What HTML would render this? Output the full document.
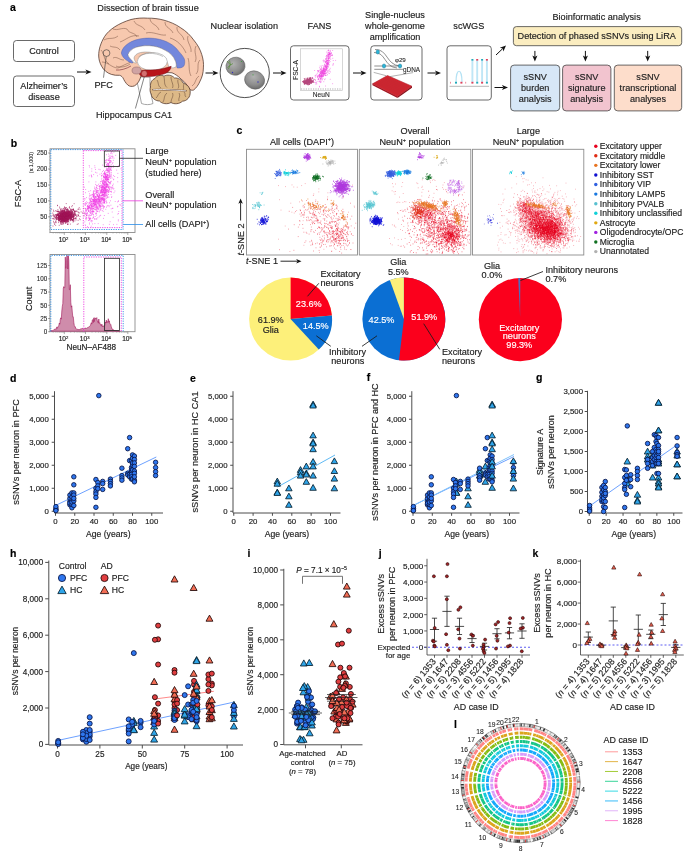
<!DOCTYPE html>
<html lang="en"><head><meta charset="utf-8"><title>Figure 1</title>
<style>
html,body{margin:0;padding:0;background:#fff;}
body{width:700px;height:856px;overflow:hidden;font-family:'Liberation Sans', Arial, Helvetica, sans-serif;}
svg{display:block;}
svg text{font-family:"Liberation Sans",Arial,Helvetica,sans-serif;stroke:#222;stroke-width:.16px;}
</style></head><body>
<svg width="700" height="856" viewBox="0 0 700 856">
<rect width="700" height="856" fill="#fff"/>
<g id="panel-a">
<text x="10" y="11.3" font-size="10.5" font-weight="bold" fill="#000" style="stroke:#000">a</text>
<text x="97.3" y="11.2" font-size="9.15" fill="#222">Dissection of brain tissue</text>
<rect x="13.5" y="40.5" width="61.00" height="21.00" rx="3" fill="#fff" stroke="#444" stroke-width="0.8"/>
<text x="44" y="54.2" font-size="9.15" text-anchor="middle" fill="#222">Control</text>
<rect x="13.5" y="76" width="61.00" height="30.50" rx="3" fill="#fff" stroke="#444" stroke-width="0.8"/>
<text x="44" y="89.3" font-size="9.15" text-anchor="middle" fill="#222">Alzheimer’s</text>
<text x="44" y="100.3" font-size="9.15" text-anchor="middle" fill="#222">disease</text>
<line x1="77" y1="72" x2="87.02" y2="72.00" stroke="#111" stroke-width="1.0"/>
<polygon points="91.50,72.00 85.42,74.56 87.02,72.00 85.42,69.44" fill="#111"/>
<g stroke="#4e3227" stroke-width="0.75" stroke-linejoin="round">
<path d="M136,77 C138,86 140,95 141.5,103.5 C145,105 150,105 153,103.5 C151,95 149.5,86 150,77 Z" fill="#fff" stroke="#888"/>
<path d="M98.7,56 C98.5,50 100.6,43 104.6,36.5 C109,29.6 118.5,23.3 131,19.5 C137,18 143,17.8 147.6,18.2 C153,18 159,18.8 164,20.2 C170,21.8 176,24.5 180.4,27.6 C186,31 190.5,35.5 193.6,39.9 C197.5,44.5 200.3,49.5 201.8,54.7 C203.2,59 203.8,63.5 203.4,67.9 C203.3,73 202,77.5 200.1,81 C198.5,85 196,88.3 193.6,90 C192,90.6 190.3,90 189.5,89.2 C188,86 185,82 181,79 C178,76 175,74 172,72.8 C165,72 150,74 141,76 C140,80 137.5,84.5 134.4,85.9 C132,86.8 129.5,86.5 127.9,85.1 C125.5,83 124,80 122.9,77.7 C121.5,76 120.5,75.5 119.6,75.3 C116.5,75.5 114,75.2 111.4,74.4 C107,73 103.5,70 101.6,66.2 C99.8,63 98.8,59.5 98.7,56 Z" fill="#f7c8ae"/>
<path d="M104,40 C109,37 113,40 118,36 M113,29 C118,31 122,27 127,29 M127,29 C129,34 135,32 137,37 M134,21 C136,26 142,25 145,30 M150,19 C151,25 157,24 159,30 M165,22 C165,28 171,28 173,33 M177,27 C176,33 183,34 184,40 M188,36 C186,42 192,46 191,52 M196,46 C193,52 198,57 195,62 M200,60 C196,64 200,70 196,74 M199,76 C195,78 196,84 192,86 M120,42 C126,40 131,34 139,36 M146,33 C153,31 160,36 166,35 M170,38 C177,40 183,46 186,53 M188,58 C190,64 188,70 191,76 M101,50 C105,54 103,60 109,64 M102,62 C108,62 112,68 118,68 M113,58 C117,56 119,60 124,60 M110,46 C114,48 117,46 120,50 M118,68 C122,66 126,64 131,62 M116,66 C120,68 126,67 130,64" fill="none" stroke-width="0.45" stroke="#6b4636"/>
<path d="M116,70 C120,70.5 126,69 131,66" fill="none" stroke="#a05a5a" stroke-width="0.9"/>
<path d="M121.3,53 C122.5,46 131,39.5 144.3,38.3 C151,37.6 158,38.6 164,40.7 C170,42.8 175.5,46.6 178.8,51.4 C181.5,54.5 183.8,57 184.5,59.6 C185,62 184.8,64.5 183.7,66.2 C182,67.8 179,68.3 177.1,67.9 C176.4,66 176.5,63.5 175.5,61.3 C173.5,56 170,52.8 165.6,50.6 C160.5,47.5 155,45.9 149.2,45.7 C144.5,45.5 140,46 136.1,47.3 C132,48.8 129,51.5 127.9,54.7 C128.5,57 130.5,59 132,60.5 C133,61.5 133.2,62.3 132.8,62.9 C131.5,63.3 129.5,62.3 127.5,60.8 C124.5,59 122,56.5 121.3,53 Z" fill="#7387dc" stroke="#5463ad" stroke-width="0.5"/>
<path d="M127.9,54.7 C129,51.5 132,48.8 136.1,47.3 C140,46 144.5,45.5 149.2,45.7 C155,45.9 160.5,47.5 165.6,50.6 C170,52.8 173.5,56 175.5,61.3 C176.3,63.5 176.3,65.5 176,67 C173,68.5 170,68 168.5,66.5 C168,62 165,57 159,54.5 C153,52 146,51.5 140.5,52.5 C136.5,53.5 134.5,55.5 134,58 C134.3,60 135.3,61.8 136.5,63 C134.5,63.2 133.2,62.5 132,60.5 C130.5,59 128.5,57 127.9,54.7 Z" fill="#fff" stroke="#8a8a8a" stroke-width="0.5"/>
<ellipse cx="152.3" cy="61.5" rx="15" ry="9" fill="#fff" stroke="#8a8a8a" stroke-width="0.5"/>
<path d="M138.5,57 C143,52.5 155,52 163,56.5" fill="none" stroke="#8a8a8a" stroke-width="0.5"/>
<path d="M140.5,70.5 C146,69.6 154,70.3 160,69.2 C164.5,68.4 168,67.3 171.2,66.3 C171,69.3 168.5,72 165,73.6 C159,76.2 151,76.8 143.5,76.8 C140.5,76.5 139.2,74.5 139.2,72.8 C139.3,71.6 139.8,70.8 140.5,70.5 Z" fill="#b8151a" stroke="#6d0b0f" stroke-width="0.5"/>
<ellipse cx="136.6" cy="70.5" rx="4.6" ry="3.5" fill="#cfa3a3" stroke="#8a6060" stroke-width="0.5"/>
<ellipse cx="144.3" cy="73.6" rx="2.9" ry="3.1" fill="#d46f6f" stroke="#7a1a1a" stroke-width="0.5"/>
<path d="M150.5,87 C150,83 152,79.5 155,78.5 C156.5,75.5 161,74.5 164,76.2 C167,74.3 172,75 174.5,78 C178,77.5 182,80 183,83 C187,84 190.5,88 190.2,92 C190.5,97 187,101 182.5,101.2 C179.5,104 174,104.6 171,102.5 C167.5,104.5 162,104 159.5,101 C155.5,101 151.5,98 151.2,94 C149.8,92 149.8,89 150.5,87 Z" fill="#ddb987"/>
<path d="M157,80 C159,83 157.5,86 161,88 M164,77 C165,81 163.5,84.5 167,87.5 M171,77 C171,82 174,84 172.5,88 M178,79.5 C177,83 180,85.5 178,88.5 M184,84 C182.5,86.5 184.5,88 183,90 M156,98 C158.5,96 157.5,93.5 161,92 M163,102 C165,98.5 163.5,96 167,93 M171,102.5 C171,98.5 174,96.5 172.5,93 M179,101 C178,98 181,96 179,93 M186,97 C184,95.5 186,93.5 184,92" fill="none" stroke-width="0.45"/>
<path d="M152.5,89.8 C160,88.8 170,90 186.5,90.8" fill="none" stroke="#5b3b2e" stroke-width="1.5"/>
<path d="M153,89.8 C160,88.8 170,90 186,90.8" fill="none" stroke="#fff" stroke-width="0.8"/>
</g>
<circle cx="106.5" cy="53.1" r="3.4" fill="none" stroke="#333" stroke-width="0.6"/>
<line x1="106.2" y1="56.6" x2="103.5" y2="77.7" stroke="#333" stroke-width="0.6"/>
<text x="94.5" y="87.8" font-size="9.15" fill="#222">PFC</text>
<line x1="144.3" y1="76.7" x2="135.4" y2="108.5" stroke="#333" stroke-width="0.6"/>
<text x="96" y="117.5" font-size="9.15" fill="#222">Hippocampus CA1</text>
<line x1="205.5" y1="73" x2="214.02" y2="73.00" stroke="#111" stroke-width="1.0"/>
<polygon points="218.50,73.00 212.42,75.56 214.02,73.00 212.42,70.44" fill="#111"/>
<text x="244.3" y="28.8" font-size="9.15" text-anchor="middle" fill="#222">Nuclear isolation</text>
<circle cx="244.75" cy="73" r="24.6" fill="#fff" stroke="#222" stroke-width="0.8"/>
<defs><radialGradient id="nuc" cx="0.4" cy="0.35" r="0.7"><stop offset="0" stop-color="#b2b2b2"/><stop offset="0.65" stop-color="#8c8c8c"/><stop offset="1" stop-color="#686868"/></radialGradient></defs>
<ellipse cx="235.5" cy="66.2" rx="9.6" ry="9" fill="url(#nuc)" stroke="#5a5a5a" stroke-width="0.5" transform="rotate(-15 235.5 66.2)"/>
<ellipse cx="254.6" cy="80" rx="10.1" ry="9" fill="url(#nuc)" stroke="#5a5a5a" stroke-width="0.5" transform="rotate(20 254.6 80)"/>
<path d="M227,61 l3.5,4 l-1,-4.5 M227.5,67.5 l3,-2.5 l2.5,-1.5 M228.5,69 l1.5,-4" stroke="#4c8a2a" stroke-width="0.6" fill="none"/>
<circle cx="241.5" cy="61.5" r="0.6" fill="#3aa03a"/><circle cx="232.5" cy="72.5" r="0.7" fill="#3030c0"/><circle cx="253" cy="74.8" r="0.6" fill="#3aa03a"/><circle cx="258" cy="82" r="0.7" fill="#3030c0"/>
<line x1="273" y1="73" x2="282.02" y2="73.00" stroke="#111" stroke-width="1.0"/>
<polygon points="286.50,73.00 280.42,75.56 282.02,73.00 280.42,70.44" fill="#111"/>
<text x="319.5" y="28.8" font-size="9.15" text-anchor="middle" fill="#222">FANS</text>
<rect x="290.5" y="45.8" width="58.50" height="54.20" rx="3" fill="#fff" stroke="#444" stroke-width="0.8"/>
<rect x="300.5" y="48.8" width="42" height="41.7" fill="#fff" stroke="#bbb" stroke-width="0.6"/>
<text x="297.9" y="70" font-size="6.6" text-anchor="middle" transform="rotate(-90 297.9 70)" fill="#222" style="stroke-width:.08px">FSC-A</text>
<text x="321.3" y="97.4" font-size="6.6" text-anchor="middle" fill="#222" style="stroke-width:.08px">NeuN</text>
<path transform="scale(.1)" d="M3043 786zm4 10zm4 2zm0-1zm9-14zm1 14zm7 1zm2-8zm0 7zm3 2zm1-10zm1 8zm3-1zm1 2zm0-7zm0-12zm1 19zm3 1zm0-4zm1 0zm2 2zm0 1zm0-2zm6-2zm0-8zm1 6zm1 7zm2-20zm0 11zm1 3zm4-5zm3 8zm0 1zm2-21zm0 16zm0-12zm2 18zm1-4zm1-10zm2 11zm1 2zm1 1zm0-1zm8-21zm2 10zm17 6zm-115 23zm7 9zm2-9zm1-7zm2 2zm3 5zm1-4zm1 9zm0-2zm1-13zm1 0zm2 9zm1-4zm2 0zm1 6zm0 4zm1 1zm2-5zm0-7zm1 2zm2 6zm0 0zm1 5zm0-22zm0 19zm1 1zm1-5zm1-7zm0-5zm1 9zm0 5zm1-3zm0-4zm0 2zm1-2zm0-4zm0 9zm0 3zm1-13zm0 15zm1-1zm0 5zm0-5zm1 4zm0-4zm1-5zm1-4zm0 13zm0-8zm1-9zm0 10zm1-2zm0 5zm2-2zm0-11zm1-3zm0 7zm0 14zm1-22zm0 3zm1 8zm0 7zm0 3zm1-14zm1 12zm0-11zm0 4zm0 10zm0-13zm0 4zm1 3zm0-4zm0-4zm1 1zm0 6zm0 7zm0-10zm0-14zm1 4zm0 2zm0 10zm0-2zm0-9zm0 13zm1-6zm0 9zm0 0zm0-17zm0-1zm0 15zm0-8zm1 14zm0-8zm0 6zm0 2zm1-21zm0 14zm1-2zm1 6zm0 2zm1-9zm1 5zm0 3zm1-9zm0 5zm0-11zm0 0zm0 17zm0-8zm0-8zm1 14zm0-7zm0-10zm0-1zm1 11zm0-11zm0 12zm0 2zm1-8zm0-10zm1 12zm0 6zm0-3zm0 6zm0-11zm1 9zm0-15zm0 16zm0-13zm0 4zm1 0zm0 2zm0 11zm0-12zm0 10zm1-6zm0-12zm0-4zm0 19zm0-4zm0 9zm0-2zm1-5zm0-11zm1 3zm0 8zm0-1zm1 3zm0 3zm0-10zm0 12zm0 0zm0-13zm1 3zm1 5zm1-11zm0-4zm0 9zm1 5zm1-9zm0 13zm0-10zm1 3zm0-3zm0-4zm1 9zm0-4zm0-13zm0 13zm1 9zm0-11zm1-6zm1 3zm1 13zm1-2zm0-8zm2 4zm0 3zm0-10zm0-1zm0-6zm1 4zm0 14zm2-1zm2-3zm0 7zm0-12zm1 13zm2-13zm0 10zm0-4zm2-8zm2 5zm3 9zm4-18zm2 8zm5 10zm-97 15zm0-4zm0-1zm2-3zm2 13zm2-13zm2 6zm2-7zm3 10zm4-8zm2 7zm2-11zm1 11zm0-12zm1 4zm2 0zm0 10zm1-14zm1 13zm0-11zm0-1zm2 3zm1 2zm0 14zm1-9zm3-11zm0 1zm1 3zm2-1zm0 20zm2-14zm1-7zm0 1zm1-2zm0-1zm1 6zm1 0zm0 17zm1-19zm1 0zm1 12zm2-11zm1-2zm1-1zm1 17zm1-18zm1 2zm1 15zm1-18zm2 8zm2-2zm1-2zm5 1zm4 4zm3-3zm1-6zm0 0z" stroke="#a3195b" stroke-width="11" stroke-linecap="round" fill="none" opacity="0.8"/>
<path transform="scale(.1)" d="M3268 520zm12-13zm5 17zm0-21zm1-2zm3 6zm12 12zm1-5zm1-10zm24 1zm-55 25zm7 13zm3-7zm0 8zm1 3zm1-2zm2-18zm1 16zm7 2zm0-14zm1 1zm0 4zm0-9zm1 17zm0-2zm0 7zm3-15zm1 2zm0-2zm0 1zm2 12zm6-3zm2-7zm1-7zm0 2zm3-3zm8 20zm-61 16zm6-10zm3 7zm1-6zm0-5zm2 12zm8 2zm1-12zm1 8zm2 7zm2-16zm2 1zm0 9zm2 6zm5 2zm5-2zm0-14zm3 10zm4-13zm8 4zm5 1zm4-4zm-69 38zm0-1zm5 9zm4-22zm1 8zm1 11zm1-10zm6-8zm6 9zm2 8zm1-8zm0-10zm1 7zm2 8zm3-12zm0 4zm1 4zm0-1zm9-11zm1 14zm8 2zm20-8zm-97 24zm6-6zm0 17zm10-10zm3 9zm3-4zm4 4zm4-5zm0 7zm3-8zm2 0zm1-5zm1 4zm1 10zm1 2zm3-17zm2-3zm2 4zm1 10zm0-10zm1 0zm2 1zm2-4zm4 7zm0 10zm1 1zm3-15zm3-1zm7 11zm31-11zm25-1zm-110 38zm3 2zm3-19zm4 0zm4 7zm5 9zm1-6zm2 12zm1-11zm0-5zm0-1zm1 11zm1-5zm1 3zm1-13zm0 1zm0 18zm1-8zm3-5zm1 11zm0-14zm1 17zm3-10zm0-4zm3 4zm1 13zm2-8zm1-16zm2 24zm39-5zm2-8zm-132 25zm15 8zm5-14zm13 6zm7 9zm3-20zm1 17zm1-10zm3 13zm5-14zm1 1zm0 10zm1-3zm1 6zm2-11zm0 6zm1 6zm0-9zm2 10zm0-4zm4-8zm1 12zm0-4zm0-11zm2-6zm3 5zm2 10zm1-8zm0 10zm5-7zm2 5zm0 6zm47-19zm-133 25zm8 19zm4-7zm1-2zm4 2zm3-12zm3 20zm10-10zm3-8zm1 16zm1-13zm2-1zm0 14zm1 1zm1-15zm1-1zm1 9zm0 9zm1-13zm0 0zm0 12zm2-2zm2-5zm6 6zm0-5zm0-3zm5 8zm2-3zm0-14zm1 12zm2-5zm0 10zm1-21zm0 0zm2 3zm0 20zm0-17zm0 1zm1 13zm1-17zm0 20zm6-12zm1 1zm4-10zm14 21zm7 0zm4-16zm-155 22zm28 14zm1-14zm6 1zm2 11zm2 0zm1-10zm8-5zm7 16zm0 1zm3-1zm2 2zm3-17zm1 21zm0-24zm3 22zm2-7zm1-4zm2 11zm1-15zm0 5zm1-4zm0 6zm1-2zm0-2zm2-8zm0 11zm2 9zm0 1zm1-19zm1 15zm1 1zm4-17zm1 5zm1-7zm0 4zm1 19zm0-18zm0 9zm0-10zm1 1zm0 3zm1 11zm2-7zm3 10zm0-16zm2 8zm0-10zm2 9zm0 4zm2-3zm1-2zm0 0zm1 3zm1-15zm5 12zm0-8zm3 2zm13 4zm5 0zm4-4zm10 9zm12 3zm-142 28zm10-10zm18 12zm4 0zm1-7zm2-13zm0 20zm1-4zm6-4zm1-12zm1 6zm0 0zm3 1zm0-10zm2 12zm0 0zm4 6zm2 1zm0-3zm1-9zm1-6zm1 7zm0-7zm0-2zm0 1zm4 5zm1 1zm1 13zm1-9zm0-7zm3 20zm1-18zm0 1zm1 2zm0 3zm4-4zm1-5zm0 16zm0-8zm1 13zm0-8zm1-12zm1 10zm1-2zm1-1zm3-6zm3 8zm1-5zm1 2zm0 4zm0 9zm0-15zm2-7zm4 11zm6-10zm4 10zm5-12zm4 21zm7-16zm11 5zm-143 24zm4 12zm1-15zm15 3zm4 1zm1 6zm3 5zm4-5zm5-10zm2 0zm1 14zm2-19zm1 13zm1 0zm1-10zm0 5zm1 13zm2 1zm2-5zm2-17zm2 11zm2-1zm0-1zm0 3zm2-4zm3 0zm1-2zm1 1zm1-3zm0 9zm0-12zm1 14zm1-2zm0-2zm3 4zm0-6zm0 1zm1 5zm3 2zm0-13zm4 10zm0-8zm3-4zm1 5zm1-5zm3 13zm1-8zm13-5zm4 2zm3 1zm12-1zm-144 20zm7 9zm25 14zm19-21zm5 17zm4 2zm0-4zm1-7zm1 7zm12-4zm4 8zm2-17zm1 10zm1-6zm2 1zm2 15zm3-22zm0 7zm6-8zm2 18zm1 5zm7-14zm17 12zm6-8zm50 4zm-167 19zm21-9zm7 18zm17-7zm16-1zm4 7zm1-10zm1 4zm11 5zm25-2zm-81 9zm2 16zm3-13zm6 9zm36-12zm123 11zm-133 26zm0 6zm60-9z" stroke="#f046e0" stroke-width="9" stroke-linecap="round" fill="none" opacity="0.7"/>
<path d="M301,89 H342" stroke="#999" stroke-width="0.8" stroke-dasharray="1.2 1.2"/>
<line x1="353" y1="73" x2="362.02" y2="73.00" stroke="#111" stroke-width="1.0"/>
<polygon points="366.50,73.00 360.42,75.56 362.02,73.00 360.42,70.44" fill="#111"/>
<text x="395" y="18" font-size="9.15" text-anchor="middle" fill="#222">Single-nucleus</text>
<text x="395" y="29" font-size="9.15" text-anchor="middle" fill="#222">whole-genome</text>
<text x="395" y="40.2" font-size="9.15" text-anchor="middle" fill="#222">amplification</text>
<rect x="370.8" y="45.8" width="51.20" height="54.20" rx="3" fill="#fff" stroke="#444" stroke-width="0.8"/>
<polygon points="372.5,83.8 387.5,75.5 412,86.2 397.5,96.5" fill="#d8242f" stroke="#a31520" stroke-width="0.5"/>
<polygon points="372.5,83.8 397.5,96.5 397.5,98 372.5,85.3" fill="#a31520"/><polygon points="397.5,96.5 412,86.2 412,87.7 397.5,98" fill="#8a1019"/>
<defs><pattern id="wells" width="1.6" height="1.6" patternUnits="userSpaceOnUse" patternTransform="rotate(25)"><circle cx="0.8" cy="0.8" r="0.42" fill="#8c2a30"/></pattern></defs>
<polygon points="374.5,83.8 387.5,76.8 410,86.2 397.5,95" fill="url(#wells)"/>
<path d="M373.7,72.4 L386.2,75.7 M413.2,72.6 L390,76.6" stroke="#666" stroke-width="0.5" fill="none"/>
<path d="M374.3,66 H401.6 M374.3,69.3 H403" stroke="#444" stroke-width="0.6" fill="none"/>
<path d="M375,49.5 C388,49 386,65 400,66 M374,52.5 C386,52 384,67 397,68" stroke="#444" stroke-width="0.6" fill="none"/>
<ellipse cx="377.8" cy="52" rx="1.7" ry="2.1" fill="#29b4d8" stroke="#14708a" stroke-width="0.4"/><ellipse cx="384" cy="66" rx="1.7" ry="2.1" fill="#29b4d8" stroke="#14708a" stroke-width="0.4"/><ellipse cx="400" cy="66" rx="1.7" ry="2.1" fill="#29b4d8" stroke="#14708a" stroke-width="0.4"/>
<text x="394.9" y="62.3" font-size="6.2" fill="#222" style="stroke-width:.08px">φ29</text>
<text x="403" y="71.5" font-size="6.4" fill="#222" style="stroke-width:.08px">gDNA</text>
<line x1="427.5" y1="73" x2="436.52" y2="73.00" stroke="#111" stroke-width="1.0"/>
<polygon points="441.00,73.00 434.92,75.56 436.52,73.00 434.92,70.44" fill="#111"/>
<text x="468.8" y="28.8" font-size="9.15" text-anchor="middle" fill="#222">scWGS</text>
<rect x="447" y="45.8" width="44.30" height="54.20" rx="3" fill="#fff" stroke="#444" stroke-width="0.8"/>
<path d="M449.5,86.3 H489" stroke="#888" stroke-width="0.6"/>
<path d="M472.4,60 V82.5 M477.2,60 V82.5 M482.1,60 V82.5 M486.9,60 V82.5" stroke="#bfe6f6" stroke-width="1.9" fill="none"/>
<path d="M456,82.5 C456,67.5 462,67.5 462,82.5" stroke="#b4e2f4" stroke-width="1.2" fill="none"/>
<rect x="450.09999999999997" y="81.8" width="0.6" height="1.8" fill="#e0405a"/>
<rect x="455.0" y="81.8" width="2" height="1.8" fill="#20a8b8"/>
<rect x="460.4" y="81.8" width="2" height="1.8" fill="#e0405a"/>
<rect x="465.5" y="81.8" width="0.6" height="1.8" fill="#e0405a"/>
<rect x="471.4" y="81.8" width="2" height="1.8" fill="#e0405a"/>
<rect x="476.2" y="81.8" width="2" height="1.8" fill="#20a8b8"/>
<rect x="481.1" y="81.8" width="2" height="1.8" fill="#e0405a"/>
<rect x="485.9" y="81.8" width="2" height="1.8" fill="#20a8b8"/>
<rect x="471.4" y="59" width="2" height="1.6" fill="#20a8b8"/>
<rect x="476.2" y="59" width="2" height="1.6" fill="#e0405a"/>
<rect x="481.1" y="59" width="2" height="1.6" fill="#20a8b8"/>
<rect x="485.9" y="59" width="2" height="1.6" fill="#e0405a"/>
<line x1="496" y1="55" x2="502.75" y2="48.59" stroke="#111" stroke-width="1.0"/>
<polygon points="506.00,45.50 503.36,51.54 502.75,48.59 499.83,47.83" fill="#111"/>
<line x1="494.5" y1="87.5" x2="503.52" y2="87.50" stroke="#111" stroke-width="1.0"/>
<polygon points="508.00,87.50 501.92,90.06 503.52,87.50 501.92,84.94" fill="#111"/>
<text x="596.6" y="19.7" font-size="9.15" text-anchor="middle" fill="#222">Bioinformatic analysis</text>
<rect x="513.4" y="26.6" width="168.30" height="19.10" rx="3" fill="#fbedc0" stroke="#444" stroke-width="0.8"/>
<text x="596.7" y="39.2" font-size="9.15" text-anchor="middle" fill="#222">Detection of phased sSNVs using LiRA</text>
<line x1="534.9" y1="50.9" x2="534.90" y2="57.12" stroke="#111" stroke-width="1.0"/>
<polygon points="534.90,61.60 532.34,55.52 534.90,57.12 537.46,55.52" fill="#111"/>
<line x1="585.4" y1="50.9" x2="585.40" y2="57.12" stroke="#111" stroke-width="1.0"/>
<polygon points="585.40,61.60 582.84,55.52 585.40,57.12 587.96,55.52" fill="#111"/>
<line x1="647.7" y1="50.9" x2="647.70" y2="57.12" stroke="#111" stroke-width="1.0"/>
<polygon points="647.70,61.60 645.14,55.52 647.70,57.12 650.26,55.52" fill="#111"/>
<rect x="510.6" y="65.1" width="49.10" height="45.80" rx="3.5" fill="#d7e7f7" stroke="#444" stroke-width="0.8"/>
<rect x="562.6" y="65.1" width="48.30" height="45.80" rx="3.5" fill="#f2c4cf" stroke="#444" stroke-width="0.8"/>
<rect x="614.3" y="65.1" width="67.40" height="45.80" rx="3.5" fill="#fdddcb" stroke="#444" stroke-width="0.8"/>
<text x="535.2" y="79.5" font-size="9.15" text-anchor="middle" fill="#222">sSNV</text>
<text x="535.2" y="90.8" font-size="9.15" text-anchor="middle" fill="#222">burden</text>
<text x="535.2" y="102.1" font-size="9.15" text-anchor="middle" fill="#222">analysis</text>
<text x="586.7" y="79.5" font-size="9.15" text-anchor="middle" fill="#222">sSNV</text>
<text x="586.7" y="90.8" font-size="9.15" text-anchor="middle" fill="#222">signature</text>
<text x="586.7" y="102.1" font-size="9.15" text-anchor="middle" fill="#222">analysis</text>
<text x="648" y="79.5" font-size="9.15" text-anchor="middle" fill="#222">sSNV</text>
<text x="648" y="90.8" font-size="9.15" text-anchor="middle" fill="#222">transcriptional</text>
<text x="648" y="102.1" font-size="9.15" text-anchor="middle" fill="#222">analyses</text>
</g>
<g id="panel-b">
<text x="10.8" y="147" font-size="10.5" font-weight="bold" fill="#000" style="stroke:#000">b</text>
<rect x="50" y="148.8" width="85" height="83.7" fill="#fff" stroke="#8c8c8c" stroke-width="0.9"/>
<path transform="scale(.1)" d="M662 2036zm79 1zm-165 20zm0-4zm19 18zm50-2zm49-1zm24-1zm5-11zm-206 36zm62 5zm21-14zm6 12zm6-7zm11 3zm14-7zm3 7zm1 1zm3-2zm1-14zm10 17zm0-9zm3-1zm0-8zm3 22zm4-2zm0-17zm4 21zm2 0zm1-1zm2-11zm2 11zm1-1zm15-18zm3-1zm13 20zm0-9zm1 5zm17 2zm5-4zm1 1zm0 4zm3-5zm1 7zm45-5zm2-4zm9-13zm8 15zm38-9zm-303 19zm4 12zm17-6zm9 4zm7 0zm4 2zm1 1zm4 7zm4-6zm1 1zm2-6zm4 4zm7 4zm6-2zm1-11zm1 17zm0-3zm4 0zm1-1zm1-19zm0 5zm1 11zm2-2zm1 5zm2 4zm3-15zm0 5zm1-6zm1 7zm0 3zm0-3zm2-10zm3 5zm0 12zm1-1zm1 1zm0-20zm3 21zm1-2zm1-13zm1-1zm0 11zm1 4zm0-7zm4-9zm1 18zm1-16zm0 5zm0 1zm0-4zm1 10zm1 1zm0-5zm2 7zm0-5zm0-8zm1-8zm1 20zm3 2zm0-4zm1 5zm1-1zm1 1zm1-6zm4-13zm4 15zm0 3zm0-2zm1-8zm0 10zm2-11zm2 10zm1-13zm0 8zm0 1zm4 6zm2-14zm2 13zm1-6zm0 1zm0-2zm0-13zm1 9zm0 10zm0 0zm1-19zm0 19zm1 0zm2-22zm0 11zm1 8zm1-1zm0 3zm1-6zm0 7zm1 2zm5-9zm0-5zm1 13zm0-2zm0-1zm1 4zm0-4zm2-9zm4 2zm1 0zm1 11zm4-8zm0-12zm3 5zm0 2zm4 6zm1 6zm0-23zm0 1zm5 18zm0 4zm1-8zm1-4zm3 8zm4 1zm1-17zm6 1zm6 9zm1-2zm4 2zm1 9zm1-11zm0 11zm1-7zm9-3zm2 0zm8 0zm10 7zm31 0zm-283 12zm4 12zm18 6zm8-4zm11 3zm1-4zm0-1zm2 5zm2-10zm2 5zm6 2zm1-14zm0 11zm0 6zm1 1zm2 0zm3-14zm0 2zm0 10zm3-12zm0 7zm2-10zm0 4zm2-10zm0 8zm1-8zm3 20zm1 1zm2 0zm1-5zm0 7zm1-8zm1-4zm0 5zm0 4zm0-5zm1-9zm0-5zm1 14zm0 1zm1-11zm1 3zm1 8zm0-13zm1 20zm0-3zm0-3zm1-17zm0 21zm1-5zm0-4zm0-7zm1 12zm0 5zm0-15zm2-3zm0 12zm1-1zm0 6zm2 0zm0-10zm1 7zm1-5zm0 5zm0 4zm0-16zm0 6zm0-4zm1 13zm0 1zm0-1zm0-2zm1-4zm0-3zm0-11zm0 22zm0-4zm1 4zm0-1zm0-8zm0-8zm0 16zm0 1zm2-1zm0-11zm0 3zm1-8zm1-5zm0 8zm1-4zm1 13zm1-18zm0 11zm0 1zm0-7zm0 10zm0 1zm1-7zm0 13zm1-2zm0-9zm0 9zm1-6zm0-2zm0 0zm0 10zm1-11zm0-1zm0 6zm0-3zm0-14zm1 13zm0-6zm0 17zm0 0zm0-6zm0-3zm1-6zm0 11zm0 1zm0-12zm0 9zm1-11zm0 16zm0-9zm0 8zm1 2zm0-22zm0 13zm0-1zm0 5zm0-11zm1-5zm0 19zm0-10zm1 9zm0-17zm0 17zm0-18zm0 21zm0-16zm0 14zm1-10zm0 10zm0-4zm0 5zm0-5zm1 5zm0-3zm0 1zm0 3zm0-23zm0 21zm1-21zm0 14zm0 9zm0-7zm0-11zm0 12zm0 0zm0 6zm0-12zm0-1zm1-4zm0 10zm0 7zm0-4zm0-11zm0 12zm1 0zm0-5zm0-3zm1 1zm0-6zm0 10zm0-12zm0 14zm0-2zm0-6zm0 6zm0-6zm1 10zm0-2zm0-13zm0 5zm1 10zm0-5zm0-9zm0 2zm0 5zm0 8zm1-3zm2 1zm0-13zm0 5zm0 6zm1-6zm0 0zm0 10zm0 0zm0-17zm0 13zm0-12zm0 12zm1 0zm0-3zm0 4zm0 1zm1-11zm0 14zm0 0zm0-21zm0 13zm1 7zm0 0zm0-1zm0-2zm0-4zm0 7zm0-2zm0-6zm1-7zm0 4zm0 8zm0 0zm1-7zm0-4zm1 8zm0-3zm0-4zm1-6zm0 10zm0 8zm0 1zm0-11zm0-4zm0 15zm1-10zm0-10zm0 15zm0 2zm1 1zm0-6zm0-7zm0 6zm0-5zm1-5zm0 19zm1-9zm1 8zm0 2zm0 0zm0-7zm1-6zm0 12zm0-8zm0-2zm1-8zm0 12zm0 6zm0-8zm0 9zm1-10zm0 6zm0-3zm1-1zm0-10zm1 12zm0 4zm0-2zm0-5zm0 5zm0-1zm1 5zm0-14zm1-4zm0 10zm0-3zm0 0zm0-13zm1 9zm0 13zm0-3zm1-16zm0 1zm0 4zm0-4zm0 20zm0-5zm1 0zm0-10zm0 14zm0-4zm0 4zm0-20zm2 20zm0-18zm0 8zm0-5zm1-5zm0 5zm0 8zm1-13zm0 10zm0 4zm1-10zm0 4zm0-3zm0-5zm1 19zm0-12zm1 11zm0 1zm0 2zm0-4zm0-1zm1 0zm1-6zm1 8zm0-9zm0 0zm0 2zm0-1zm1 3zm0-15zm1 23zm0-23zm0 19zm1-14zm0-6zm1 24zm0-1zm1-17zm1-3zm0 8zm1-4zm1 6zm0 9zm0 0zm0-10zm1 11zm1 1zm0-3zm0-15zm1-3zm0 21zm0-6zm0-4zm0 1zm1 1zm0 6zm1-1zm1 2zm0-3zm1-15zm1 0zm1 11zm1 3zm1-4zm0 5zm1-13zm2 9zm0 3zm0-16zm1 19zm0-19zm0-2zm0 2zm0 5zm1 13zm2 3zm0-11zm1 0zm1 9zm0-17zm1 15zm0-8zm1 12zm0-19zm0 15zm1-2zm0-2zm1-1zm0 6zm2-12zm2 3zm2-11zm0 15zm3-12zm1 8zm1 2zm1 7zm1-6zm4 8zm1 1zm3-14zm2-10zm0 3zm2 17zm4-6zm1 4zm0-8zm4 2zm2 9zm15 2zm16-21zm8 2zm33 1zm17 2zm-331 30zm18-6zm4-4zm6 15zm1-5zm5 10zm0-12zm6-2zm6 15zm1-23zm1 17zm3 3zm1-14zm0 4zm0 11zm2-6zm2-12zm1 21zm2-23zm1 21zm0-17zm2-3zm1 4zm1-4zm2-1zm1-1zm1 20zm0 3zm3-12zm1-7zm1 9zm2 5zm0-14zm0 19zm0-16zm1 4zm1 8zm0-11zm0 7zm0 8zm0-3zm0 3zm1-20zm0 13zm0-7zm1-2zm1 17zm0-17zm1 9zm0 8zm1-10zm0-1zm1 6zm0 2zm0-11zm1-3zm1 12zm0-17zm1 15zm0 4zm0-2zm1-4zm0 8zm2-21zm0 5zm1 10zm0-4zm0-5zm0 1zm0 12zm1-3zm0-3zm1 5zm0 1zm0-11zm0-7zm1 7zm0 10zm0-9zm0-7zm0-2zm0 15zm0-14zm0-3zm1 10zm0 3zm0-13zm1 2zm0-2zm0 13zm0 0zm0-1zm1 0zm0-2zm0-3zm0 6zm1-4zm0 0zm0-4zm0 0zm0 15zm0-6zm0-1zm1 8zm0-10zm0-11zm0 12zm0 5zm0-17zm0 20zm1-13zm1 6zm0 2zm0-8zm0-6zm0 16zm1-9zm0-1zm0 13zm0-12zm0-6zm0 14zm0-15zm1 10zm0 11zm0-5zm0-14zm0 13zm1-16zm0 12zm0-9zm0 7zm0 5zm1-8zm0 13zm0-8zm1-7zm0 16zm0-8zm0 4zm0-9zm1 5zm0 11zm1-4zm0 1zm0-13zm0 14zm0-22zm0 20zm0-5zm0 0zm0-4zm0-2zm1 6zm0 8zm1-15zm1 13zm0 1zm0-8zm0 5zm1-13zm0 15zm0-9zm0-4zm1 10zm0-9zm0 4zm0 4zm0 1zm0 0zm0-17zm1 4zm0 19zm0-6zm0-8zm0-2zm0-8zm0 18zm1 1zm0-15zm0 12zm0-7zm0 1zm1 6zm0-8zm0 5zm0 0zm1-10zm0 15zm0-10zm0-6zm0 16zm0 1zm1-6zm0-7zm0-2zm1 5zm0-7zm0-1zm0 0zm0 23zm1-12zm0 2zm0-10zm1 6zm0 3zm0 9zm0-6zm0-6zm0-2zm0 14zm0-21zm0 4zm0 5zm1-1zm0-5zm0 6zm0 7zm1-17zm0 22zm0-2zm0-9zm1 9zm0-20zm0 2zm0 14zm0 7zm0-3zm0-18zm1-1zm0 7zm0 4zm0 6zm0-11zm0 6zm0 5zm0-17zm0 19zm1-8zm0 7zm0 4zm0-17zm0 9zm1-2zm0 4zm0 5zm0-15zm0 16zm0-3zm0-7zm0 4zm1-8zm0 4zm0-6zm0 16zm0-18zm1 4zm0-7zm0 12zm0 7zm0-20zm0 17zm0 2zm0-5zm0 8zm1-9zm0-4zm0 4zm0 1zm0-8zm1 8zm0-5zm0-4zm0 7zm0-12zm1 9zm0-3zm0-1zm0 14zm0-5zm0 7zm1-9zm0-4zm0 12zm0-6zm0-7zm1-3zm0 6zm0 5zm0 5zm0-6zm0-5zm1-3zm0 15zm0-21zm0 17zm0-12zm0 13zm1 3zm0-19zm0 15zm0-6zm0-4zm0 11zm0-3zm1-12zm0 13zm0-9zm0-3zm0 2zm1 17zm0-6zm0-15zm0 1zm0 9zm1 4zm0 3zm0-15zm0-3zm0 16zm0-1zm1-9zm0 14zm0-9zm0 10zm0-18zm0 13zm0-13zm1-2zm0 6zm0 10zm0-3zm0 6zm0-5zm0-13zm0 9zm1 3zm0 4zm0 3zm1-19zm0 8zm1-8zm0-4zm0 21zm0-18zm0 8zm1 6zm0-7zm0-8zm0 10zm0 11zm0-15zm1-1zm0 11zm0-15zm0 6zm0 3zm0 7zm0 5zm1-9zm0 1zm0-5zm0-3zm0-2zm0 11zm0 5zm0 1zm0-12zm0 7zm0-4zm0-1zm1-2zm0 13zm0-18zm0 7zm0 11zm0-17zm0 9zm0-7zm0-1zm1 9zm0 3zm0 2zm0-12zm0 8zm0-15zm0 6zm0 7zm1 3zm0-4zm0 3zm0 6zm1-10zm0 9zm0-9zm0 6zm0-20zm0 7zm0 8zm0-4zm0 1zm1-6zm0 16zm0-6zm0 0zm0-1zm0-4zm0 12zm1-15zm0-1zm0-1zm0 13zm0-14zm0 2zm0 4zm0-3zm0 3zm1-8zm0 0zm0 21zm0-9zm0-14zm0 14zm0 9zm0-17zm1 10zm0-2zm0 4zm0-18zm0 16zm1-12zm0 4zm0 5zm0-4zm0 11zm0-8zm0 0zm0-9zm1 6zm0-2zm0-2zm1 6zm0-11zm0 7zm0-3zm0 5zm1 13zm0-14zm0 5zm0-5zm0 9zm0-8zm0 5zm0 0zm0-2zm1-11zm0 4zm0 11zm0-4zm0 0zm0 4zm1 3zm0-7zm0 0zm0-8zm0-4zm0-1zm0 24zm0-1zm0-7zm1-1zm0 4zm0 5zm0-10zm0 4zm0-6zm1 5zm0-5zm0 6zm1 3zm0-11zm0 9zm0 1zm0-17zm0 8zm0 8zm0-7zm0 0zm0 11zm1-9zm0 4zm0-9zm1-2zm0 13zm0-1zm0 3zm0-7zm0 4zm1 2zm0-9zm0 12zm0 0zm0-21zm1 14zm0 5zm0-16zm1 9zm0-9zm0-3zm0 14zm1-17zm0 8zm0 3zm0-1zm1 2zm0-7zm0 9zm0-7zm0 13zm0-11zm0-4zm1 13zm0-6zm0 0zm1 10zm0-12zm0 8zm0 0zm0-12zm1-6zm0 11zm0 4zm0-14zm0 15zm1-10zm0 0zm0 2zm0 8zm0 8zm0-2zm1-3zm0 0zm0-9zm0 1zm1-11zm0 14zm1-1zm0-8zm0 13zm1-17zm0 21zm0-4zm0-6zm0-5zm1 3zm0 0zm0 12zm0-3zm0-7zm0 10zm1-11zm0-1zm0 0zm0-2zm0 0zm1-6zm0 0zm0 10zm0-7zm0 14zm0-17zm0 10zm0 6zm1 1zm0-17zm1 21zm0 1zm0-16zm0 5zm0 6zm0-6zm1-12zm0 12zm0-11zm2 11zm0 4zm1-14zm0 18zm1-9zm0 0zm0 0zm1-1zm0-5zm0-6zm1 2zm0 5zm1-7zm0 19zm0-2zm0-15zm0-1zm1 4zm0 13zm0-3zm0-12zm0 14zm1-12zm0 6zm0 13zm2-4zm0-17zm3 16zm0-13zm1 3zm1 14zm1-22zm0 14zm1 8zm0-3zm1-19zm0 18zm0-3zm2-11zm2-1zm1 11zm0-3zm0-9zm1 6zm1-1zm2-6zm2 12zm0 3zm3-8zm0-9zm1 19zm0 3zm1-7zm2 6zm3-6zm0 5zm0-18zm1 7zm1 6zm0-13zm1-1zm0 7zm1 9zm0 1zm8-13zm4-3zm2-2zm7 5zm6 11zm12-4zm2-12zm3 1zm0 5zm16 10zm40-10zm27 1zm-340 29zm7-2zm5 7zm9-1zm7-14zm4 13zm2-5zm1-1zm4 16zm1-4zm0-7zm2-2zm4-9zm3 12zm3 1zm0 3zm3-13zm2-2zm0 17zm1-12zm1 5zm0-1zm0 0zm1 0zm1-1zm1 3zm1-9zm1 18zm0-8zm1-10zm0 5zm1 5zm0-9zm0-1zm1-3zm0 9zm1 5zm1 7zm0 1zm2-4zm0 0zm2 0zm0-13zm0-7zm0 9zm2 12zm0-13zm1-6zm1 20zm0-15zm1 7zm0 1zm1-13zm0 22zm0-10zm1-12zm0 12zm0-1zm1 2zm0 3zm1-14zm0 16zm0-9zm0 8zm0-8zm1 10zm1-13zm0-8zm0 20zm0-3zm1 7zm0-6zm1-14zm0 14zm0-17zm0 12zm0 4zm0-6zm1 11zm0-19zm0 0zm0 10zm1 7zm0-6zm0-3zm1 8zm0-1zm0-17zm1 20zm0-7zm0-6zm0-2zm0 6zm1 1zm0-7zm0-4zm0 3zm0 18zm0-7zm0-14zm0 2zm0 13zm1 1zm0-16zm0 20zm0-6zm0 7zm0-19zm0 3zm2 4zm0 10zm0-16zm0-3zm0 22zm0-13zm1-5zm0-5zm0 17zm1-8zm0-5zm0 1zm0 8zm1-5zm0-4zm0 7zm0-6zm0-3zm0-2zm0 9zm0 6zm0-6zm1 12zm0-8zm0-8zm0-3zm1 2zm0-2zm0 0zm1 5zm0 3zm0-4zm0 1zm1 5zm0-8zm0 1zm0-2zm0 16zm1-3zm0-10zm0-6zm0 11zm0-11zm0 4zm0 7zm0-4zm1-3zm0 10zm0-10zm0 10zm0-15zm1 14zm0-10zm0-2zm1 3zm0 1zm0 8zm0 6zm1 4zm0-6zm0-15zm0 5zm0 8zm0-7zm0-4zm1 6zm0 6zm1-5zm0-12zm0 16zm0-14zm0 5zm0 17zm0-1zm1-9zm0-1zm0-1zm0 5zm0-7zm0 10zm1-9zm0 1zm0-12zm0 6zm1 0zm0 3zm0 2zm0-4zm0-1zm1 13zm0-15zm1 1zm0 5zm0-7zm0 20zm0-22zm0 9zm0-9zm1 22zm0-13zm0 12zm1-3zm0-7zm0-9zm1 4zm0 10zm0 3zm0-17zm0 11zm1 6zm0-12zm1 2zm0 6zm0-2zm0 4zm0-15zm0 8zm0-7zm1-1zm0-1zm0 18zm0-18zm0 22zm0-16zm0 12zm0-4zm1 1zm0-6zm1 1zm0-12zm1 4zm0 13zm0-1zm1-12zm0 0zm0 7zm0-4zm0-4zm0 5zm1 0zm0-3zm1 15zm0-14zm0 3zm0-2zm0 1zm1 11zm0-13zm1 2zm0 7zm0 4zm0-5zm0 8zm0-7zm1-7zm0 2zm1-5zm0-4zm0 14zm1-9zm0-5zm0 8zm0 2zm0-2zm1 2zm0 5zm0-8zm0 5zm0-10zm0 10zm1-3zm0-10zm0 3zm0 15zm0-5zm0-10zm0 6zm0 2zm0 9zm1-17zm0-1zm0 0zm0 6zm0-5zm0 14zm1-6zm0-8zm1 8zm0 10zm0-17zm0 0zm0 18zm1-10zm0-9zm0-3zm0 4zm1 15zm0-12zm0 12zm0-4zm0 8zm0-15zm0 3zm0 0zm1-4zm0 12zm0-3zm0 2zm0-8zm1 5zm0-7zm0 3zm0-5zm0 13zm1-7zm0-2zm0 10zm0-15zm0-1zm0 7zm0-2zm1 8zm0-3zm0-12zm0 9zm1-9zm0 8zm1 0zm0-9zm0 17zm1 4zm0-17zm0 16zm1-13zm0-4zm0 0zm0 15zm0-10zm1-5zm1 9zm1-11zm0 8zm0 4zm1 5zm0-4zm0-12zm1 1zm0-1zm0 18zm0-5zm0-3zm0 6zm0-10zm0 15zm0-11zm1-12zm0 5zm0 14zm0-17zm0 7zm0-4zm0-1zm0 5zm2 5zm0-13zm0 1zm1 1zm0 7zm0 13zm1-19zm0 0zm1 12zm0 1zm0-12zm0 8zm2-5zm1 8zm0-4zm0 0zm0-2zm1 4zm0 6zm1-1zm1-14zm1-6zm0 1zm4-1zm1 5zm0-1zm1 2zm0-5zm1 6zm1 6zm1-4zm2 12zm0-9zm1-10zm0 4zm0 6zm0 4zm1 0zm1-15zm1 4zm0 3zm2 6zm0-9zm2-1zm1 5zm2 1zm0 5zm2-12zm0 9zm1-7zm1 12zm0 4zm4-18zm1 0zm0 20zm4-22zm1 21zm1-2zm2 2zm3-21zm1 22zm2-14zm2 5zm1 6zm0-10zm1 3zm7-5zm8-1zm2-2zm0 7zm5 12zm4-18zm31 7zm6 9zm-266 16zm20-2zm2 9zm3 0zm25-15zm2 2zm2-7zm0 13zm1-10zm2-3zm2 6zm6 1zm2 11zm1 3zm1-6zm2-6zm2-9zm1 16zm0 0zm2 0zm1-16zm2 3zm0 6zm1 6zm0-4zm1 11zm0-19zm1 0zm0 14zm1-15zm3 1zm1 5zm0-1zm1-5zm1 11zm1-3zm1-5zm0 13zm1-17zm0 2zm1 1zm0 5zm3 6zm0-4zm1-1zm1 2zm0-1zm0-4zm1-5zm0-2zm1 21zm1-19zm1 0zm0-2zm0 21zm1-19zm0 7zm0-7zm2-2zm1 0zm0 2zm3 12zm0-8zm0 11zm1-1zm0-14zm1 6zm0-2zm1 6zm0 3zm1-8zm0-6zm1 14zm0-9zm0 1zm2 5zm1-6zm0 10zm1-16zm0 1zm1-1zm2 11zm1-11zm1 3zm1 16zm0 1zm1-18zm0-1zm0 7zm1-4zm1 5zm0 14zm3-7zm2-5zm0-5zm2 2zm1-1zm0 1zm3 14zm2-12zm1-4zm1 8zm1 1zm1-8zm1 6zm5 0zm2-13zm1 21zm0-17zm16 3zm1-6zm4-1zm9 0zm4 2zm3 4zm5 15zm1-11zm3 2zm0-10zm14 7zm32-6zm-242 24zm5 4zm2 13zm13-16zm28-2zm22 5zm0 6zm0-10zm2 17zm2-4zm8-14zm4 1zm1 14zm6-3zm0-12zm1 11zm18-7zm6-4zm0 7zm15-1zm4 12zm2 1zm4-5zm21 1zm69 3zm10-6zm-252 22zm27-7zm35 0z" stroke="#a3195b" stroke-width="10" stroke-linecap="round" fill="none" opacity="0.8"/>
<path transform="scale(.1)" d="M1117 1516zm1 2zm21 4zm-74 25zm21-7zm19-8zm11-3zm5 9zm-34 25zm13-10zm0 11zm17 0zm5-3zm3 9zm6-1zm26-15zm-94 42zm16 3zm9-10zm6-9zm1 11zm6-5zm1-9zm5 3zm13 3zm20-1zm-83 23zm3 8zm4-10zm18 1zm4-2zm2 4zm8-2zm0 8zm0 11zm8-12zm1-6zm3 18zm0-3zm8-9zm17-8zm-82 25zm7-2zm6 20zm5-18zm9 20zm1-14zm1 1zm2 1zm1 3zm4 6zm6-20zm2 4zm5 0zm12 18zm13-11zm4-11zm-237 30zm4 15zm52-12zm78-7zm17 8zm4 14zm15-4zm7-19zm1 1zm1 4zm11-1zm0 10zm3-2zm1-12zm2 21zm1 2zm1-18zm0 19zm1-22zm17 8zm2 10zm0 0zm23 3zm0-17zm43 11zm9-10zm-267 31zm32-11zm6 18zm33-2zm12 4zm66-14zm1 16zm1-5zm3-6zm6 1zm3 7zm5-12zm4 10zm2-13zm5 18zm2-13zm2 7zm3-11zm2 12zm6 4zm5-19zm93 8zm-292 25zm37 11zm70-7zm9-12zm10 18zm3-5zm11-8zm4-6zm1-2zm11 21zm0-17zm2-3zm3 4zm1 13zm1-13zm1 16zm2-19zm2 10zm4-3zm1 7zm2-6zm6-2zm2-7zm12 3zm0 19zm54-23zm-230 45zm32-17zm30 13zm15-9zm16 14zm8-11zm4-1zm0-1zm1 6zm2-12zm1 4zm1 14zm2-6zm2 9zm2-18zm3 9zm1-1zm1 3zm0 7zm5-23zm3 18zm10 1zm1 3zm3-6zm12-13zm5 9zm1 2zm1-15zm0 17zm16 0zm64-8zm-287 25zm20-8zm3 3zm2 14zm1-1zm58-9zm41 4zm0-8zm3 1zm14 17zm0-3zm2-10zm1 6zm1 2zm0 4zm4-9zm2 11zm0-3zm3 4zm5-22zm1 9zm0-7zm2 16zm3-9zm1 10zm0 0zm1-5zm0 2zm1 3zm0 1zm1-19zm1 12zm1 7zm0 1zm1-9zm1 2zm3-3zm1 8zm2-18zm0 16zm1-11zm3 2zm0 12zm3-18zm0-1zm2 21zm4-16zm4 6zm5-5zm1 1zm4 4zm3-12zm3 10zm5 8zm6-11zm18-3zm13 9zm-129 18zm15 7zm12-11zm6-2zm1 6zm0-3zm0 9zm2 6zm0 3zm1-6zm2-5zm3 10zm0-8zm2-13zm2 12zm3 8zm0-14zm1 7zm1 3zm4-6zm0-8zm2 18zm0-2zm1-4zm2 6zm1-3zm1-3zm0 3zm1-15zm2 15zm0 4zm2-22zm1 14zm4 10zm3-23zm5 2zm9 5zm14-3zm13 17zm4-5zm39-16zm-288 43zm70 0zm49-3zm1 0zm6-16zm5 15zm5-7zm2 8zm2-9zm7 1zm0-6zm1 14zm2-16zm2 14zm0-14zm1 16zm2-5zm0 11zm6-3zm2-16zm3 15zm2 0zm2-5zm2 6zm3-15zm3 6zm3-8zm2 1zm3 13zm5-16zm3 18zm0 0zm1 0zm4 5zm15-2zm6-4zm3-5zm66 6zm-223 26zm31-1zm16-10zm15 16zm8-22zm1 3zm1-2zm3 12zm0-7zm1 2zm1 7zm0 1zm5-6zm0-11zm2 22zm1-17zm3 0zm1 14zm1-16zm3 20zm2-22zm0 15zm1 4zm1-21zm0 10zm1 13zm8-16zm0 12zm1-16zm1 15zm0-14zm1 7zm3 5zm3 3zm1 3zm1-3zm0 3zm0-1zm5-8zm12 9zm1-20zm9 7zm0-9zm0 5zm0-3zm8 11zm26 3zm-287 31zm99-1zm20-10zm2-8zm8 4zm15 6zm3-7zm2 9zm4-1zm3 6zm4-12zm4-4zm3 19zm2-10zm3-6zm3 16zm1-4zm2-9zm1 1zm1 8zm1-3zm1 7zm1-6zm0-13zm0 18zm3-4zm1-18zm0 16zm2 5zm5-6zm1-14zm1 20zm0 2zm1-18zm0 18zm0-22zm5 8zm4 14zm2-19zm0 14zm2 0zm4-7zm1 3zm2-3zm2 5zm0-14zm2 22zm0-9zm0 9zm1-11zm2-1zm0-11zm1 23zm0-12zm2-12zm1 7zm3 7zm7 8zm0-1zm3-20zm0 23zm3-4zm0-8zm1 6zm16 2zm6 2zm12-18zm3 7zm-271 34zm87-8zm9 3zm5 8zm3-1zm1-22zm1 6zm1-4zm11 7zm17 1zm2-7zm0 16zm13-16zm3 20zm3-6zm1-13zm0-4zm2 1zm1 21zm3-6zm0-9zm0 5zm3 9zm2-14zm2-6zm1 19zm3 3zm0-7zm2 7zm2-10zm3-13zm0 13zm2 0zm1-2zm0-11zm2 18zm1-4zm0-8zm2 7zm1-12zm1 9zm0-3zm1-3zm1 0zm0 15zm1-3zm2-1zm1-2zm3 3zm0-16zm1 15zm0 1zm3 2zm6-2zm2-16zm1 20zm2 4zm1-4zm10-5zm1-11zm6-2zm4 14zm1 5zm1-10zm13-7zm2 18zm8-18zm2 5zm7-9zm4 16zm7-5zm-251 28zm19-7zm25 13zm3-8zm5-5zm1 6zm10-3zm9 11zm2-8zm2-7zm3 11zm2 5zm0-13zm6-6zm1 5zm3 8zm4-8zm6-4zm11 6zm3 0zm1 10zm3-8zm2-10zm2 6zm2 14zm1-2zm1-8zm1-7zm0 13zm0-16zm0 18zm0-18zm3-2zm1 20zm1-14zm1 10zm2 3zm2 5zm1-24zm2 19zm1-2zm2 6zm0-14zm1-2zm3-3zm2 19zm0-11zm0-6zm1-2zm0 19zm0 1zm0-14zm3-4zm0 7zm1 9zm2-3zm3-16zm0 15zm2-17zm2 3zm2 4zm1-6zm1 17zm1 5zm2-9zm0 6zm1-14zm0-1zm0 17zm0-10zm2-7zm5 14zm0-11zm3 2zm1 1zm4 0zm3-3zm3 14zm2-16zm2 16zm2-16zm1 10zm1 1zm2-14zm10 13zm8-3zm2 1zm4 7zm34-12zm-295 17zm42 11zm15 9zm11 0zm5-3zm3 3zm3 2zm0-14zm1-4zm2-3zm4 17zm0-7zm9-4zm7 2zm7 5zm0-16zm5 3zm1 4zm1 15zm1-1zm4-20zm3 20zm6-14zm0-1zm7 14zm4 0zm2-12zm1 11zm4-19zm1 5zm1-1zm6 1zm5 1zm4 17zm3-23zm3 15zm0-9zm3 16zm0 0zm2 0zm0-8zm1-13zm0 22zm5-7zm2 7zm1-2zm0 0zm4-9zm0-2zm1 13zm2-22zm1 0zm0 8zm1-7zm0 3zm3 12zm1-15zm0-1zm5 16zm1-17zm1 5zm0 6zm6 8zm5-12zm12 12zm0 1zm28 1zm30-19zm-242 32zm0 1zm11-5zm13 5zm10 13zm0-9zm1 5zm2 4zm1-10zm1-8zm0 4zm1 9zm1-18zm0 0zm1 8zm2 6zm2-13zm0 22zm7-6zm1 5zm2-5zm3-1zm1 6zm3-11zm1 10zm5 0zm5-19zm1 5zm2-5zm2 11zm1-5zm2 7zm0-1zm2-8zm2 9zm1 4zm1 2zm4 0zm1-10zm1 13zm1-7zm1-9zm1-3zm1 1zm5 6zm7-6zm0 15zm2-15zm2 3zm3-4zm4-3zm1 9zm1-10zm1 3zm6 20zm2-16zm1-5zm2-1zm4 11zm2 2zm3 0zm2-8zm1-6zm3 14zm2-5zm2-6zm1-3zm3 10zm10-3zm2-2zm2 16zm0-17zm4 8zm5 10zm10-3zm27 4zm2-7zm-275 17zm9 5zm13-13zm26 5zm3 16zm5-11zm9-3zm0 10zm5-10zm3-4zm0 12zm11 8zm1-5zm1 1zm1-2zm1-2zm3 3zm1 5zm6-2zm2-12zm1-4zm2 4zm2 7zm1 1zm2-17zm1 19zm3 4zm1-9zm1 1zm1 6zm3-3zm3-10zm1 12zm2 1zm3 1zm3-3zm1-12zm0 10zm4-7zm4-2zm2-4zm0-4zm1 13zm1 9zm0-2zm3-2zm1 0zm0-14zm0 0zm1-3zm7 12zm0-7zm0 12zm0 1zm7-18zm0 6zm1 4zm1 7zm3 4zm5-17zm1 9zm1-2zm0-5zm1 10zm1-14zm0 0zm1 4zm1 9zm0 7zm1-13zm0-7zm2 12zm2 4zm1-4zm2-12zm1 5zm1-3zm3 6zm1-6zm0 15zm3 0zm3-2zm0-4zm1-2zm3-9zm1 12zm5-2zm0 7zm8-18zm4 8zm14-9zm-231 25zm20 16zm35-16zm0 14zm4 3zm0-12zm2-7zm3 10zm3 4zm0 1zm3 3zm3 3zm4-14zm7 6zm0 3zm1 1zm2 3zm0-7zm0-1zm2-10zm0 3zm3 4zm1-1zm2 16zm1-6zm1 1zm1-17zm1-2zm0 8zm2 6zm1-11zm1 17zm0-14zm1 0zm1 12zm0-2zm0-13zm1 8zm2 7zm2-2zm6 0zm0-12zm3 3zm1 6zm2-7zm0 10zm1 6zm0-2zm2-13zm0-6zm2 16zm6-7zm1 0zm1 9zm7-16zm0 14zm1 4zm0-6zm1-15zm0 12zm1 4zm1-12zm1 2zm1-5zm1 13zm0-5zm2 13zm0-21zm1 14zm1 5zm5-9zm3-10zm0 14zm1-4zm2 2zm4-9zm2 7zm8 11zm4-21zm3 8zm2-6zm1 1zm2 14zm7-12zm0 4zm0-8zm0-1zm0 16zm0 6zm1 1zm0-15zm0 15zm8-8zm9-10zm5 11zm38-9zm48 7zm24 4zm8-7zm0-2zm-343 25zm1 14zm10-4zm1-19zm6 9zm2 5zm1-4zm14-9zm13 15zm1-14zm3 6zm4-9zm5 24zm0-12zm3 7zm3-18zm5 16zm0-2zm3-5zm5 6zm1-9zm2 12zm3-12zm7 3zm0 2zm2-4zm2 0zm1 6zm0-8zm2 11zm0 6zm1 0zm1-14zm4 11zm1-8zm0 2zm3-14zm0 19zm2 1zm1-12zm0-6zm2 15zm0-1zm3 5zm0-19zm0 17zm1-4zm2 7zm0-20zm6 14zm2-6zm3-5zm0-1zm7 3zm1 12zm1-12zm1-3zm6 8zm0 8zm2-13zm0-2zm3 12zm5 4zm3-14zm4-7zm2 13zm3-7zm0-3zm4 12zm11 1zm5-9zm4-4zm7-1zm0 0zm6 8zm19-5zm2-4zm26 2zm104 17zm-343 10zm16 11zm4-3zm2-8zm0 5zm1 3zm1-10zm3 12zm1 0zm5 7zm2-6zm1 2zm0 4zm3-15zm1 14zm2-15zm3 3zm6-7zm3 17zm2-13zm2 3zm0-1zm2 5zm2-11zm0 14zm0 6zm0-18zm2 15zm0-1zm4 1zm4-13zm1 5zm2 3zm1 3zm0-8zm4 2zm4-11zm2 18zm3-12zm1 1zm5 4zm4 0zm3-5zm3 16zm4-1zm1-9zm0-5zm2 4zm1 4zm0-14zm10 21zm0-9zm1 0zm9-11zm2 1zm2 4zm2-1zm1 10zm2 5zm1 2zm0-17zm1 1zm2-1zm2 8zm3 3zm2-15zm1 12zm3-3zm16-8zm0 5zm0 7zm2-9zm3 13zm9 0zm0-4zm22 7zm6-11zm8-6zm11 1zm1 11zm18-15zm65 16zm5-5zm24-11zm-352 32zm5 1zm1 4zm11 5zm4-12zm1 3zm0 10zm1-10zm5-9zm2 8zm1-7zm0 3zm1 4zm2 12zm0-13zm5-7zm0 3zm2 1zm4-4zm3 3zm1 11zm2-6zm7 0zm0 12zm0-21zm1 18zm0-12zm1 8zm5-3zm7 3zm2-1zm2 1zm4-2zm0-8zm5 8zm0-3zm3 4zm4 5zm6-16zm2 1zm0 19zm1-3zm5 4zm2-21zm3 4zm1 9zm1-12zm5 15zm1 1zm3-11zm1-8zm1 7zm1-1zm7 13zm2-15zm0 9zm5-1zm15-8zm0 15zm5-5zm10-6zm16 5zm2-12zm20 17zm54-5zm15-4zm1-1zm-288 39zm13 0zm1-21zm2 1zm3 14zm6-5zm2-7zm2-2zm15 13zm2-6zm1-3zm0 4zm2-1zm10 11zm2-11zm1 13zm1-11zm4-7zm7 14zm5-3zm0-14zm4 14zm2-3zm4-2zm1-3zm2 11zm1-4zm0 0zm5 2zm2 3zm25-10zm5 6zm0-11zm4 11zm6 1zm12-15zm3 17zm13-14zm15 2zm9 8zm90 6zm66-5zm-339 26zm8-1zm2-2zm1-2zm2 9zm4-13zm7 6zm0-7zm1-3zm22 21zm6-23zm1 11zm3-5zm11 9zm1 1zm0-13zm6 5zm3-8zm2 17zm7 1zm21-5zm2-7zm4-2zm0 7zm119-3zm96 7zm8-6zm-335 32zm13-14zm2 1zm13-3zm3 3zm1 18zm6-2zm8-13zm3 17zm8-19zm3 0zm22 19zm2-13zm17 4zm15-13zm25 16zm8-11zm7-4zm36 2zm88 18zm-275 11zm4 7zm1 8zm1-24zm2 8zm1-5zm17 5zm11 6zm4-5zm0 10zm1-9zm1 8zm2-8zm0-1zm7 4zm19-5zm7-6zm11 14zm1-3zm14 5zm1-8zm7 6zm10-13zm56 6zm149 14zm-335 21zm36-14zm5-2zm8-3zm11 10zm7-5zm2 13zm9-9zm175 8zm82-8zm-331 39zm42-18zm2 11zm30-2zm23-3zm33 0zm50 11zm61-3zm41 2zm35-2zm-315 12zm20 10zm38-4z" stroke="#f23be6" stroke-width="8.4" stroke-linecap="round" fill="none" opacity="0.8"/>
<rect x="50.8" y="149.6" width="72.3" height="79.9" fill="none" stroke="#2a8de8" stroke-width="0.9" stroke-dasharray="1.2 1.2"/>
<rect x="83.3" y="150.6" width="38.7" height="77" fill="none" stroke="#ee3ae0" stroke-width="0.9" stroke-dasharray="1.2 1.2"/>
<rect x="104.3" y="151" width="15.2" height="15.5" fill="none" stroke="#222" stroke-width="0.8"/>
<text x="47.2" y="155.3" font-size="6.3" text-anchor="end" fill="#222" style="stroke-width:.08px">250</text>
<line x1="48" y1="153" x2="50" y2="153" stroke="#555" stroke-width="0.5"/>
<text x="47.2" y="171.3" font-size="6.3" text-anchor="end" fill="#222" style="stroke-width:.08px">200</text>
<line x1="48" y1="169" x2="50" y2="169" stroke="#555" stroke-width="0.5"/>
<text x="47.2" y="187.3" font-size="6.3" text-anchor="end" fill="#222" style="stroke-width:.08px">150</text>
<line x1="48" y1="185" x2="50" y2="185" stroke="#555" stroke-width="0.5"/>
<text x="47.2" y="203.10000000000002" font-size="6.3" text-anchor="end" fill="#222" style="stroke-width:.08px">100</text>
<line x1="48" y1="200.8" x2="50" y2="200.8" stroke="#555" stroke-width="0.5"/>
<text x="47.2" y="219.10000000000002" font-size="6.3" text-anchor="end" fill="#222" style="stroke-width:.08px">50</text>
<line x1="48" y1="216.8" x2="50" y2="216.8" stroke="#555" stroke-width="0.5"/>
<line x1="49" y1="150.5" x2="50" y2="150.5" stroke="#777" stroke-width="0.3"/>
<line x1="49" y1="153.7" x2="50" y2="153.7" stroke="#777" stroke-width="0.3"/>
<line x1="49" y1="156.8" x2="50" y2="156.8" stroke="#777" stroke-width="0.3"/>
<line x1="49" y1="160.0" x2="50" y2="160.0" stroke="#777" stroke-width="0.3"/>
<line x1="49" y1="163.1" x2="50" y2="163.1" stroke="#777" stroke-width="0.3"/>
<line x1="49" y1="166.3" x2="50" y2="166.3" stroke="#777" stroke-width="0.3"/>
<line x1="49" y1="169.5" x2="50" y2="169.5" stroke="#777" stroke-width="0.3"/>
<line x1="49" y1="172.6" x2="50" y2="172.6" stroke="#777" stroke-width="0.3"/>
<line x1="49" y1="175.8" x2="50" y2="175.8" stroke="#777" stroke-width="0.3"/>
<line x1="49" y1="178.9" x2="50" y2="178.9" stroke="#777" stroke-width="0.3"/>
<line x1="49" y1="182.1" x2="50" y2="182.1" stroke="#777" stroke-width="0.3"/>
<line x1="49" y1="185.3" x2="50" y2="185.3" stroke="#777" stroke-width="0.3"/>
<line x1="49" y1="188.4" x2="50" y2="188.4" stroke="#777" stroke-width="0.3"/>
<line x1="49" y1="191.6" x2="50" y2="191.6" stroke="#777" stroke-width="0.3"/>
<line x1="49" y1="194.7" x2="50" y2="194.7" stroke="#777" stroke-width="0.3"/>
<line x1="49" y1="197.9" x2="50" y2="197.9" stroke="#777" stroke-width="0.3"/>
<line x1="49" y1="201.1" x2="50" y2="201.1" stroke="#777" stroke-width="0.3"/>
<line x1="49" y1="204.2" x2="50" y2="204.2" stroke="#777" stroke-width="0.3"/>
<line x1="49" y1="207.4" x2="50" y2="207.4" stroke="#777" stroke-width="0.3"/>
<line x1="49" y1="210.5" x2="50" y2="210.5" stroke="#777" stroke-width="0.3"/>
<line x1="49" y1="213.7" x2="50" y2="213.7" stroke="#777" stroke-width="0.3"/>
<line x1="49" y1="216.9" x2="50" y2="216.9" stroke="#777" stroke-width="0.3"/>
<line x1="49" y1="220.0" x2="50" y2="220.0" stroke="#777" stroke-width="0.3"/>
<line x1="49" y1="223.2" x2="50" y2="223.2" stroke="#777" stroke-width="0.3"/>
<line x1="49" y1="226.3" x2="50" y2="226.3" stroke="#777" stroke-width="0.3"/>
<line x1="49" y1="229.5" x2="50" y2="229.5" stroke="#777" stroke-width="0.3"/>
<line x1="49" y1="232.7" x2="50" y2="232.7" stroke="#777" stroke-width="0.3"/>
<text x="32.8" y="162.5" font-size="5.4" text-anchor="middle" transform="rotate(-90 32.8 162.5)" fill="#222" style="stroke-width:.08px">(x 1,000)</text>
<text x="20.6" y="193.5" font-size="9.15" text-anchor="middle" transform="rotate(-90 20.6 193.5)" fill="#222">FSC-A</text>
<line x1="64.3" y1="232.5" x2="64.3" y2="234.9" stroke="#555" stroke-width="0.5"/>
<text x="63.5" y="242.1" font-size="6.6" text-anchor="middle" fill="#222">10<tspan font-size="4.2" dy="-2.6">2</tspan></text>
<line x1="53.2" y1="232.5" x2="53.2" y2="233.8" stroke="#777" stroke-width="0.3"/>
<line x1="55.9" y1="232.5" x2="55.9" y2="233.8" stroke="#777" stroke-width="0.3"/>
<line x1="57.9" y1="232.5" x2="57.9" y2="233.8" stroke="#777" stroke-width="0.3"/>
<line x1="59.6" y1="232.5" x2="59.6" y2="233.8" stroke="#777" stroke-width="0.3"/>
<line x1="61.0" y1="232.5" x2="61.0" y2="233.8" stroke="#777" stroke-width="0.3"/>
<line x1="62.2" y1="232.5" x2="62.2" y2="233.8" stroke="#777" stroke-width="0.3"/>
<line x1="63.3" y1="232.5" x2="63.3" y2="233.8" stroke="#777" stroke-width="0.3"/>
<line x1="85.5" y1="232.5" x2="85.5" y2="234.9" stroke="#555" stroke-width="0.5"/>
<text x="84.7" y="242.1" font-size="6.6" text-anchor="middle" fill="#222">10<tspan font-size="4.2" dy="-2.6">3</tspan></text>
<line x1="70.7" y1="232.5" x2="70.7" y2="233.8" stroke="#777" stroke-width="0.3"/>
<line x1="74.4" y1="232.5" x2="74.4" y2="233.8" stroke="#777" stroke-width="0.3"/>
<line x1="77.1" y1="232.5" x2="77.1" y2="233.8" stroke="#777" stroke-width="0.3"/>
<line x1="79.1" y1="232.5" x2="79.1" y2="233.8" stroke="#777" stroke-width="0.3"/>
<line x1="80.8" y1="232.5" x2="80.8" y2="233.8" stroke="#777" stroke-width="0.3"/>
<line x1="82.2" y1="232.5" x2="82.2" y2="233.8" stroke="#777" stroke-width="0.3"/>
<line x1="83.4" y1="232.5" x2="83.4" y2="233.8" stroke="#777" stroke-width="0.3"/>
<line x1="84.5" y1="232.5" x2="84.5" y2="233.8" stroke="#777" stroke-width="0.3"/>
<line x1="106.8" y1="232.5" x2="106.8" y2="234.9" stroke="#555" stroke-width="0.5"/>
<text x="106.0" y="242.1" font-size="6.6" text-anchor="middle" fill="#222">10<tspan font-size="4.2" dy="-2.6">4</tspan></text>
<line x1="92.0" y1="232.5" x2="92.0" y2="233.8" stroke="#777" stroke-width="0.3"/>
<line x1="95.7" y1="232.5" x2="95.7" y2="233.8" stroke="#777" stroke-width="0.3"/>
<line x1="98.4" y1="232.5" x2="98.4" y2="233.8" stroke="#777" stroke-width="0.3"/>
<line x1="100.4" y1="232.5" x2="100.4" y2="233.8" stroke="#777" stroke-width="0.3"/>
<line x1="102.1" y1="232.5" x2="102.1" y2="233.8" stroke="#777" stroke-width="0.3"/>
<line x1="103.5" y1="232.5" x2="103.5" y2="233.8" stroke="#777" stroke-width="0.3"/>
<line x1="104.7" y1="232.5" x2="104.7" y2="233.8" stroke="#777" stroke-width="0.3"/>
<line x1="105.8" y1="232.5" x2="105.8" y2="233.8" stroke="#777" stroke-width="0.3"/>
<line x1="127.8" y1="232.5" x2="127.8" y2="234.9" stroke="#555" stroke-width="0.5"/>
<text x="127.0" y="242.1" font-size="6.6" text-anchor="middle" fill="#222">10<tspan font-size="4.2" dy="-2.6">5</tspan></text>
<line x1="113.0" y1="232.5" x2="113.0" y2="233.8" stroke="#777" stroke-width="0.3"/>
<line x1="116.7" y1="232.5" x2="116.7" y2="233.8" stroke="#777" stroke-width="0.3"/>
<line x1="119.4" y1="232.5" x2="119.4" y2="233.8" stroke="#777" stroke-width="0.3"/>
<line x1="121.4" y1="232.5" x2="121.4" y2="233.8" stroke="#777" stroke-width="0.3"/>
<line x1="123.1" y1="232.5" x2="123.1" y2="233.8" stroke="#777" stroke-width="0.3"/>
<line x1="124.5" y1="232.5" x2="124.5" y2="233.8" stroke="#777" stroke-width="0.3"/>
<line x1="125.7" y1="232.5" x2="125.7" y2="233.8" stroke="#777" stroke-width="0.3"/>
<line x1="126.8" y1="232.5" x2="126.8" y2="233.8" stroke="#777" stroke-width="0.3"/>
<line x1="119.5" y1="158.3" x2="143" y2="158.3" stroke="#222" stroke-width="0.8"/>
<line x1="122.5" y1="200.8" x2="143" y2="200.8" stroke="#ee3ae0" stroke-width="0.8"/>
<line x1="123.3" y1="224.5" x2="143" y2="224.5" stroke="#2a8de8" stroke-width="0.8"/>
<text x="145.3" y="154.3" font-size="9.15" fill="#222">Large</text>
<text x="145.3" y="165.1" font-size="9.15" fill="#222">NeuN<tspan font-size="5.5" dy="-3.2">+</tspan><tspan dy="3.2"> population</tspan></text>
<text x="145.3" y="175.9" font-size="9.15" fill="#222">(studied here)</text>
<text x="145.3" y="198" font-size="9.15" fill="#222">Overall</text>
<text x="145.3" y="208.4" font-size="9.15" fill="#222">NeuN<tspan font-size="5.5" dy="-3.2">+</tspan><tspan dy="3.2"> population</tspan></text>
<text x="145.3" y="226.8" font-size="9.15" fill="#222">All cells (DAPI<tspan font-size="5.5" dy="-3.2">+</tspan><tspan dy="3.2">)</tspan></text>
<rect x="50" y="254.5" width="85" height="77.2" fill="#fff" stroke="#8c8c8c" stroke-width="0.9"/>
<path d="M50.8,331.2 L50.8,330.3 L51.3,330.6 L51.8,330.7 L52.3,330.7 L52.8,330.6 L53.3,330.3 L53.8,329.8 L54.3,329.3 L54.8,329.6 L55.3,328.7 L55.8,329.5 L56.3,329.2 L56.8,326.9 L57.3,328.3 L57.8,327.1 L58.3,326.2 L58.8,325.4 L59.3,323.0 L59.8,324.2 L60.3,319.3 L60.8,317.8 L61.3,319.2 L61.8,311.0 L62.3,306.3 L62.8,303.6 L63.3,288.2 L63.8,286.6 L64.3,288.1 L64.8,287.3 L65.3,257.1 L65.8,268.4 L66.3,265.3 L66.8,255.7 L67.3,255.7 L67.8,269.0 L68.3,255.7 L68.8,260.4 L69.3,289.6 L69.8,289.6 L70.3,284.7 L70.8,302.2 L71.3,307.2 L71.8,305.8 L72.3,312.0 L72.8,317.0 L73.3,316.9 L73.8,322.2 L74.3,325.4 L74.8,326.8 L75.3,326.8 L75.8,328.5 L76.3,328.7 L76.8,329.5 L77.3,329.1 L77.8,329.6 L78.3,330.1 L78.8,329.2 L79.3,329.8 L79.8,329.5 L80.3,328.8 L80.8,329.2 L81.3,328.6 L81.8,328.9 L82.3,328.5 L82.8,328.3 L83.3,329.1 L83.8,328.8 L84.3,328.4 L84.8,329.0 L85.3,328.0 L85.8,328.1 L86.3,328.4 L86.8,328.4 L87.3,327.5 L87.8,327.9 L88.3,327.3 L88.8,326.9 L89.3,326.4 L89.8,326.3 L90.3,325.8 L90.8,324.1 L91.3,322.7 L91.8,324.1 L92.3,320.1 L92.8,319.5 L93.3,322.6 L93.8,317.8 L94.3,321.6 L94.8,317.7 L95.3,318.0 L95.8,319.2 L96.3,318.5 L96.8,317.6 L97.3,321.2 L97.8,321.0 L98.3,323.1 L98.8,319.0 L99.3,323.3 L99.8,322.7 L100.3,324.6 L100.8,324.4 L101.3,326.2 L101.8,324.1 L102.3,325.4 L102.8,327.0 L103.3,326.0 L103.8,325.8 L104.3,326.0 L104.8,325.4 L105.3,322.1 L105.8,323.1 L106.3,320.1 L106.8,322.9 L107.3,321.6 L107.8,322.2 L108.3,318.7 L108.8,322.3 L109.3,320.8 L109.8,323.9 L110.3,323.9 L110.8,324.6 L111.3,326.7 L111.8,328.3 L112.3,329.2 L112.8,329.1 L113.3,330.1 L113.8,330.1 L114.3,330.5 L114.8,330.7 L115.3,330.8 L115.8,330.8 L116.3,330.9 L116.8,330.9 L117.3,331.0 L117.8,331.1 L118.3,331.2 L118.8,331.2 L119.3,331.2 L119.8,331.2 L120.3,331.2 L120.3,331.2 Z" fill="#cf8cab" stroke="#a3195b" stroke-width="0.6" stroke-linejoin="round"/>
<path d="M50.8,331.4 V255.4 H123.2 V331.4" fill="none" stroke="#2a8de8" stroke-width="0.9" stroke-dasharray="1.2 1.2"/>
<path d="M83.8,331.4 V257 H121.3 V331.4" fill="none" stroke="#ee3ae0" stroke-width="0.9" stroke-dasharray="1.2 1.2"/>
<rect x="104.5" y="258.3" width="15" height="72.3" fill="none" stroke="#222" stroke-width="0.8"/>
<text x="47.2" y="267.8" font-size="6.3" text-anchor="end" fill="#222" style="stroke-width:.08px">125</text>
<line x1="48" y1="265.5" x2="50" y2="265.5" stroke="#555" stroke-width="0.5"/>
<text x="47.2" y="281.1" font-size="6.3" text-anchor="end" fill="#222" style="stroke-width:.08px">100</text>
<line x1="48" y1="278.8" x2="50" y2="278.8" stroke="#555" stroke-width="0.5"/>
<text x="47.2" y="294.3" font-size="6.3" text-anchor="end" fill="#222" style="stroke-width:.08px">75</text>
<line x1="48" y1="292" x2="50" y2="292" stroke="#555" stroke-width="0.5"/>
<text x="47.2" y="307.6" font-size="6.3" text-anchor="end" fill="#222" style="stroke-width:.08px">50</text>
<line x1="48" y1="305.3" x2="50" y2="305.3" stroke="#555" stroke-width="0.5"/>
<text x="47.2" y="320.8" font-size="6.3" text-anchor="end" fill="#222" style="stroke-width:.08px">25</text>
<line x1="48" y1="318.5" x2="50" y2="318.5" stroke="#555" stroke-width="0.5"/>
<text x="47.2" y="334.0" font-size="6.3" text-anchor="end" fill="#222" style="stroke-width:.08px">0</text>
<line x1="48" y1="331.7" x2="50" y2="331.7" stroke="#555" stroke-width="0.5"/>
<line x1="49" y1="331.7" x2="50" y2="331.7" stroke="#777" stroke-width="0.3"/>
<line x1="49" y1="329.1" x2="50" y2="329.1" stroke="#777" stroke-width="0.3"/>
<line x1="49" y1="326.4" x2="50" y2="326.4" stroke="#777" stroke-width="0.3"/>
<line x1="49" y1="323.8" x2="50" y2="323.8" stroke="#777" stroke-width="0.3"/>
<line x1="49" y1="321.1" x2="50" y2="321.1" stroke="#777" stroke-width="0.3"/>
<line x1="49" y1="318.4" x2="50" y2="318.4" stroke="#777" stroke-width="0.3"/>
<line x1="49" y1="315.8" x2="50" y2="315.8" stroke="#777" stroke-width="0.3"/>
<line x1="49" y1="313.1" x2="50" y2="313.1" stroke="#777" stroke-width="0.3"/>
<line x1="49" y1="310.5" x2="50" y2="310.5" stroke="#777" stroke-width="0.3"/>
<line x1="49" y1="307.8" x2="50" y2="307.8" stroke="#777" stroke-width="0.3"/>
<line x1="49" y1="305.2" x2="50" y2="305.2" stroke="#777" stroke-width="0.3"/>
<line x1="49" y1="302.6" x2="50" y2="302.6" stroke="#777" stroke-width="0.3"/>
<line x1="49" y1="299.9" x2="50" y2="299.9" stroke="#777" stroke-width="0.3"/>
<line x1="49" y1="297.2" x2="50" y2="297.2" stroke="#777" stroke-width="0.3"/>
<line x1="49" y1="294.6" x2="50" y2="294.6" stroke="#777" stroke-width="0.3"/>
<line x1="49" y1="291.9" x2="50" y2="291.9" stroke="#777" stroke-width="0.3"/>
<line x1="49" y1="289.3" x2="50" y2="289.3" stroke="#777" stroke-width="0.3"/>
<line x1="49" y1="286.6" x2="50" y2="286.6" stroke="#777" stroke-width="0.3"/>
<line x1="49" y1="284.0" x2="50" y2="284.0" stroke="#777" stroke-width="0.3"/>
<line x1="49" y1="281.3" x2="50" y2="281.3" stroke="#777" stroke-width="0.3"/>
<line x1="49" y1="278.7" x2="50" y2="278.7" stroke="#777" stroke-width="0.3"/>
<line x1="49" y1="276.1" x2="50" y2="276.1" stroke="#777" stroke-width="0.3"/>
<line x1="49" y1="273.4" x2="50" y2="273.4" stroke="#777" stroke-width="0.3"/>
<line x1="49" y1="270.8" x2="50" y2="270.8" stroke="#777" stroke-width="0.3"/>
<line x1="49" y1="268.1" x2="50" y2="268.1" stroke="#777" stroke-width="0.3"/>
<line x1="49" y1="265.4" x2="50" y2="265.4" stroke="#777" stroke-width="0.3"/>
<line x1="49" y1="262.8" x2="50" y2="262.8" stroke="#777" stroke-width="0.3"/>
<line x1="49" y1="260.1" x2="50" y2="260.1" stroke="#777" stroke-width="0.3"/>
<text x="32" y="298.8" font-size="9.15" text-anchor="middle" transform="rotate(-90 32 298.8)" fill="#222">Count</text>
<line x1="64.3" y1="331.7" x2="64.3" y2="334.09999999999997" stroke="#555" stroke-width="0.5"/>
<text x="63.5" y="341.3" font-size="6.6" text-anchor="middle" fill="#222">10<tspan font-size="4.2" dy="-2.6">2</tspan></text>
<line x1="53.2" y1="331.7" x2="53.2" y2="333.0" stroke="#777" stroke-width="0.3"/>
<line x1="55.9" y1="331.7" x2="55.9" y2="333.0" stroke="#777" stroke-width="0.3"/>
<line x1="57.9" y1="331.7" x2="57.9" y2="333.0" stroke="#777" stroke-width="0.3"/>
<line x1="59.6" y1="331.7" x2="59.6" y2="333.0" stroke="#777" stroke-width="0.3"/>
<line x1="61.0" y1="331.7" x2="61.0" y2="333.0" stroke="#777" stroke-width="0.3"/>
<line x1="62.2" y1="331.7" x2="62.2" y2="333.0" stroke="#777" stroke-width="0.3"/>
<line x1="63.3" y1="331.7" x2="63.3" y2="333.0" stroke="#777" stroke-width="0.3"/>
<line x1="85.5" y1="331.7" x2="85.5" y2="334.09999999999997" stroke="#555" stroke-width="0.5"/>
<text x="84.7" y="341.3" font-size="6.6" text-anchor="middle" fill="#222">10<tspan font-size="4.2" dy="-2.6">3</tspan></text>
<line x1="70.7" y1="331.7" x2="70.7" y2="333.0" stroke="#777" stroke-width="0.3"/>
<line x1="74.4" y1="331.7" x2="74.4" y2="333.0" stroke="#777" stroke-width="0.3"/>
<line x1="77.1" y1="331.7" x2="77.1" y2="333.0" stroke="#777" stroke-width="0.3"/>
<line x1="79.1" y1="331.7" x2="79.1" y2="333.0" stroke="#777" stroke-width="0.3"/>
<line x1="80.8" y1="331.7" x2="80.8" y2="333.0" stroke="#777" stroke-width="0.3"/>
<line x1="82.2" y1="331.7" x2="82.2" y2="333.0" stroke="#777" stroke-width="0.3"/>
<line x1="83.4" y1="331.7" x2="83.4" y2="333.0" stroke="#777" stroke-width="0.3"/>
<line x1="84.5" y1="331.7" x2="84.5" y2="333.0" stroke="#777" stroke-width="0.3"/>
<line x1="106.8" y1="331.7" x2="106.8" y2="334.09999999999997" stroke="#555" stroke-width="0.5"/>
<text x="106.0" y="341.3" font-size="6.6" text-anchor="middle" fill="#222">10<tspan font-size="4.2" dy="-2.6">4</tspan></text>
<line x1="92.0" y1="331.7" x2="92.0" y2="333.0" stroke="#777" stroke-width="0.3"/>
<line x1="95.7" y1="331.7" x2="95.7" y2="333.0" stroke="#777" stroke-width="0.3"/>
<line x1="98.4" y1="331.7" x2="98.4" y2="333.0" stroke="#777" stroke-width="0.3"/>
<line x1="100.4" y1="331.7" x2="100.4" y2="333.0" stroke="#777" stroke-width="0.3"/>
<line x1="102.1" y1="331.7" x2="102.1" y2="333.0" stroke="#777" stroke-width="0.3"/>
<line x1="103.5" y1="331.7" x2="103.5" y2="333.0" stroke="#777" stroke-width="0.3"/>
<line x1="104.7" y1="331.7" x2="104.7" y2="333.0" stroke="#777" stroke-width="0.3"/>
<line x1="105.8" y1="331.7" x2="105.8" y2="333.0" stroke="#777" stroke-width="0.3"/>
<line x1="127.8" y1="331.7" x2="127.8" y2="334.09999999999997" stroke="#555" stroke-width="0.5"/>
<text x="127.0" y="341.3" font-size="6.6" text-anchor="middle" fill="#222">10<tspan font-size="4.2" dy="-2.6">5</tspan></text>
<line x1="113.0" y1="331.7" x2="113.0" y2="333.0" stroke="#777" stroke-width="0.3"/>
<line x1="116.7" y1="331.7" x2="116.7" y2="333.0" stroke="#777" stroke-width="0.3"/>
<line x1="119.4" y1="331.7" x2="119.4" y2="333.0" stroke="#777" stroke-width="0.3"/>
<line x1="121.4" y1="331.7" x2="121.4" y2="333.0" stroke="#777" stroke-width="0.3"/>
<line x1="123.1" y1="331.7" x2="123.1" y2="333.0" stroke="#777" stroke-width="0.3"/>
<line x1="124.5" y1="331.7" x2="124.5" y2="333.0" stroke="#777" stroke-width="0.3"/>
<line x1="125.7" y1="331.7" x2="125.7" y2="333.0" stroke="#777" stroke-width="0.3"/>
<line x1="126.8" y1="331.7" x2="126.8" y2="333.0" stroke="#777" stroke-width="0.3"/>
<text x="91.3" y="349.6" font-size="8.2" text-anchor="middle" fill="#222">NeuN–AF488</text>
</g>
<g id="panel-c">
<text x="236.5" y="133.8" font-size="10.5" font-weight="bold" fill="#000" style="stroke:#000">c</text>
<text x="302" y="144.6" font-size="9.15" text-anchor="middle" fill="#222">All cells (DAPI<tspan font-size="5.5" dy="-3.2">+</tspan><tspan dy="3.2">)</tspan></text>
<text x="415" y="133.8" font-size="9.15" text-anchor="middle" fill="#222">Overall</text>
<text x="415" y="145.3" font-size="9.15" text-anchor="middle" fill="#222">NeuN<tspan font-size="5.5" dy="-3.2">+</tspan><tspan dy="3.2"> population</tspan></text>
<text x="528.3" y="133.8" font-size="9.15" text-anchor="middle" fill="#222">Large</text>
<text x="528.3" y="145.3" font-size="9.15" text-anchor="middle" fill="#222">NeuN<tspan font-size="5.5" dy="-3.2">+</tspan><tspan dy="3.2"> population</tspan></text>
<rect x="246.5" y="149.3" width="111.0" height="105.7" fill="#fff" stroke="#8c8c8c" stroke-width="0.9"/>
<rect x="359.3" y="149.3" width="111.5" height="105.7" fill="#fff" stroke="#8c8c8c" stroke-width="0.9"/>
<rect x="472.5" y="149.3" width="111.3" height="105.7" fill="#fff" stroke="#8c8c8c" stroke-width="0.9"/>
<path transform="scale(.1)" d="M2920 1849zm132-13zm-267 20zm71 10zm82 4zm34 2zm45-16zm462-1zm47-4zm-337 38zm-1 30zm-50 20zm141-11zm139 10zm-141 31zm151 0zm-632 28zm637-20zm-437 42zm-88 13zm456 17zm-334 18zm343-1zm169-5zm3 11zm-544 24zm314 2zm-505 3zm109 21zm48-17zm270 19zm2-17zm94-2zm153 17zm-544 8zm445 69zm-356 8zm351-2zm9 24zm-539 31zm439-7zm-68 29zm-79 42zm248-8zm-217 20zm-391 56zm416 3zm5 10zm18-5zm96 7zm-280 46zm162 20zm215-18zm-177 38zm170 2zm96 0zm7 1zm-613 19zm297 9zm119-10z" stroke="#e8001e" stroke-width="7" stroke-linecap="round" fill="none" opacity="0.5"/>
<path transform="scale(.1)" d="M3133 1954zm142 43zm1-6zm-253 19zm41-5zm93 11zm1-16zm-83 30zm12 5zm16-1zm36 12zm39-2zm21 3zm53-2zm254-13zm-579 42zm105-20zm12 14zm58 6zm19-8zm7-4zm7-8zm4 1zm82 18zm38-2zm60-4zm6-16zm34 1zm9 5zm-327 19zm14 21zm25-2zm27-6zm5-7zm30 17zm5-23zm1 1zm3 3zm24 16zm9-8zm9 5zm9-11zm4 16zm41-21zm9 2zm44 15zm22-10zm0-2zm26 12zm15-9zm5-10zm3 14zm58 4zm-537 20zm62 3zm49-9zm1-3zm37 6zm29-8zm22 12zm43-4zm21 7zm31 7zm19-5zm26-13zm1 11zm1-8zm17 0zm8-6zm6 10zm20 2zm35-14zm5 21zm19-6zm40-8zm43 8zm11 2zm-438 23zm14-15zm3 6zm11 15zm14-9zm2-13zm54 2zm3 6zm8 2zm15 2zm1 11zm6-21zm5 2zm3 14zm1 1zm5 1zm4-3zm44-6zm27 7zm19 1zm11-10zm24 14zm29-12zm28-6zm33 18zm1-8zm3-6zm0 3zm-358 24zm12-10zm16 22zm1-23zm1 0zm26 24zm14-5zm32 2zm28-11zm1 13zm1-19zm10 4zm5-2zm9 3zm3 13zm32-7zm34-13zm21 5zm10 8zm17-15zm10 12zm20 8zm25-15zm7 7zm43 3zm41 6zm10-3zm33 2zm2-2zm44-6zm-451 36zm17-19zm21 17zm13-21zm10 4zm31 4zm4 1zm12 7zm4 6zm53-9zm15 11zm1-14zm23-10zm37 2zm7 11zm7 11zm11-17zm27 2zm20 1zm1 13zm11-20zm1 17zm9 3zm15-23zm44 22zm42-6zm-507 16zm4 3zm70-3zm20-7zm2 6zm21-5zm7 21zm9-10zm13-1zm11-3zm16-7zm1 14zm1-12zm2 0zm6 2zm1 16zm6-18zm17 20zm6-13zm38-9zm21 10zm27 13zm5-6zm15-1zm7 3zm1-1zm9-3zm12 8zm4-10zm5 1zm6 1zm13-14zm65-1zm-495 46zm55 0zm30-2zm78 1zm18-15zm1 7zm12-12zm8 8zm3 2zm33-6zm13-3zm14 7zm8 10zm30-12zm6 6zm11-3zm17 8zm0 4zm13-13zm10-3zm1-1zm48 19zm13-20zm2 11zm11-2zm7 10zm71 1zm17-16zm4 11zm82-12zm-575 39zm130-1zm73 1zm5 2zm0-2zm53-6zm2-10zm12 8zm6 11zm7 0zm30-18zm7 16zm4-13zm2 15zm6-1zm4-5zm31-8zm1 2zm1-5zm3 9zm1-16zm16 12zm4 12zm56-2zm2-13zm16 1zm10 11zm0-8zm13 2zm4 8zm7-2zm23-12zm-628 32zm146-8zm88 13zm56-11zm20-9zm6 6zm16-6zm1 16zm8 5zm7-17zm11-4zm40 6zm0 1zm3 10zm17-17zm11 11zm0-4zm10 1zm40 1zm3 2zm1 1zm5 9zm1-3zm2-3zm1-10zm6 1zm7 7zm19 2zm7-6zm11 9zm1 0zm4-14zm21 19zm23-20zm6 11zm4-9zm59-1zm-506 42zm23 1zm47-7zm0-16zm26 19zm20-15zm49 16zm12-12zm18 10zm5-5zm2-6zm3 11zm5 5zm22 1zm23-17zm1 6zm2-4zm13 11zm12-8zm2-2zm3 7zm5 7zm2-12zm2 7zm0-11zm11 7zm2 2zm7-15zm3 0zm5 17zm5-17zm1 19zm5-15zm2 1zm6 2zm11 9zm5-4zm5 7zm3-6zm4-14zm4 7zm3 2zm3 11zm6-6zm0-4zm4-9zm13 6zm7-8zm25 14zm26 3zm-433 16zm22 8zm85 3zm15-16zm4 15zm54-11zm11-4zm7 16zm3 0zm16-15zm5 11zm4-2zm4-11zm4 18zm9-3zm11-6zm3 0zm6-7zm1 20zm0-14zm13 8zm9-9zm6 6zm3 7zm3 2zm0-11zm1 3zm2 3zm1-9zm3 1zm2 6zm3-12zm9 11zm17-16zm1 23zm1-11zm6 3zm3 4zm5-19zm12 8zm1-1zm6 3zm10 9zm5 3zm13-21zm2 0zm2 20zm2-11zm10 12zm29-5zm1-4zm-532 28zm217 7zm27-11zm16-5zm30 0zm1 14zm1-14zm6 14zm28 3zm3-7zm11-8zm4 10zm1-5zm3 10zm0-13zm1 13zm9-2zm9-14zm23 7zm8-1zm5-13zm2 7zm3 4zm1-1zm2-11zm4 17zm11-16zm1 17zm13-14zm5 14zm2-14zm5 17zm31-4zm3-3zm62-9zm-313 33zm26-9zm3 11zm26 9zm9-1zm0-2zm17 2zm3-10zm1 0zm32 0zm3 7zm4-11zm3 9zm8-7zm2 12zm1-13zm0 6zm2 1zm1-4zm4 2zm4-15zm1 12zm12-2zm2-7zm3-3zm6 1zm7 10zm12 2zm4-8zm1 6zm3-7zm4 1zm4-1zm7 0zm1 1zm6 13zm9 1zm22-10zm2 9zm-423 31zm10-15zm40 9zm15-15zm4 9zm92-11zm16 18zm4-17zm1 11zm7-6zm26 8zm1-8zm6 14zm16-3zm24-5zm3-4zm9 8zm7-12zm11-5zm1 3zm6 15zm8 1zm3-6zm3-7zm5 10zm4-13zm16 0zm3 2zm1-2zm1 8zm5 2zm4-9zm1 0zm15 2zm15 0zm5-3zm16 5zm0-3zm22 11zm1-7zm2-2zm11-2zm-366 36zm2-11zm2 17zm27-10zm18-7zm23 10zm2-1zm14-13zm10 5zm13 14zm18-1zm57-16zm23-2zm10 11zm1 6zm1 3zm21-16zm15 1zm8-1zm2-2zm1 8zm12 1zm3 1zm1 3zm31-9zm1 4zm19 1zm28 12zm9-24zm0 10zm35-5zm-421 22zm93 19zm12-10zm0-10zm52 17zm32-8zm4-1zm12-2zm22 2zm37-2zm5 1zm14-7zm16 18zm23-14zm14 16zm18-21zm12 9zm-679 38zm364-19zm186 3zm13 12zm44-16zm43 13zm16 6zm-523 7zm197 7zm55-6zm127 8zm79 3zm20 16z" stroke="#e8001e" stroke-width="8" stroke-linecap="round" fill="none" opacity="0.6"/>
<path transform="scale(.1)" d="M3079 1990zm-64 10zm70 22zm94-3zm133-15zm20 20zm6-14zm-290 32zm38-4zm0-9zm3 15zm7-1zm2-12zm7 9zm1 2zm16 0zm5-2zm1-14zm1 17zm32-6zm13-2zm137-2zm1 8zm11-8zm2 0zm7 16zm1-18zm1 17zm0-2zm2 3zm2-5zm3-6zm-253 19zm15 5zm0-5zm2-5zm11 17zm13-5zm8-14zm0 0zm0 10zm1 3zm6-8zm11 13zm2-12zm4 2zm3 9zm1-3zm4 9zm14-18zm0 9zm5 9zm16-8zm5 3zm19-4zm1-9zm7 5zm28 10zm-176 11zm20 2zm17 10zm11-14zm2 4zm12-8zm2 14zm10-14zm1 20zm0-20zm12 6zm25 9zm11-13zm32 15zm44-1zm-51 9zm44 5zm17 0zm117 3zm-11 29zm16 1zm9-11zm1 11zm9 10zm38-1zm-60 27zm6-18zm1 18zm1-14zm2 14zm5-17zm2 0zm0 7zm4-1zm2 4zm15 4zm-41 10zm2-1zm7-4zm5 3zm0 7zm8 9zm3-13zm2 6zm6-11zm2 19zm0 0zm4-7zm10 30zm-2 30zm15-20zm-26 33zm12-3z" stroke="#e87420" stroke-width="9" stroke-linecap="round" fill="none" opacity="0.9"/>
<path transform="scale(.1)" d="M2627 2174zm16-13zm0 10zm7-4zm16-9zm2 2zm17 11zm2 3zm-115 19zm34 6zm2-8zm5-1zm3-1zm1-12zm1 17zm1 4zm3-14zm2 1zm2 14zm0 0zm0-8zm4-6zm4 9zm1 5zm3-4zm0-2zm10-9zm1 12zm0-4zm5-2zm0-5zm3 11zm10 1zm4-13zm9-5zm0 19zm1-2zm-92 23zm14 1zm5-14zm1 15zm1-17zm1 1zm0 18zm2-2zm3-11zm0 0zm2 0zm2 7zm3-10zm1 4zm1 13zm1-8zm0-7zm0-3zm2-6zm2 9zm2 9zm1-7zm1 12zm0-17zm1 15zm0-16zm3 1zm0 12zm0 2zm1-12zm2-1zm4 9zm0 8zm1-12zm2 9zm4 3zm1-17zm4-4zm6 13zm0-1zm2-1zm0 1zm2 6zm2-13zm2 0zm2 4zm1 4zm-96 23zm16 9zm5-21zm7 7zm0 1zm9 10zm0 2zm5-20zm4 4zm2 14zm8-10zm1 7zm4-13zm2 3zm1-6zm0 12zm6-9zm6 3zm3 8zm4 0z" stroke="#1414d8" stroke-width="10" stroke-linecap="round" fill="none" opacity="0.9"/>
<path transform="scale(.1)" d="M2796 1694zm-34 21zm0-3zm1 7zm0-4zm2 2zm0-2zm1 3zm4 4zm3-7zm2 9zm7-17zm0 16zm3-3zm2 3zm4-10zm2 11zm0-1zm6-19zm3 15zm4 2zm-59 14zm7 12zm1-7zm4 5zm7-10zm0 5zm7-1zm1-1zm2 1zm0-14zm6 19zm1-4zm1 5zm7-7zm0-4zm1 3zm2 0zm5-1zm2-7zm1 13zm6-3zm0-8zm0 12zm1-5zm4-12zm-51 35zm1-5zm1 3zm2-3zm2-2zm2 0zm2 2zm0-3zm2 4zm5 1zm4-7zm12 5zm7-2zm5 4zm2-7zm-57 34z" stroke="#3a62e0" stroke-width="10" stroke-linecap="round" fill="none" opacity="0.9"/>
<path transform="scale(.1)" d="M2907 1723zm12-16zm5-7zm0 21zm7-4zm1-9zm1 5zm1 0zm5 3zm3 0zm0 8zm7-15zm1 15zm4-4zm0 1zm0-4zm0 2zm3 0zm2-5zm4 10zm1-23zm0 22zm10-17zm0 12zm5-9zm-69 18zm7-2zm3 0zm1 1zm5 15zm0-16zm4 6zm1 4zm0-9zm3 6zm0-2zm0-1zm5 8zm1-1zm2-11zm2 7zm7-5zm2 2zm2 3zm0-6zm4 11zm5-5zm11 0zm12-2zm11-4z" stroke="#1c7ce0" stroke-width="10" stroke-linecap="round" fill="none" opacity="0.9"/>
<path transform="scale(.1)" d="M2629 1923zm-28 5zm16 14zm1 3zm3-18zm1 5zm2 0zm-43 91zm8-1zm-63 23zm23 1zm3 1zm16-21zm2 6zm1 14zm5-2zm3-10zm2 10zm5-14zm4 17zm2-18zm5 3zm3 17zm3-4zm-76 29zm12-24zm2 13zm10-1zm2 7zm2-14zm0 5zm3-6zm0 0zm15 6zm1-3zm7 2zm2 0zm1 5zm0-2zm6-12zm2 4zm1 12zm1 7zm1-6zm7-9zm1-5zm11 1zm27-4zm-114 36zm6-6zm7 7zm11-4zm37 14zm6-20zm1-2z" stroke="#5cc8d4" stroke-width="10" stroke-linecap="round" fill="none" opacity="0.85"/>
<path transform="scale(.1)" d="M2854 1698zm-14 16zm8 3zm0 0zm7 7zm29-3zm-49 10zm5-6zm1 15zm3-14zm3 6zm0 0zm1 0zm0-6zm0-1zm1 17zm1-9zm1-2zm4 12zm1-5zm5-13zm3 8zm0 5zm1 0zm1-8zm1-5zm1 10zm1-7zm0 5zm0-5zm0 10zm1-8zm1 2zm1-1zm1-1zm2 2zm1 1zm2 16zm0-23zm7 3zm1 9zm1 3zm2 4zm1-15zm1 3zm4-7zm11 10zm-54 19zm19 0zm16 2z" stroke="#18d0dc" stroke-width="10" stroke-linecap="round" fill="none" opacity="0.9"/>
<path transform="scale(.1)" d="M3229 1574zm3-5zm0 2zm2 3zm1-9zm2 8zm8-2zm1-4zm1 0zm1 6zm3-10zm3 11zm1-7zm1 2zm2 3zm1-6zm-52 9zm15 8zm9-5zm6 2zm4-3zm0 0zm3 3zm11 10zm0 2zm3-11zm1 0zm2-3zm1 6zm1 0z" stroke="#dca814" stroke-width="10" stroke-linecap="round" fill="none" opacity="0.9"/>
<path transform="scale(.1)" d="M3260 1621zm9-11zm14 12zm4-16zm4 14zm3-2zm2-2zm3-1zm3-4zm0 13zm3-8zm5-16zm2 9zm0 11zm5 3zm1-10zm1 0zm6-9zm0 14zm4-4zm4 7zm0-12zm16 2zm-120 29zm39-8zm1 8zm3-10zm1 8zm6 6zm2-6zm6-13zm4 8zm0 5zm1-8zm1 1zm0 9zm2-15zm0 1zm2 6zm3 5zm0-4zm3-6zm0 5zm0-2zm0 7zm0-12zm1 13zm2 11zm0-21zm0-1zm5 12zm1-6zm8 0zm8-4zm2 2zm1-1zm7 12zm14-8zm-71 26zm8-9z" stroke="#b4b4b4" stroke-width="10" stroke-linecap="round" fill="none" opacity="0.9"/>
<path transform="scale(.1)" d="M3051 1535zm12 10zm10 2zm0-7zm1-2zm2 3zm9-3zm9 11zm-55 21zm2-17zm1 19zm2-5zm6-6zm0 11zm3-9zm4 8zm2-19zm0 21zm1-5zm0 3zm3-8zm1 2zm1-5zm0-7zm0 18zm3-17zm0 18zm0 2zm1-5zm2-8zm1 6zm0-15zm1 21zm0-16zm0-1zm3-6zm2 1zm1 20zm0-12zm0 0zm3 4zm0 8zm3-21zm1 16zm0-10zm0 2zm1 0zm0 12zm2 4zm3-1zm1-11zm1 7zm2-5zm3-14zm0 11zm1 5zm-63 10zm7 9zm2-9zm1 3zm8-4zm4 8zm3 6zm4-14zm1 4zm2 7zm3-9zm0 12zm0 1zm2-4zm0-11zm2 7zm1-3zm1 19zm1-12zm3 6zm2-2zm1-12zm1-3zm1 12zm2-4zm0-3zm2 12zm5-1zm2-14zm0 3zm8-5zm2 8zm-46 28zm15-9z" stroke="#b03ce0" stroke-width="10" stroke-linecap="round" fill="none" opacity="0.9"/>
<path transform="scale(.1)" d="M3158 1743zm13-5zm1 11zm-39 10zm3 15zm0-10zm0 0zm0 2zm1 3zm5 5zm3-17zm0 9zm5 7zm2-14zm3 12zm1 1zm1-13zm3 6zm0-7zm0 4zm1 0zm0 11zm2-2zm1 0zm0-4zm5-3zm1 6zm0-4zm1-1zm0-5zm4-2zm2 2zm0 3zm2 11zm1-22zm1 21zm2-10zm5 3zm0-3zm9-3zm2 10zm26-7zm10 5zm-109 8zm2 18zm1-9zm1-4zm4-2zm1 0zm4 8zm1 7zm6-17zm1 5zm0-4zm1 4zm1 7zm3 10zm1-20zm0 16zm1-15zm1 11zm1-7zm0-4zm5 7zm3 0zm2-8zm0-3zm1 3zm1 1zm0-3zm0-2zm0 0zm0 2zm1 12zm0 6zm2-18zm0 6zm1 3zm1-5zm0 8zm1 3zm2-7zm5-4zm3 6zm1-4zm1 6zm3-9zm0-1zm0 4zm10-1zm3 4zm3 3zm-69 12zm0 8zm10-5zm5 2zm6-6zm1 17zm25-8zm17-6z" stroke="#0e6e22" stroke-width="10" stroke-linecap="round" fill="none" opacity="0.95"/>
<path transform="scale(.1)" d="M3395 1787zm16 11zm1-2zm5-15zm31 18zm-113 16zm2-6zm23 6zm0-1zm4 7zm1-2zm6-1zm1-5zm1-9zm1 9zm7 9zm2-14zm9 15zm3 1zm6-4zm0-6zm1 4zm1-4zm1-12zm3 22zm1-20zm2 0zm3 20zm1-3zm6 0zm0-10zm2-6zm2 17zm1-5zm1 0zm7 0zm2-14zm3 21zm0-4zm2-7zm0 2zm8 3zm9 5zm4-2zm5-10zm3 1zm5-6zm4 17zm10-8zm8 0zm-170 27zm18-17zm11 22zm1-11zm2-1zm5 12zm5-3zm2-8zm0-1zm3-7zm1 6zm1 15zm3-14zm3 6zm1-4zm4 2zm0-8zm1 4zm0 11zm0-5zm2-14zm1 2zm1-2zm1 13zm1 5zm0-12zm0 13zm0 3zm1-21zm0 21zm0-16zm2 6zm1 7zm0-15zm0 18zm1-1zm0-18zm0 13zm1-9zm1 6zm0-4zm1-2zm1 8zm0-15zm1 19zm2-5zm2-5zm0 1zm1 2zm0-13zm1 13zm0-4zm2-4zm1 17zm0-7zm1-7zm0 5zm0 4zm1-15zm1 16zm4 2zm0 1zm0-3zm3 5zm1-4zm0 4zm1-20zm1 17zm1 2zm0-5zm0 1zm2-3zm0-10zm1-6zm0 5zm2 17zm1-9zm1 4zm0 5zm1-20zm1 7zm0 10zm1-1zm0 3zm1 0zm2-8zm1-4zm1 15zm3-12zm0 0zm1-10zm1 0zm1 2zm0 19zm2-2zm0-1zm3-18zm1 12zm1 10zm1-5zm0-14zm2 11zm0 7zm0-22zm0 12zm2-8zm1 15zm0 2zm2-4zm0 6zm1-2zm1-22zm2 7zm1 14zm0-1zm2 2zm1-1zm1 2zm2-1zm1-9zm1-9zm1 15zm3-1zm1 0zm0 3zm4 1zm3-3zm4-18zm-162 45zm3-8zm8-5zm2-3zm4 8zm8 1zm1-3zm1-5zm2-1zm2 10zm1-5zm1-8zm0 16zm5-5zm1 0zm1-6zm2 1zm1-3zm0 17zm6-14zm0 5zm1-3zm1 2zm0 1zm2 0zm0 8zm0-10zm0 12zm0-2zm0-19zm1 21zm1-14zm0 5zm1 9zm0-10zm1-10zm0 0zm0-3zm1 12zm1 9zm1-2zm1-7zm3 5zm0 0zm0-13zm0 17zm1-4zm2 6zm0-23zm0 0zm1 20zm0-15zm0-2zm0 13zm2 8zm1-14zm1-2zm0 1zm0 2zm1-5zm0 7zm1-7zm1 16zm0-13zm1-4zm0-5zm0 16zm1-8zm0 6zm0-10zm0 9zm0 9zm0-18zm1 16zm1-12zm1 8zm0-13zm1 19zm0-13zm0 15zm0-6zm0-13zm1 14zm0-1zm0-11zm0-7zm1 19zm0-18zm1 2zm0 8zm2-7zm0 2zm1 16zm1-14zm1-5zm0 2zm0-3zm0 2zm0 17zm1-7zm0 7zm0-8zm1-2zm1 10zm0-18zm0 3zm1 3zm0 15zm1-3zm0 3zm0-13zm0-9zm1-1zm0 18zm1 0zm0-10zm0 9zm2-9zm0 7zm1 1zm0-3zm0-7zm0 6zm0-13zm0 5zm1 7zm0-9zm1 3zm0 1zm1 12zm0-10zm0-2zm0 17zm0-8zm0 2zm1 6zm1-23zm0 22zm0-1zm0-6zm0-11zm1 6zm0-2zm0 1zm1 3zm2 3zm0-16zm0 15zm0 9zm0-19zm1 11zm0-11zm0-2zm0 13zm0-9zm1-6zm0 14zm0 2zm1-5zm2 8zm1 0zm0-20zm0 17zm0-8zm1-3zm0-2zm0 12zm2-8zm0-2zm0 6zm2-11zm0 15zm0 7zm1-23zm0 11zm1 13zm2-14zm0-10zm1 15zm1-2zm1 8zm0-20zm1 6zm1 7zm2-2zm1-12zm1 6zm2-5zm0 15zm1-10zm1 6zm1-7zm0 8zm1 6zm2-1zm9-11zm2 8zm5-9zm4 7zm4 1zm3-12zm5 8zm13 8zm13-1zm-191 11zm8 13zm5-3zm8 7zm4-1zm1-10zm1-6zm4 4zm1 7zm0 7zm4 1zm0-10zm0-5zm1 14zm0-2zm1-7zm1 3zm1-13zm1-2zm0 2zm1 5zm1 15zm1-16zm1 11zm0-11zm0 3zm2 3zm1-7zm0 3zm1 6zm0-13zm2 4zm0 4zm0 7zm0-5zm1 13zm0-4zm0 2zm2-10zm0 8zm1-3zm0-5zm0 4zm0-9zm1-4zm1 1zm0 11zm0 6zm0-7zm2 3zm0-8zm1-2zm1 12zm1-19zm0 24zm0-11zm0-8zm1 14zm0-16zm0 9zm0-11zm1 6zm0 2zm1 14zm1-11zm0 4zm0 3zm1-9zm0-6zm0-1zm0-3zm0 18zm1-18zm0 16zm1-7zm1-1zm1 5zm0-1zm0-1zm1-5zm0 4zm1-8zm1 0zm0 5zm2 1zm0-8zm0 17zm0-3zm1-1zm0 7zm0-7zm0 6zm0 5zm0-3zm1-17zm0 2zm0 6zm0 11zm0-4zm1-12zm0 17zm1-4zm0-16zm0 5zm1 5zm0 1zm1 6zm0-3zm0-2zm1-14zm1 8zm0-3zm1-1zm0 12zm1-8zm0-10zm0 1zm1 17zm1-8zm0 10zm1-11zm0-3zm0 0zm1-5zm0 16zm2-8zm1-9zm1 13zm1-3zm0 7zm2-13zm0-2zm0 14zm0-11zm1 15zm1 4zm0-3zm1-5zm1-8zm0 0zm1 9zm1-10zm1-7zm1 4zm0 12zm1-15zm1-1zm0 22zm1-19zm0 11zm0-11zm1 12zm0-10zm0 14zm0-10zm0-3zm1 5zm0-3zm0 7zm1-6zm0 15zm1-10zm0 4zm1-12zm0 4zm2 5zm3 5zm0-2zm1-7zm2-5zm0-3zm0 6zm1 5zm1 5zm1 4zm3-21zm1 14zm0-10zm1 10zm4 3zm1-13zm0 17zm1-1zm1-9zm0 3zm1-5zm3 8zm1-17zm0 3zm1 6zm3 3zm2 3zm0-9zm2-2zm9 2zm7 3zm1 11zm-196 9zm11 12zm16 0zm8-16zm1 3zm7 6zm2 7zm2-10zm1-2zm2 1zm0-3zm5 0zm0 6zm0 13zm1-12zm1 7zm3-14zm4 6zm1-2zm1 4zm2-9zm5 4zm2 6zm3 1zm1 9zm1-16zm1 17zm0-20zm1 3zm2 14zm1-7zm0-3zm4-9zm4 9zm0-6zm0-4zm3 17zm1-17zm1-1zm1 4zm4-1zm0 5zm0 2zm1-8zm1 10zm0-10zm0 21zm0-12zm1-2zm3-6zm0 3zm1 12zm1-2zm1-4zm2-5zm1-5zm3-2zm0 24zm0-8zm1-12zm2 2zm2 5zm1-1zm1-7zm0 9zm2 3zm0 7zm3-21zm2 11zm0 1zm1-10zm1-3zm2 6zm2-6zm0 3zm6 15zm5-16zm1 3zm1-2zm1-2zm2-1zm2 4zm1 15zm2-3zm7 0zm14-9zm8-4zm0-3zm0 8zm1 1zm5-3zm33-3zm-231 24zm65 6zm1 15zm7-16zm22-5zm0 0zm4 6zm8-5zm1-3zm0 0zm3 12zm5 9zm7-5zm3-5zm1-11zm3 6zm9-4zm3 6zm6 2zm3-10zm6 4zm11 7zm16 7zm-95 25zm11-11zm28 3zm1 1zm5 1zm-15 18z" stroke="#b03ce0" stroke-width="10" stroke-linecap="round" fill="none" opacity="0.8"/>
<path transform="scale(.1)" d="M4223 1798zm116-4zm-38 15zm25-7zm24 3zm153 14zm94-10zm-672 27zm30 4zm72-15zm141 4zm10 7zm127-10zm138 0zm40 15zm-551 27zm86-2zm204-3zm141 1zm67-14zm211 10zm-459 18zm37-3zm11 20zm146 4zm48-23zm12 17zm113-3zm79-14zm-707 32zm19 10zm16-3zm263 8zm423 1zm-692 18zm82-7zm308-2zm139-4zm58 11zm-542 31zm223-11zm76-6zm38 22zm62 15zm12-5zm-426 34zm18 4zm31 0zm17-8zm13 2zm264-17zm53 11zm69-10zm-476 24zm126-1zm45 22zm436 1zm20-7zm19-14zm20 21zm-454 24zm98-16zm27 2zm26 0zm94 4zm31-8zm9 2zm124 11zm30-5zm32 7zm-546 6zm1 13zm165-5zm87 10zm9-1zm-348 10zm19 4zm19 7zm123 1zm48-6zm200-6zm73 7zm-521 28zm135-11zm121 10zm101-3zm14 13zm153-1zm179-7zm-661 35zm23-14zm2 4zm74 1zm93 8zm312-19zm41 0zm75 5zm-658 33zm121-1zm139-14zm61 19zm210-16zm-164 22zm80 21zm108-13zm95 7zm-712 32zm91-3zm63-7zm2-11zm87 7zm135 1zm98 9zm19 5zm90-15zm147-8zm-712 36zm0-10zm15 19zm80-6zm91-11zm183 3zm83 12zm281-5zm-670 31zm68-11zm69 2zm148 0zm96 6zm146-15zm-509 28zm142 2zm120-5zm21 5zm292 12zm-544 7zm39 10zm1-5zm52-6zm79 1zm286 9zm-303 29zm43-12zm28 11zm-386 22zm52-6zm36 17zm32-2zm37-9zm110-10zm40 18zm147-10zm6 7zm138-4zm-386 15zm521 16zm-722 20zm17 12zm338-5zm7-3zm4-2zm206-13zm114 13zm50 9zm-659 6zm21 9zm13-1zm18-5zm236 9zm274-5zm85-9zm11 8zm-109 21zm111 8zm-540 33zm1-5zm372-5zm44-4zm5 14zm-129 5z" stroke="#e8001e" stroke-width="7" stroke-linecap="round" fill="none" opacity="0.5"/>
<path transform="scale(.1)" d="M4365 1895zm94 2zm-172 15zm179 5zm120 32zm37 0zm-335 24zm297-15zm-411 37zm12 3zm14-4zm435 2zm-488 12zm22 4zm41-11zm53 9zm12 11zm50-12zm19 0zm39 8zm22-17zm14 10zm62 7zm34 1zm19-12zm119 18zm-518 17zm15-12zm33 12zm2 8zm6-11zm19 2zm16 6zm1-11zm5-5zm24-1zm13 11zm20-5zm1 13zm8-5zm8-2zm17-4zm52 0zm55-3zm86 14zm109-14zm61 10zm-589 22zm46-11zm7 9zm22 1zm1 1zm15 8zm2-11zm6-3zm8-5zm7-4zm12 22zm3-1zm18-10zm3 11zm21-4zm1-2zm1-17zm8 5zm10 14zm1 3zm3-12zm17 4zm3 6zm2-10zm10 9zm26-14zm6-2zm4 19zm56-16zm14 15zm7-2zm15 5zm24-9zm5 5zm13-5zm48 6zm7-10zm19-6zm49 13zm26 3zm20-11zm-613 37zm23-15zm4 14zm53-20zm2 22zm1 1zm5-11zm2-7zm3 11zm27 5zm6-5zm0-1zm15 0zm3-12zm1 17zm19-2zm1-16zm0 14zm13-8zm3-1zm3 8zm7 4zm2-6zm6 10zm1-15zm3 5zm1 1zm4-13zm3 20zm1-2zm1-19zm4 10zm13-5zm3-1zm3 10zm6-1zm2 7zm7-1zm4-14zm11 9zm3-3zm3 1zm6 5zm8-17zm13 16zm2 2zm3-12zm12-3zm6 12zm5 0zm27-8zm13 0zm20 5zm0-11zm29-1zm4 14zm5 3zm16-13zm55 2zm7 14zm10-11zm82-4zm-642 24zm27 10zm97-3zm27-11zm20 5zm2-5zm3 2zm9 21zm4-9zm2-1zm6-13zm0 3zm4 17zm3-18zm3 7zm3 2zm1 7zm1 2zm0-8zm6 10zm1-5zm3-4zm1 5zm4-7zm2 5zm3-9zm3-7zm3 6zm1 17zm6-24zm1 1zm2 17zm2 2zm6-7zm2 8zm7-1zm1-6zm3-3zm1-2zm6-2zm0 1zm1-2zm3 0zm4 13zm1-7zm2-8zm0 1zm6 5zm5 11zm2-16zm0 17zm12-11zm3 7zm1 1zm5-16zm5 7zm7-4zm7-5zm5 6zm2 12zm2-15zm0 3zm3-5zm4 21zm3-9zm8-3zm4-2zm9-5zm3 4zm10-3zm1 11zm12-6zm4 9zm12 5zm14-10zm4 3zm7-17zm1 18zm14-3zm19 3zm4-1zm1 0zm47-1zm18-11zm33 3zm16 1zm5-8zm7 23zm32-23zm-673 26zm115-2zm28 12zm23-9zm2 20zm5-17zm2 18zm10-3zm0 0zm10 2zm0-15zm17-5zm5 8zm6 2zm7-1zm1-8zm1 13zm8-14zm5-1zm2-1zm5 19zm1 2zm10-22zm0 13zm1-3zm3 12zm2-13zm12 10zm1 5zm1-10zm1-6zm2 16zm3-7zm4-5zm1 3zm4 2zm0 2zm0-18zm2 18zm0 4zm3-5zm2-11zm0-5zm5 1zm3 2zm6-3zm0 14zm2 2zm7-6zm1-9zm0 10zm1-8zm0 12zm1-6zm0-7zm0 9zm1-11zm3 15zm3-10zm2 16zm4-22zm4 16zm2-8zm7 7zm3-9zm11 5zm2-7zm6 12zm20-11zm1 4zm7-6zm1 17zm6-16zm11 2zm1-1zm2 12zm9 0zm2-4zm6 9zm0-16zm4 11zm2-16zm3 0zm4 6zm1 16zm3-9zm4 4zm12-3zm2-12zm34 6zm5 9zm16-14zm0 10zm2 6zm9-8zm6 1zm1 7zm5-2zm22-12zm22-1zm5 11zm0 3zm31 4zm7-19zm64 13zm-556 28zm33-20zm8 11zm6 7zm1-15zm14 17zm1-8zm2 7zm10 4zm2-3zm0 1zm5-15zm0 17zm3-6zm2-16zm7 17zm2-13zm0 2zm1 0zm8 9zm1-4zm0-4zm13-2zm1 10zm1-17zm4 14zm2 10zm2-3zm1-9zm1-4zm3-4zm2 6zm2-1zm6-6zm0 0zm5 17zm3-8zm3 1zm2-5zm1 14zm2 0zm3-15zm3 0zm2-7zm2 2zm2 16zm2 5zm3-21zm1 17zm1-1zm4 6zm2-16zm4-6zm0 0zm3-1zm1 20zm0-18zm4 16zm4-16zm6 8zm12 13zm6-11zm1-6zm2 15zm0-2zm12-18zm59 15zm4 4zm18-1zm6-11zm2-4zm1 0zm14 9zm12-10zm75 0zm13 8zm12 6zm10-12zm15 0zm3 7zm5-7zm3 15zm1-10zm4-2zm23 10zm1-4zm28 6zm2 3zm-602 10zm21-1zm49 7zm3-10zm11-3zm6 16zm2-10zm5-7zm6 12zm10 0zm1-3zm10 7zm5-16zm1-1zm6 6zm7 8zm11-6zm14 16zm3-9zm2-6zm0-2zm7 17zm2-15zm7-8zm6 12zm0 11zm13-13zm1-1zm0-5zm2 9zm4-10zm2-3zm3 11zm1-12zm1 10zm8-6zm1 4zm12 6zm0 4zm1-4zm2 7zm1-15zm5 6zm2-10zm8 19zm9-2zm0 1zm3-16zm3 10zm30-2zm10-3zm3-4zm0 0zm2-2zm1 1zm6 12zm14-1zm11-7zm4 6zm20 7zm8 1zm1-18zm0 2zm4 14zm1-19zm2-1zm5 15zm31-9zm21-5zm13 7zm17 14zm1-11zm1 3zm27-10zm16 0zm8 10zm5 9zm4-22zm32 8zm24 1zm-646 17zm6 9zm74 13zm16-9zm0-7zm1 13zm8 1zm46-8zm6-12zm3 15zm2-10zm2 14zm1 1zm3-19zm3 2zm6 19zm2-23zm5 17zm1-15zm4 14zm2-7zm9-8zm11 10zm6 12zm2-24zm3 6zm1-1zm1-1zm4 15zm2 4zm8-23zm0 5zm1 16zm3-4zm0-6zm9 9zm6-20zm10 0zm4 8zm16 10zm1-5zm1 11zm0-10zm8 0zm1-7zm8 8zm0 3zm4-1zm7-12zm0 10zm1 9zm6-17zm3 1zm3 15zm7-3zm6-12zm10-3zm7-5zm0 23zm1 0zm10-16zm2 9zm7 5zm2-1zm1-5zm1-10zm7 3zm8 3zm2-5zm2-5zm7 18zm0-7zm13-9zm7 4zm3 4zm7 7zm4 0zm1-6zm1-12zm0 24zm0-11zm4 10zm8-23zm1 8zm5 2zm2 4zm5-2zm4-5zm10 4zm1-6zm2-4zm5 17zm1-9zm8 1zm2 12zm1 0zm11-3zm3-1zm1-4zm3 4zm0 3zm0 2zm17-12zm5-11zm28 15zm13-7zm16-1zm12 0zm10 7zm5 4zm3-5zm17-1zm-556 14zm32 2zm19 14zm12 1zm3-15zm4 6zm21 12zm0-15zm1 17zm27-5zm1 6zm2-24zm3 1zm1 14zm4-11zm19 9zm1 4zm2-2zm4-13zm3 8zm7 10zm0-15zm8-4zm12 8zm8-9zm4 17zm4 4zm10-18zm4-2zm1 9zm2-6zm1 16zm0-8zm9-11zm2-1zm1 4zm4 13zm2-16zm7 10zm11-2zm5-7zm14 7zm2 8zm3-15zm3 8zm3 9zm2 3zm1-18zm2 9zm2 7zm9-16zm4 1zm5 6zm1 8zm2-5zm5-3zm1-8zm3 10zm3-3zm18-8zm2 8zm0-5zm7-1zm1 14zm3 3zm1 3zm4-6zm5-6zm1 4zm9-1zm2 7zm1-6zm8-2zm7-10zm5 8zm22 4zm3-13zm20 10zm16-7zm13-6zm6 5zm3 18zm28-21zm23 10zm-574 22zm63 5zm0 2zm60 6zm2-13zm5-6zm30 5zm29 10zm8 2zm2-15zm6-2zm3 6zm1-6zm3 17zm3-18zm5 7zm12-8zm1 11zm10 7zm14 3zm1-2zm0-18zm2 17zm6-16zm14 11zm3 10zm10-3zm3-19zm1 13zm1 9zm1-13zm4-10zm5 18zm2-19zm10 20zm4-12zm7-6zm6 5zm11 11zm5 6zm3-10zm1-9zm4-4zm1 0zm6 5zm5 16zm1 1zm4-18zm10 16zm3-7zm3-9zm1 7zm4 3zm7 2zm1-16zm0 12zm1-3zm1 1zm5 4zm0-13zm2 9zm3 11zm1-20zm0 9zm1 5zm8 3zm1-12zm1 15zm0-22zm1 13zm0-11zm7 7zm3 10zm3-8zm2 4zm1 4zm0-18zm2 16zm1-5zm7-5zm1 16zm3-11zm1-2zm5 11zm3-12zm0 14zm0-9zm11-10zm5 10zm1-12zm3 12zm1 7zm2-5zm16 6zm0-8zm9-12zm0 0zm9 15zm1-6zm14 5zm7-1zm1 1zm7-5zm1-6zm2 13zm30-2zm-568 31zm34-10zm18-7zm35 17zm4 2zm22-1zm1-13zm9 1zm4 0zm16 3zm14-7zm3 14zm5-21zm11 7zm4 14zm5-21zm2 7zm5 3zm2-8zm0 11zm6 4zm0-10zm5 15zm7 0zm2-21zm5 2zm3 2zm4 9zm10-13zm3 14zm9-14zm14 2zm5 4zm0 6zm4 7zm5 0zm2-20zm1 4zm3 5zm1-8zm0 15zm12-10zm1 17zm2-3zm1-9zm4 11zm1-7zm0 2zm0-12zm1 19zm2-2zm0-19zm1 4zm6 14zm7-5zm1 2zm2-10zm0-3zm1 9zm3 10zm3 0zm1-14zm3 14zm1-20zm1 5zm2 4zm7 2zm1-4zm3-11zm0 18zm1 3zm3-2zm2-10zm6 14zm2-15zm0-1zm1-1zm2 8zm0-10zm1 18zm4-11zm4-9zm1 12zm1 0zm8-13zm0 17zm2-12zm3 15zm3-3zm1-10zm2 14zm2-22zm4 11zm7-10zm2 23zm2-1zm0-22zm0 12zm2 1zm1 9zm0-9zm2-9zm9 12zm4 7zm1-15zm1-4zm1 9zm5-2zm2-3zm1-9zm10 13zm2 5zm1-10zm3 10zm1-5zm3 11zm1 0zm1-16zm8 13zm2 0zm1-12zm2 5zm1 1zm1-4zm24-5zm0 1zm2 0zm6 16zm6-1zm19 1zm0-9zm15 6zm8-5zm-587 17zm9-7zm37 14zm77-12zm12 8zm10 5zm16 9zm3-1zm2-9zm2-12zm13 8zm13-6zm1-3zm1 8zm6-6zm3 20zm1-20zm1 18zm5-16zm6 10zm7 1zm17 8zm14-12zm2-10zm4 18zm1-14zm1 8zm1-4zm2 14zm19-2zm6-19zm1-2zm2 8zm1-2zm2 7zm5-4zm4 2zm1 9zm1-5zm8-7zm1 7zm2-3zm7 2zm3-10zm5 12zm14 3zm2-14zm12 10zm2 6zm2 0zm4-3zm1 1zm6-11zm1-5zm2 7zm9-2zm2 13zm3 2zm2-23zm1 14zm1-1zm6 2zm2-9zm0 8zm3 3zm0 1zm0-12zm0 13zm1-6zm1-7zm6 17zm0-2zm3-4zm0-15zm1-2zm5 12zm6 7zm0 4zm2-9zm5 4zm5-11zm0 0zm0-1zm1 15zm1 2zm1-5zm2 3zm1 1zm9-18zm3 15zm2 1zm0-2zm4-4zm0 5zm5-1zm0-6zm0-11zm4 9zm2 11zm2-4zm2-13zm4 14zm2-14zm6 4zm0 1zm8 13zm0-18zm1-2zm1 21zm2-16zm2-2zm1-3zm8 11zm1-2zm1-11zm2 9zm4-7zm12 2zm6 9zm3 0zm2 3zm3-4zm13-1zm14-2zm3-7zm7-1zm23 17zm-604 18zm8 0zm45 12zm34-3zm27 3zm5-7zm23-15zm38 8zm12 5zm4 2zm15 0zm1-14zm1 0zm9 7zm4-7zm4 4zm2-4zm4 0zm6 3zm8 6zm1 10zm2-2zm8-11zm1 2zm1 0zm20-1zm4 11zm10-18zm6 16zm7 0zm2-12zm10 16zm1-9zm9-4zm5 1zm1-10zm3 9zm3 3zm1-4zm1 1zm2 5zm3 3zm2-3zm2 7zm6-21zm2 12zm1 6zm2-17zm0 22zm1-3zm1-6zm0 1zm1-14zm1 13zm1 3zm5-13zm1-4zm4 7zm0 11zm1 4zm0-6zm1-9zm0-5zm0 19zm3-10zm6-9zm0 8zm0 4zm2-4zm0-5zm0 16zm0-7zm0-13zm1 3zm0 19zm0-16zm1 14zm2 1zm0-14zm2-6zm1 12zm1-11zm1 12zm2 8zm0-17zm0 2zm0 6zm1-7zm4 0zm1 0zm1-8zm2 23zm1-10zm1-10zm0 20zm2-22zm0 10zm0 11zm1-2zm0-7zm1 8zm0 2zm1-19zm0 5zm1 8zm3-3zm0 8zm0-1zm0-17zm2 11zm0 8zm0-2zm2-15zm2 6zm1 9zm1-3zm0-12zm2 2zm1 2zm1 13zm0-1zm1-2zm0-4zm2-12zm0 7zm1 11zm2-8zm2-8zm1 3zm0 11zm3-5zm3 4zm1-19zm7 11zm8 4zm0-5zm4-6zm4 10zm0 0zm2 1zm0 6zm2-9zm3 11zm4-4zm1 5zm1-12zm1 2zm4-11zm1 19zm1-15zm5-5zm4 4zm0 18zm4-20zm0 17zm18-20zm11 4zm27 17zm2 1zm38 1zm-591 14zm13 11zm55-2zm2-22zm5 4zm62-3zm13 0zm12 6zm1 2zm15 8zm2-3zm1-6zm8 15zm3-11zm4-10zm3 7zm0 14zm7-13zm1 8zm1-7zm3-7zm7-3zm7 21zm0-22zm14 18zm2-2zm3-13zm19 2zm3 19zm6-17zm9 1zm2-8zm1 12zm0-4zm11 13zm5-2zm5-13zm1 10zm2-12zm7 12zm0 6zm1-22zm4 16zm0-16zm4 1zm1 9zm1 11zm1-16zm3 13zm1-15zm5 20zm0-6zm2-16zm0 4zm4 19zm0-5zm2 4zm0 1zm1-1zm0-15zm2 13zm1 2zm1-7zm0-12zm2 18zm2 2zm0-2zm2-12zm5-2zm4 14zm0-5zm1-8zm4-9zm7 5zm1 12zm2 1zm3 2zm0-19zm0 21zm2 0zm1-10zm2 8zm0-18zm3 22zm4-15zm1-3zm1 0zm1 12zm0-11zm1-1zm1 13zm1-7zm2-2zm0-8zm2 16zm1-17zm1 6zm0 6zm0 3zm1-13zm0 4zm1 1zm0 15zm1-5zm1 1zm0-6zm1 3zm0-8zm2 3zm1-11zm1 8zm0 8zm1 4zm0 1zm2-19zm2 10zm0 4zm1-1zm1-6zm1-9zm1 15zm1-2zm2-13zm0 8zm3-3zm4 5zm0-4zm0 13zm1-14zm1 0zm0 14zm2-1zm1 4zm1-9zm0-6zm2 2zm0-8zm2 7zm1 9zm1 4zm5 0zm0 2zm6 0zm1-20zm0 6zm3 6zm0 0zm1-14zm1 19zm2-8zm3 11zm1-12zm0 9zm1-10zm0 10zm1-9zm4 9zm2-17zm3 15zm3 1zm1-3zm2-16zm0 12zm3-6zm1 11zm2-6zm2 9zm1 4zm2-8zm3-16zm8 8zm12-4zm1 14zm0 2zm0 4zm2-23zm13 19zm2-14zm8 15zm4-19zm20 15zm9-17zm2 8zm-512 39zm14 1zm3-14zm23 0zm13 11zm3-4zm3-13zm6 21zm2-7zm41-10zm54 0zm1 8zm1-8zm2 13zm0-18zm3 11zm19 2zm1 3zm12-17zm3 8zm12-9zm0 5zm6 17zm4-19zm4-3zm15 17zm1 6zm2-2zm5-7zm2 9zm7-6zm2 6zm7-12zm0-4zm6-5zm6 22zm0-12zm0-4zm7-4zm3 18zm0-1zm3 1zm0-22zm3 6zm2 16zm0-15zm1 9zm2-5zm1 11zm1 0zm3-14zm2 0zm1-1zm0 10zm2-13zm5 19zm1-19zm0 8zm1 12zm1-12zm1-12zm0 15zm1-8zm2 15zm1-7zm1 6zm2-13zm1-4zm1 13zm1-10zm2 15zm0-20zm1 5zm5 7zm1-10zm2 18zm2-13zm1-8zm0 7zm2-6zm2 14zm4 0zm3 6zm2 1zm1-1zm1-13zm0-4zm1 12zm0-13zm1 8zm0-5zm2 0zm0 15zm2-2zm8-1zm1-2zm4-12zm2 1zm3 6zm1 9zm2-14zm0-7zm4 14zm3-8zm8 15zm3 0zm0-10zm0-1zm4-1zm1 13zm3-11zm4 11zm18-8zm2-3zm25-7zm2 5zm6-5zm13 6zm6-2zm13 15zm21-1zm-547 25zm2-11zm16 13zm42-24zm19 21zm10-15zm5-4zm1 17zm13-1zm7-10zm3 6zm17 4zm19-2zm10 4zm3-20zm2 10zm4 7zm5-13zm11 10zm13 9zm8-5zm6 6zm5-14zm2-2zm15-4zm1 7zm10-5zm8 11zm4 1zm5-3zm2 3zm6-4zm6 0zm16 8zm1-16zm8 12zm0-5zm6 1zm1-14zm0 19zm1-19zm4 5zm3 1zm1-4zm1 4zm1 14zm0-5zm0-13zm1 6zm1 9zm0-14zm2 16zm1-14zm7 10zm1 6zm3-19zm0 20zm0-4zm2-7zm1 2zm0 8zm1-13zm4 4zm4 7zm0 2zm10-1zm3-17zm5 21zm3-20zm1-3zm0 15zm3-6zm2 2zm1-12zm4 5zm2 9zm4-10zm2 16zm3-7zm1-7zm1 2zm0 12zm1-16zm0 0zm1-1zm0 3zm2 2zm0-2zm1 10zm2-7zm5 4zm6 11zm1-5zm1-5zm4 8zm8-22zm3 22zm5-9zm0 2zm5 3zm17 3zm1 1zm12-4zm16-14zm45 16zm-609 20zm21-15zm38 14zm73-3zm6-10zm12 7zm23-6zm41 6zm13 13zm1-18zm29 19zm11-5zm2-17zm20 2zm1 0zm1 16zm1-15zm2 2zm5-3zm12 13zm3 0zm4-1zm0 10zm2-1zm7-13zm0 0zm6-4zm5 0zm0 7zm3-6zm4 3zm0-9zm12 9zm3-8zm21 15zm4 0zm7-5zm2 9zm6-7zm2-9zm2 8zm17 0zm13 5zm6 2zm1-4zm1-2zm1-13zm0 23zm4-15zm6-9zm1 4zm6-3zm1 13zm1-8zm5 13zm2-19zm1 19zm3-8zm3 3zm3-13zm3 15zm5-9zm11 3zm7-6zm5 7zm15-7zm1 15zm2 5zm1-24zm8 13zm2 1zm27 1zm3 3zm51-10zm-645 38zm60-19zm74 13zm99-9zm7 1zm3-4zm53 12zm0 0zm5 7zm12-4zm7-11zm2 6zm28 8zm17-13zm1 2zm11 3zm4 10zm10-20zm4 11zm13 5zm3-13zm2-4zm3 8zm9 1zm12 2zm3 10zm21-19zm3-3zm7 19zm0-14zm0 11zm1-11zm1 10zm31-4zm4-1zm1 3zm2 6zm16-18zm1-1zm3-1zm13 7zm3-5zm10 4zm3-6zm1 4zm18 20zm35-22zm-484 44zm17-18zm30 0zm38 3zm53 14zm47-1zm20-4zm10 1zm1 8zm2-10zm18-4zm14-5zm17 11zm16-16zm6 22zm17-11zm1-2zm0 4zm0 9zm6-16zm4-6zm20 20zm20-12zm1-3zm11-5zm16 18zm4-16zm18 14zm7-6zm44 2zm-525 18zm119-3zm7 0zm34 4zm32 6zm10 7zm13-1zm0-11zm44 10zm56-4zm36-8zm24 10zm0-7zm13-8zm23 0zm5 6zm2 10zm5 5zm0-21zm6 16zm2 0zm2-3zm14-13zm16 20zm45-2zm-485 7zm27 3zm100 12zm16-1zm35-12zm107 6zm5-3zm0-5zm113 9zm48 3z" stroke="#e8001e" stroke-width="8" stroke-linecap="round" fill="none" opacity="0.7"/>
<path transform="scale(.1)" d="M4123 2021zm40 3zm-12 19zm46-2zm-79 18zm10 13zm11-2zm4-15zm12 8zm4-2zm1-5zm1 3zm1-4zm15-5zm7 12zm5 0zm9-3zm2 15zm8-8zm3 1zm-94 8zm10 8zm5 16zm7-15zm2 11zm6 0zm2-8zm5 1zm1-7zm2 14zm1-18zm2 2zm0-1zm1 0zm2 10zm6 8zm2-1zm3 1zm1-4zm1-11zm1-5zm0 0zm2 23zm3-5zm2 3zm5-22zm7 11zm0 2zm2 10zm1-1zm3-8zm1-10zm7-3zm1 2zm1 17zm6 3zm0-6zm7-14zm10 7zm3-9zm2 4zm-136 43zm7-12zm11-9zm14 1zm9-1zm7 19zm1-2zm2-18zm0 6zm1-5zm1 12zm1-3zm6 12zm5-8zm2 8zm1-1zm0-20zm0-1zm1 23zm0-18zm3 12zm0-1zm6-2zm0-10zm0 19zm2-5zm2-11zm3-2zm1 15zm1-7zm4-13zm2 14zm1-5zm0 12zm3-13zm3 1zm1 6zm7-12zm0 4zm1-2zm3 7zm2 11zm2-3zm2-1zm2-11zm6 15zm7-17zm2 8zm0-6zm-111 27zm1 4zm15-6zm0-8zm5 7zm2 10zm7-14zm2 17zm1-8zm4 7zm2-11zm2-5zm0 13zm1-1zm2-16zm1 4zm0 7zm2 0zm0-2zm2-5zm7 6zm1-7zm3 14zm1-16zm2 8zm3 2zm2 2zm1 1zm2-14zm3 0zm3 19zm2-16zm1 6zm1 9zm0 2zm2 0zm0-9zm15 5zm3-8zm0 1zm43 4zm-166 19zm12-1zm11 4zm2 8zm2 2zm1-11zm8-2zm11-1zm3 4zm5-2zm2 13zm9-12zm3 13zm9-11zm1 4zm8 2zm5-1zm3-6zm4 4zm4 8zm36-8zm-116 11zm9 14zm2-13zm6 7zm36 8zm21-10zm12-1zm-86 24z" stroke="#e02a12" stroke-width="8.4" stroke-linecap="round" fill="none" opacity="0.85"/>
<path transform="scale(.1)" d="M4159 2024zm20-9zm4 7zm8-2zm6-20zm14 17zm1-3zm21 10zm9-6zm2 5zm5-4zm18 4zm4 1zm158-1zm1 0zm5-3zm10-6zm3 7zm1-6zm1 8zm6-3zm1 4zm5-3zm0 0zm1-14zm1 15zm7-7zm-335 10zm3 10zm11-4zm18-1zm9 4zm9-1zm7 11zm3-18zm0 8zm9 6zm3 9zm4-11zm1-3zm1 13zm1-11zm0-12zm1 4zm2 4zm7 8zm0-8zm2 4zm1-11zm0 17zm2-9zm1-9zm0 12zm3 9zm0-6zm1 6zm0-5zm1 6zm2-15zm1 1zm1 16zm1-7zm1-2zm0-9zm3 1zm1 6zm7 1zm1-8zm3 16zm2-1zm1-12zm0-7zm1 21zm0-5zm3 3zm1-4zm0-4zm1-7zm0 8zm2 8zm4 1zm2 1zm4-19zm2 16zm3-15zm1 7zm3 3zm2 6zm4-21zm1 18zm2-1zm2-1zm8-1zm4 7zm5-2zm0 0zm1-5zm13 3zm7-12zm0 13zm89-12zm11 15zm2-11zm0 0zm2-5zm4-4zm0 12zm2-10zm0-1zm2 5zm3 11zm0-2zm0 3zm2-2zm2-6zm1 4zm0-12zm0-4zm2 15zm1-1zm3-14zm1 15zm1 6zm1-12zm5 12zm4-7zm2-6zm-280 19zm16 4zm0-7zm2 9zm9 13zm4-8zm2-8zm2-1zm1 2zm6-5zm0 20zm0-18zm3 2zm0 12zm6-18zm0 12zm5-12zm7 9zm1 3zm1 3zm1-8zm0 2zm5 12zm1-16zm1-3zm2 4zm4 10zm1 0zm3-4zm0 9zm1-10zm1 8zm3-16zm1 20zm1-14zm1-6zm0 4zm1 6zm0-3zm1 9zm0-14zm1 17zm1 2zm2-14zm2-7zm1 12zm0-6zm1 1zm2 5zm2 4zm2-7zm0 8zm1-4zm1-14zm1 5zm0 14zm0 3zm1-14zm1 12zm0-14zm1 2zm0 3zm2-8zm2 12zm0 2zm2-2zm0 0zm4-17zm1 22zm0-10zm0 12zm1-7zm0-5zm4-7zm2 17zm0-6zm0-8zm1 12zm1-13zm2 14zm1-13zm1-5zm2 6zm0-3zm6 10zm1 4zm2-15zm3 10zm1-4zm0 10zm3-1zm1-13zm5 7zm6-12zm8 11zm17 7zm11-9zm39-11zm1 8zm10-2zm0 6zm1-2zm0-2zm0 10zm2-12zm1-6zm-203 26zm8 8zm1-4zm3 2zm2 17zm12-10zm5-11zm12 19zm0-21zm4 2zm1 6zm11 14zm3-21zm5 11zm2-13zm3 4zm0 8zm3-8zm5-2zm2 2zm5 18zm1-19zm0 14zm2-9zm1 2zm10 10zm6-13zm1-4zm0 4zm6-1zm0 6zm5-1zm3 7zm1 5zm45-10zm2-7zm111 12zm11-6zm11 8zm-233 13zm15-8zm55 7zm15-7zm2 12zm140 0zm11-8zm1 14zm1-3zm-215 11zm188 22zm2-16zm10 6zm1-13zm0 23zm0-8zm3-10zm1 7zm1 3zm1 4zm0-12zm4 2zm3-5zm2-4zm0 5zm5 14zm2-3zm2 3zm0 4zm1-1zm1-1zm3-12zm0-5zm1 4zm1 15zm2-12zm15-1zm-64 18zm10 0zm1 16zm2 2zm2-13zm2-4zm3 6zm3 10zm3-13zm1 2zm6 4zm2 10zm1 0zm0-18zm1 8zm1-4zm1 12zm3-18zm4 3zm4-5zm0 22zm0-1zm1-12zm6-5zm1 8zm5 3zm-52 22zm6-9zm3 6zm8 5zm1 8zm2 0zm5-10zm0 3zm1-2zm1-6zm1 6zm4-6zm2-5zm1 12zm0 5zm0 3zm1-16zm1 12zm1-4zm3-6zm0 0zm7 5zm3-14zm3 15zm5 6zm-44 22zm7-16zm1 7zm0 6zm3 2zm0-11zm4 9zm2-4zm2-6zm3 12zm1-10zm3-5zm0 9zm1-7zm0 20zm1-23zm0 5zm3 7zm8-9zm0 0zm6-2zm4 10zm24-4zm-74 19zm6 5zm2-4zm15 13zm3-3zm2 0zm1-11zm2 0zm2 15zm2-6zm6 12zm4-20zm17 21zm12-9zm-41 12zm19 5zm-2 44z" stroke="#e87420" stroke-width="9" stroke-linecap="round" fill="none" opacity="0.9"/>
<path transform="scale(.1)" d="M3715 2167zm28-3zm1 2zm0 2zm1 1zm6 1zm2-18zm5 11zm2-8zm2 19zm6-5zm5-7zm2 1zm2 1zm-76 25zm2 4zm4-11zm5 16zm11-15zm10 2zm3 4zm1 9zm1-19zm1 20zm1 0zm0-4zm1-6zm0 9zm0-19zm1 16zm1-10zm0 14zm1-1zm0-8zm3 7zm0 2zm1-10zm0-7zm1 17zm0-1zm2-8zm1-5zm1 6zm0 7zm1-11zm1 11zm1-10zm0 10zm1-8zm0 0zm1-10zm0 18zm0-1zm0-4zm1-18zm1 16zm0 4zm0-2zm1 6zm1-7zm0-6zm0 1zm0 1zm2 0zm0-12zm0 20zm0 3zm0-12zm0 0zm2-4zm3-4zm1 7zm1-5zm0 16zm1-3zm0-18zm0 18zm1-7zm0-6zm2 15zm1 0zm1-14zm0 1zm1 12zm2 2zm0-11zm0 10zm2-9zm1 10zm1-8zm1 1zm0-10zm1 16zm0-17zm0 11zm1-3zm0-5zm0 3zm0 7zm1-16zm0 20zm0 0zm0 3zm1 0zm0-7zm0 6zm5-3zm3-2zm5 2zm1-14zm0-1zm1 17zm6-1zm6 0zm1-14zm0 7zm9-10zm-129 22zm3 17zm4-12zm10 4zm1 5zm1 9zm4-2zm4-14zm1 16zm1-19zm1-5zm1 10zm0 13zm1-11zm0-1zm1 5zm2-6zm2 6zm0-12zm2 11zm2-12zm0-3zm1 3zm0 12zm0 9zm1-2zm1-1zm0-12zm2 3zm0 7zm0-15zm2 4zm0 4zm0-8zm0-3zm0 23zm1-18zm0-2zm0 1zm1-5zm1 10zm1 9zm0-16zm0 15zm0-4zm0 2zm0-7zm1 11zm0-10zm1-7zm0-3zm1 14zm0-5zm0 2zm0-11zm0 22zm1-6zm0-2zm0-2zm1-9zm0 3zm1 6zm0-12zm1 16zm1-15zm0 20zm1-10zm0-1zm0-7zm1-2zm0 13zm0-13zm1 15zm1 7zm0-2zm0-12zm0 11zm1-15zm0-2zm0 17zm1-14zm0 5zm0-3zm1 14zm0-21zm0 13zm1-11zm0 10zm0-8zm1 17zm0 0zm0-11zm0 2zm1 1zm0 7zm0-14zm1 4zm0 8zm0-11zm1-1zm0 13zm0-2zm0-8zm0 1zm1-1zm0 2zm0-5zm1-4zm0 3zm1-6zm1 6zm0-4zm0 14zm0-10zm1 6zm0 6zm1-5zm0 3zm0-1zm0 3zm0-2zm1-2zm0 5zm0-6zm0 7zm0-4zm1-11zm0 8zm0 0zm0-10zm1 1zm0 1zm0-3zm0 4zm1-5zm0 8zm1-4zm0 9zm0 1zm1 2zm0-9zm0 7zm1-11zm0 0zm0 9zm1 4zm0-10zm0 6zm0-4zm0 9zm1-15zm2-2zm0 11zm1 11zm0-22zm0 1zm0 15zm0-12zm2 0zm0-3zm0 13zm0-8zm1 3zm0 13zm1-7zm0-8zm0 0zm1 11zm1-6zm0-8zm0 13zm1-18zm1 21zm0 1zm0-5zm1 1zm1 5zm0-20zm1 10zm3 11zm0-14zm0 4zm1 3zm1-15zm2 4zm5 10zm1 6zm3-19zm1 6zm0-7zm1 10zm1 6zm0-2zm2 0zm-116 21zm19-11zm7 3zm4-2zm4 17zm0-10zm1 1zm4-7zm1 2zm4-1zm0 3zm1 6zm0-3zm0-10zm0 12zm1-12zm1 15zm1-15zm1 19zm0-11zm0 10zm1-2zm0-12zm1 12zm1-7zm3-8zm1 4zm1-5zm0 1zm0 2zm1-2zm0 9zm0 11zm0-17zm0 9zm1 5zm1-17zm2 20zm0-19zm1 15zm2-13zm2 3zm1-2zm0-4zm1 10zm1-5zm1 0zm1-2zm0-2zm1 10zm3 8zm0-16zm6-2zm1-2zm3 14zm0-8zm1 3zm0 2zm1-4zm0-3zm2 20zm0-21zm0 13zm1-8zm0 2zm2-2zm1-8zm1 10zm1 8zm2-16zm1 5zm2 2zm1-8zm7 18zm5-7zm21 9zm-116 21zm64-9zm46-3z" stroke="#1414d8" stroke-width="10" stroke-linecap="round" fill="none" opacity="0.9"/>
<path transform="scale(.1)" d="M3863 1718zm11-1zm7 1zm3 3zm0-2zm4-4zm1 4zm1 0zm2-8zm1 11zm1-8zm0-5zm1 4zm1 10zm2-8zm1 9zm0-12zm1 2zm2 6zm1 2zm1-14zm0 12zm2 0zm1 3zm0 0zm3-14zm0 12zm1-7zm3 0zm0-12zm2 17zm1 5zm1-4zm0 4zm6-18zm0 15zm2-8zm1 2zm6-1zm4 7zm0-3zm3 5zm1-12zm3 1zm3-2zm2 1zm6 12zm-89 2zm5 12zm1-2zm0-8zm1 17zm2-11zm0 16zm2-2zm2-13zm0-4zm2 6zm0 5zm0-9zm0-3zm1 5zm2-2zm2-1zm2 9zm1 0zm2-12zm0 7zm0 3zm1-6zm0 4zm1 11zm0-1zm0-3zm0-13zm1 8zm1-6zm0-1zm1 8zm0-5zm1 3zm1 7zm0 3zm1-17zm0 18zm0-3zm0-12zm1 1zm0 13zm0-8zm1 8zm0 0zm0-5zm1 5zm1-16zm0 18zm0-9zm0 2zm1-11zm1 5zm1 2zm0-10zm1 13zm0 0zm1-14zm0 5zm0 12zm1-14zm0 1zm1 9zm0-5zm0-8zm1 21zm0-4zm0-1zm0-18zm1 21zm0-16zm0-2zm0 20zm0 0zm1-4zm0-14zm0-1zm1 13zm0-8zm1 14zm0-16zm1 15zm0-6zm0 7zm0-10zm0-1zm1 2zm0-13zm1 1zm0 22zm0-24zm0 9zm0-3zm1 3zm2 3zm3 6zm2-3zm2-14zm0 8zm1 11zm0-6zm0-1zm1 1zm0 4zm2-9zm3 12zm1-13zm0-7zm2 13zm3-5zm1 2zm2-9zm0 19zm0-1zm1-15zm3 8zm2-11zm1 20zm1-17zm4 10zm-104 18zm5 5zm3-8zm1-4zm15 5zm1 9zm1-7zm2 4zm2-12zm1 8zm1 0zm5 2zm0-4zm1-6zm1 13zm2 7zm0-13zm0-2zm1 7zm2-4zm0-5zm2 5zm1-5zm0 0zm0 2zm3 2zm0-1zm1 6zm1 0zm1 8zm3-6zm2 7zm0-20zm1 1zm0-2zm2 12zm1-6zm2 0zm0 14zm2-14zm1 6zm0-7zm1-3zm1 4zm6 0zm2 4zm1-6zm0 4zm0-8zm2 9zm2-2zm1-1zm1-2zm1 10zm1 0zm13-12zm-70 29zm42 5z" stroke="#3a62e0" stroke-width="10" stroke-linecap="round" fill="none" opacity="0.9"/>
<path transform="scale(.1)" d="M4071 1697zm-46 16zm15-1zm0-1zm1 5zm1 5zm3-15zm4 9zm0 0zm1 2zm2-8zm4 5zm1-9zm1 16zm3 0zm1-18zm1 13zm0 4zm1 4zm1-4zm2-15zm1 19zm1 0zm0-4zm0 1zm1-10zm0 4zm1 5zm0-9zm1 12zm1-3zm0 0zm1-5zm1-5zm0 5zm0 9zm1-11zm0 0zm1 8zm1-13zm1 6zm0 6zm2-9zm0-6zm0 12zm1-4zm0 3zm2-1zm1-12zm1 10zm1 11zm1-2zm1-2zm2-12zm0 8zm0-4zm3 10zm6-2zm2-9zm6 3zm2 6zm-72 14zm5-5zm0-4zm1 3zm4-2zm2 10zm2-8zm10 3zm0 2zm1-3zm2 1zm1 4zm0-1zm0-9zm1 4zm0-1zm1 11zm0-14zm0 11zm1 4zm1-13zm2 5zm1 0zm3-7zm1 9zm0-6zm0 4zm2-3zm1 17zm0-14zm0 5zm1-6zm6-6zm4 1zm2 10zm1-2zm3-8zm7 7zm3-5z" stroke="#1c7ce0" stroke-width="10" stroke-linecap="round" fill="none" opacity="0.9"/>
<path transform="scale(.1)" d="M3722 1911zm14 7zm2 2zm21 1zm3-5zm-30 11zm5 11zm0-10zm5 13zm1-16zm1 12zm0 1zm4-8zm4 11zm1-11zm0-5zm3 6zm0 2zm1 6zm1-13zm4 15zm1 3zm0 3zm3-10zm8 6zm6-10zm-93 90zm1-14zm10 10zm2-15zm0 14zm3 0zm8-8zm18 11zm5-4zm4-5zm-93 31zm17-18zm0 6zm3 17zm0-13zm3-10zm1 16zm4 2zm0 6zm1-6zm2 6zm1-6zm2 3zm0-10zm1 5zm0-13zm1 18zm1-13zm0 15zm1-7zm3 8zm1-18zm0 18zm1 0zm0-8zm2-8zm3 5zm0 9zm1-16zm0 10zm2 3zm1-7zm0 12zm1-11zm1 7zm2-5zm0 8zm1-5zm1 3zm0-5zm0-11zm2 11zm3-10zm0 7zm1 10zm1-7zm1 3zm3-19zm3 10zm1-5zm3 12zm0-4zm3 6zm1 1zm3-6zm2 2zm2 4zm1-4zm2 8zm2-20zm1 19zm5 0zm0-5zm2-4zm0-14zm4 14zm-114 13zm6 15zm6 5zm2-3zm9 3zm3-22zm2 15zm0 7zm1-22zm3 16zm1-1zm1 5zm3-6zm2-4zm0 0zm0 6zm3-7zm0 9zm0-4zm1-10zm1 8zm1 7zm1-8zm2-1zm0 0zm2 2zm1-8zm2 4zm0 0zm6 8zm0 5zm0 1zm1-5zm0-9zm1-6zm1 0zm0 4zm0-5zm1 8zm1-6zm1 9zm0-7zm0-4zm0 20zm0 1zm1-6zm1 1zm0-15zm0 1zm1 12zm1-2zm1-7zm3 14zm0-20zm1 10zm0-8zm1 10zm1-7zm0 1zm3 2zm0-3zm2 0zm1 15zm0-19zm3 0zm2 9zm1-3zm3 11zm2-11zm0 1zm2-6zm1-1zm1 10zm1 10zm2-20zm3 13zm10-10zm-102 38zm5-14zm15 12zm1-8zm2 9zm1 3zm4-18zm0 6zm2-4zm13-3zm2 7zm0-6zm2 7zm0-2zm2-6zm3 9zm2-7zm11 10zm0-7zm4 8zm3-12zm-96 27zm53 4z" stroke="#5cc8d4" stroke-width="10" stroke-linecap="round" fill="none" opacity="0.85"/>
<path transform="scale(.1)" d="M3958 1723zm0 0zm15 0zm2 0zm1 0zm1-1zm2-2zm3 1zm1-13zm0 6zm3 8zm1-10zm1 8zm5 3zm1-3zm0-3zm2-3zm1 9zm9-7zm2 7zm1-5zm9-1zm-60 23zm3-15zm3 13zm4-1zm2-6zm0 11zm1-12zm1 8zm1-7zm1 6zm2-2zm0 4zm2-14zm0 3zm1 19zm0-18zm0 20zm1-11zm0-3zm1-2zm0-7zm1 3zm0 17zm0-8zm0-8zm3-2zm0 11zm0-10zm1 14zm0-9zm1 2zm1 3zm1-1zm0-8zm0 6zm2-1zm1-2zm0-5zm1 15zm0-13zm0 2zm0 0zm0 6zm1-9zm0-1zm0 12zm0-5zm0-10zm2 3zm0 7zm0-5zm1 5zm0 2zm1 0zm1-8zm1 4zm0 7zm1-15zm1 5zm0 0zm0-4zm1 17zm0-12zm0-3zm2 12zm1-11zm1 14zm5-12zm0 13zm0-6zm4-3zm0 0zm30 8zm-75 14zm3 1zm28-5zm2-3zm3 6z" stroke="#18d0dc" stroke-width="10" stroke-linecap="round" fill="none" opacity="0.9"/>
<path transform="scale(.1)" d="M4341 1573zm27-18zm3 1zm0 12zm4 4zm-12 6zm5 6zm4-7zm5 0z" stroke="#dca814" stroke-width="10" stroke-linecap="round" fill="none" opacity="0.9"/>
<path transform="scale(.1)" d="M4434 1590zm9-9zm4 13zm12 4zm6-1zm-50 22zm8-17zm11 0zm5 21zm28-7zm-66 22zm8-11zm0 8zm6 3zm2-13zm1 0zm1 0zm3 8zm2-4zm2-1zm8 2zm39 1zm-89 20zm28 2z" stroke="#b4b4b4" stroke-width="10" stroke-linecap="round" fill="none" opacity="0.9"/>
<path transform="scale(.1)" d="M4190 1548zm2-3zm2-19zm0 9zm11 3zm1 4zm-29 29zm8-9zm1 10zm0-4zm6 5zm3-1zm1 2zm1-13zm1 6zm2 6zm3 1zm0-13zm4 8zm4 1zm0-12zm5-6zm0 22zm5-6zm6-12zm10 11zm3-11zm-65 41zm11-21zm6-1zm6 5zm1 0zm7-5zm8 6zm9-4zm7 3z" stroke="#b03ce0" stroke-width="10" stroke-linecap="round" fill="none" opacity="0.9"/>
<path transform="scale(.1)" d="M4268 1747zm3-12zm29 10zm-40 19zm8 9zm10-5zm2-4zm2-4zm0 7zm1 2zm1 5zm1-2zm1 1zm3-1zm1 2zm2-17zm1 9zm6-5zm3-10zm2 21zm14-3zm-89 12zm30 5zm7 6zm6 4zm2 0zm6-15zm1-3zm1 7zm0-1zm2 10zm4-18zm2 8zm4 6zm6-13zm1 0zm1 6zm3-8zm2 9zm9-3z" stroke="#0e6e22" stroke-width="10" stroke-linecap="round" fill="none" opacity="0.95"/>
<path transform="scale(.1)" d="M4532 1798zm-38 24zm6-20zm0 6zm6-1zm5-5zm4 20zm9-3zm4 2zm5-17zm0 7zm1 8zm10-5zm7-8zm19 13zm10-1zm2 2zm3-9zm0-1zm4-3zm0 3zm28 9zm-143 19zm3 11zm10-10zm10-8zm8 15zm6-1zm5-8zm10-8zm21 0zm9 16zm8-11zm2 4zm4 1zm4 7zm1-7zm3-10zm3 8zm1-10zm1 4zm1-4zm3 14zm4-13zm4 9zm1-4zm1 13zm22-13zm-133 26zm3-3zm6 17zm0-22zm14 6zm19-5zm1 0zm18 9zm8-7zm16 4zm1 15zm0-18zm7 18zm6-22zm1 8zm5-8zm2 20zm1-3zm3-5zm1 8zm5-15zm8 12zm7-1zm13-6zm-150 30zm2-14zm7 1zm1 6zm5 7zm6 1zm2-15zm4 10zm4-11zm3 22zm2-8zm21 7zm8 0zm18-2zm16-3zm2-15zm0 20zm3-17zm0 17zm7-17zm0 11zm5 4zm2-13zm1 13zm11 1zm5-8zm3-2zm1 10zm17-18zm-156 26zm4-1zm10 18zm9-10zm3-5zm1 15zm0-1zm11-6zm7-12zm2 7zm0 12zm8-14zm3 7zm2 4zm5-8zm0-7zm3 9zm1 12zm1-19zm1 8zm4 0zm1-1zm2-8zm4 19zm4-19zm1 20zm6-10zm9 6zm5-4zm1-8zm3-4zm16 4zm-104 22zm31 4zm7-8zm5-1zm7 11zm43 7zm-63 10z" stroke="#b03ce0" stroke-width="8" stroke-linecap="round" fill="none" opacity="0.7"/>
<path transform="scale(.1)" d="M5162 1766zm52-2zm13 23zm14-2zm20 13zm169-20zm-198 40zm49-17zm-114 38zm148-11zm345 3zm-166 23zm73 4zm-516 33zm67-12zm218 6zm103 5zm315 2zm-526 11zm93-3zm4 20zm146-3zm78 7zm31-12zm23-6zm-574 34zm330-13zm57 11zm36 4zm88-3zm34 9zm3-20zm79 11zm-451 15zm119 5zm94-7zm102 20zm143-3zm-622 23zm259-2zm6 1zm334 1zm100-2zm-705 13zm526 4zm-573 37zm23 3zm19-20zm441 19zm33-18zm88 7zm175 12zm-512 8zm102 6zm250 12zm146-13zm-284 21zm16 4zm-374 36zm87-13zm97 8zm150 3zm211-5zm137 1zm-573 12zm-194 30zm15-1zm115 2zm185 21zm131 16zm267-11zm27-1zm-677 25zm0 3zm341 12zm82-17zm-290 19zm423 7zm-432 24zm35 14zm47 0zm88-11zm142-9zm84 3zm176 20zm-661 15zm2-5zm189 6zm239 1zm8 9zm186-24zm-587 33zm73 4zm8-8zm134 3zm273 2zm84 5zm-724 30zm2-19zm50 22zm94-19zm146 8zm192-1zm46-3zm34-5zm140 12zm-732 19zm68-8zm39 23zm161-14zm40-7zm38 1zm133 4zm206 15zm-673 26zm414-20zm47 8zm217-4zm49 16zm76-6zm-813 30zm39-18zm405 15zm249-16zm90 9zm-733 17zm19 5zm336 10zm96 5zm4-10zm51-2zm-563 14zm238 14zm24-2zm121-11zm8-2zm35 21zm29 1zm134-11zm16 13zm115-5zm-707 13zm184 8zm-185 11zm22 18zm172-2zm81-14zm35-3zm271 8zm19 9z" stroke="#e8001e" stroke-width="7" stroke-linecap="round" fill="none" opacity="0.45"/>
<path transform="scale(.1)" d="M5292 1846zm62-19zm-80 23zm60 8zm93 11zm-53 30zm26-13zm106 3zm-294 25zm33 2zm99 5zm6-12zm79-3zm60 15zm-346 16zm129-4zm3 2zm95 11zm7-3zm12 4zm24-12zm123 13zm-275 23zm4-12zm16 4zm47-3zm15-5zm12 9zm33-10zm4 19zm13-10zm122 7zm7-10zm88 2zm-433 13zm62 8zm12 9zm5-9zm49-4zm18 11zm33-12zm29 0zm2 20zm33-1zm12-9zm16-4zm23 14zm36-6zm5-17zm18 12zm16 5zm29-7zm11-2zm31 2zm-452 25zm21-9zm65 4zm6 12zm3-1zm8-10zm25-4zm4 18zm56-19zm4 0zm6 22zm12-11zm10-9zm1 7zm22 4zm55-9zm8 13zm1 2zm8-12zm8 3zm2 11zm6-18zm2 15zm27-1zm9-13zm9 9zm20-14zm3 18zm69-5zm99 3zm1 8zm-612 17zm62 3zm4-4zm1-3zm38-9zm7 20zm7-10zm7 4zm24-1zm29 3zm1-17zm18 18zm8-11zm4-3zm1 8zm16-8zm24 10zm12-14zm5-1zm7 11zm9-11zm1 16zm3-1zm7-8zm3 16zm17-17zm10-5zm1 20zm40-10zm4 8zm7 4zm2-8zm13 8zm9-15zm5-9zm46 2zm26 17zm3-7zm-442 17zm3 19zm4-5zm18-10zm17 13zm17-15zm9 5zm4-2zm9 10zm9-18zm5-1zm15 6zm3 11zm8-16zm10 18zm16 2zm6-4zm1 7zm17-5zm5-3zm4 1zm6-2zm11 1zm6 8zm8-22zm0-2zm2 4zm3 15zm0-12zm2 16zm9-2zm1-10zm1 9zm9 3zm2-17zm13 8zm2 4zm4-5zm3-1zm14 2zm2 3zm15-13zm3-2zm11 15zm6-4zm2-4zm8-1zm14 5zm9 8zm8-10zm27-1zm4 0zm10 11zm25 3zm10-17zm15 9zm43-9zm11 9zm9-7zm5-2zm36-3zm-718 32zm87 10zm49-4zm22-12zm19 9zm12 3zm5 4zm1-17zm3 9zm25-7zm3 2zm18-5zm7 16zm6-8zm10-1zm22-5zm5-1zm4 8zm11-7zm4 14zm3-14zm5 15zm0-18zm1 19zm3 3zm3-20zm5 7zm0 1zm3 11zm2-9zm10 4zm1 6zm3-23zm6 21zm3-18zm4-4zm2 11zm1 1zm3-9zm4 7zm3-1zm3 13zm5-22zm3 23zm9-11zm10-6zm7 12zm3-12zm2-4zm2 3zm3 17zm5-17zm7 11zm0-8zm5 7zm10 2zm0-2zm2-10zm1-2zm2 17zm7-11zm17-8zm0 14zm5 8zm5-20zm19 5zm2 11zm0-6zm3 0zm5-6zm2-5zm12-1zm9 11zm1-3zm5-1zm0 7zm0 8zm5-14zm22 2zm2-1zm14-8zm1 11zm15-2zm1 13zm0-20zm13 9zm1 2zm40 6zm0-21zm2 23zm0-5zm22 0zm-676 22zm69 9zm18-7zm33-11zm1 16zm21-15zm11 2zm15-9zm13 11zm21-10zm1 20zm1-11zm6-1zm1-3zm0 13zm9-4zm6-14zm8 6zm2 2zm1 11zm1-4zm10-8zm3 14zm10-19zm2 9zm2 6zm6 6zm7-10zm12 4zm1-11zm0-2zm3 7zm7 12zm3-23zm0 20zm6-13zm4 8zm3 0zm2-9zm6 9zm6-3zm2-2zm2-9zm2 14zm0-12zm2 15zm4 2zm2-19zm7 16zm6 0zm1 4zm4-6zm1-16zm1 18zm3 6zm2-17zm1 1zm4 6zm2-1zm2 2zm8-13zm1 7zm0 10zm1 1zm1-11zm5 10zm2 3zm0-11zm1 7zm1-12zm5 13zm0 3zm2-12zm1 14zm6-18zm7 3zm0 5zm3 6zm1-10zm2 13zm4-3zm1 2zm2-4zm3-6zm1-9zm1 13zm1 5zm4-6zm0 4zm4-9zm5 0zm4-3zm1 12zm4-15zm5 1zm2 17zm1-11zm1 11zm2-16zm0 8zm1-7zm4 15zm0 1zm1-3zm2 2zm2-8zm1 4zm11-4zm1 2zm3-5zm1-2zm1 2zm5 13zm6-10zm9 10zm0-19zm4 6zm8-10zm9 8zm2 14zm0-13zm6 5zm3 5zm1-17zm8 5zm3 11zm19-6zm2-9zm29 2zm15-3zm21 0zm8 8zm4 11zm37-14zm-620 18zm62 19zm11-8zm23-6zm2 9zm3 1zm9 6zm0-18zm10 2zm6 8zm13 6zm29-4zm4-6zm1 13zm10-16zm7 4zm1 10zm0-16zm1-2zm4 21zm5-20zm1 3zm2 7zm3-12zm3 5zm2-3zm1 0zm2 11zm3 4zm2-14zm3-4zm4 7zm1 0zm6 14zm1-18zm0 17zm2-15zm0 8zm4-2zm8-12zm1 3zm5 13zm3-6zm1 7zm3-16zm0 9zm1-9zm4 2zm2 21zm4-18zm2 14zm3-15zm1 19zm1-3zm1 1zm0-12zm1 4zm2-1zm1 6zm2-11zm1 16zm6-1zm2-8zm3 2zm0 6zm1 0zm2-8zm3-7zm1 4zm1-9zm7 4zm4 0zm1-5zm1 5zm1 10zm4 0zm5-17zm0 17zm1 6zm5-1zm2 0zm1 1zm9 1zm2-11zm0-8zm14 19zm0-9zm4-11zm4 20zm0-18zm0 2zm3 13zm1-2zm2-14zm1 6zm3 6zm4 2zm4-10zm4-8zm3 1zm4 18zm4-12zm1 0zm1 1zm11 3zm4-6zm0 11zm1 6zm2-11zm0 2zm1-6zm3 1zm1-3zm4 5zm7 3zm21-14zm11 13zm3-10zm10 21zm1-18zm0 18zm2-17zm2-3zm16 9zm5 7zm3-14zm8 4zm2 10zm3-19zm19 10zm1 0zm3 3zm8 3zm5-7zm3 1zm4 8zm4-13zm10 1zm47-3zm22 2zm-735 25zm127-4zm42 7zm6 1zm22 2zm15 7zm8-15zm1 4zm1 9zm17-8zm5 8zm1-5zm4 10zm2-20zm1 11zm6-6zm4 8zm7 0zm3 3zm10 0zm4-4zm3 5zm1-11zm1 10zm4-15zm1 14zm6-5zm6-4zm4 7zm1 6zm1-20zm3 23zm0-13zm0 12zm2-15zm3 4zm0-12zm3 15zm1 8zm3-20zm4 1zm6 0zm5 12zm1-7zm1-9zm0 21zm0-2zm1-16zm0-1zm1 16zm2-9zm1 3zm3-3zm1 11zm4-18zm0 18zm0-8zm1-1zm7-4zm2-1zm1 14zm1-4zm1-15zm1 19zm1-8zm0-2zm3 4zm1 4zm4-6zm0 3zm7 1zm2-12zm1 19zm3-17zm4 5zm2-9zm8-2zm3 3zm6 18zm2-12zm3-7zm0 19zm0-19zm1 14zm2-5zm0-2zm3 11zm2-10zm0-8zm2 7zm0-2zm2 4zm2 10zm3-13zm2 14zm0-3zm0 0zm2-8zm2 13zm1-12zm0-4zm1 12zm1 4zm0-5zm0-16zm5 15zm0-2zm4-1zm3 0zm3 3zm7 4zm3-5zm2-5zm1 3zm0 1zm2 3zm2-3zm2 4zm2-8zm4-11zm1 21zm1-1zm1-12zm5-4zm2 2zm2 16zm1-5zm2-10zm8-8zm3 7zm1 17zm1-3zm5-2zm2-17zm6 2zm1-3zm8 10zm5 7zm7-18zm2 14zm2-9zm5 13zm6 0zm1 4zm10-4zm3 3zm3-11zm0 1zm2-6zm12 6zm18 3zm4-7zm5 6zm2-11zm0-1zm8 0zm11 4zm5 15zm1 1zm5-2zm72 4zm31-7zm-702 25zm82 2zm36 5zm16-4zm1-19zm1 16zm1 0zm3 4zm0-6zm1-1zm11-4zm5-7zm13 5zm3 4zm9-5zm9 17zm2-17zm4 9zm3-5zm10-9zm4 16zm3-13zm5 3zm3 16zm0 1zm1-2zm5 1zm3-4zm2-5zm2-6zm5-2zm0 0zm1-3zm5 9zm4 11zm0-1zm1-11zm1-8zm3 21zm3-3zm1-1zm1 1zm1-21zm1 11zm6-11zm3 4zm4 17zm3-11zm5-3zm0 10zm6 5zm7-15zm1 9zm9-2zm1 6zm1-16zm1 4zm1 14zm2-19zm2 13zm3-10zm0 10zm0-5zm1-3zm2 13zm1 0zm1 2zm1-23zm2 16zm1 3zm0 1zm2-7zm4-8zm1 0zm0 14zm1-10zm1-6zm5 2zm2 18zm2-2zm1-21zm4 0zm4 5zm1 17zm3-13zm1 15zm0-11zm0-12zm1 12zm0-7zm0 7zm5-10zm1 15zm4-3zm11-2zm2-11zm2 19zm0-21zm3 5zm1 16zm2-8zm2-3zm2 5zm0 9zm3-10zm2-12zm1-1zm2 19zm2 3zm2-10zm7-11zm2-1zm0 13zm1 4zm1 0zm2 4zm4-14zm9 16zm0-6zm3-3zm2 3zm1-6zm3 4zm0-4zm5-2zm1 13zm0-20zm2 7zm1-1zm4 10zm1-6zm3-4zm2-7zm2-2zm1 20zm2-11zm3-4zm3-4zm1 4zm6 12zm2-7zm2 7zm4 4zm2-11zm3 14zm1-18zm2 12zm0 5zm1-8zm2-1zm1-1zm1 8zm3-10zm3 6zm4 3zm3-12zm3 1zm4 14zm0-17zm6 18zm1-7zm2-3zm2-10zm1 15zm0-18zm1-1zm5 12zm15 1zm5 7zm1 1zm27-21zm1 10zm15-6zm20 15zm23 5zm11-8zm60-5zm-790 38zm73-6zm72-1zm17-9zm37 12zm0-14zm5 13zm2-9zm2 9zm1-13zm3-6zm4 15zm3-1zm0-2zm2 11zm6-20zm1 18zm2-18zm3 15zm1-1zm0-8zm1-7zm8 10zm5-10zm3 9zm2-11zm5 11zm3-11zm3 13zm7 1zm6 2zm9-5zm1-3zm19 16zm2-12zm3 9zm2-12zm0 10zm2-5zm1-5zm0 15zm7-18zm0-4zm0 0zm2 21zm2-12zm9-6zm2 19zm3-8zm1 0zm3-9zm0-3zm1 0zm1-3zm1 21zm1-16zm1 11zm0 0zm2-2zm10-10zm1 0zm4 1zm0-5zm2 17zm0 3zm2-12zm2-6zm0 21zm1-7zm0-4zm3-6zm9-3zm1 14zm2 1zm1-2zm0-13zm1 12zm6 8zm1-20zm1-1zm1 16zm1-1zm2-18zm1 8zm1 11zm2-12zm2 14zm2-19zm1 21zm0-6zm5-3zm1-4zm2 5zm3-5zm5-9zm4-1zm0 15zm2-14zm5 7zm3 13zm1-21zm0 24zm3-2zm2-10zm0 10zm1-17zm1-5zm3 10zm0-1zm6 6zm1-10zm4 13zm1 4zm5-9zm3-2zm1-6zm0-4zm1 7zm1-3zm1 15zm0 2zm0-11zm0 2zm3 9zm4-15zm2 15zm2 0zm1-9zm2 7zm6 0zm2-15zm0-5zm2 21zm4-14zm1 8zm2-7zm0 16zm0-24zm6 19zm3-2zm1-13zm1 16zm5-18zm2 19zm2-5zm0-5zm0-1zm1 3zm1 7zm4-3zm3-5zm1 2zm0 9zm13-3zm4 1zm0-21zm2 15zm5 7zm3 1zm7-5zm4 3zm0-3zm8-11zm2 2zm6 2zm7-2zm2-7zm1 19zm3 1zm0-22zm5 22zm2-21zm13 4zm2-1zm2 15zm9-3zm1-16zm16 23zm4-11zm3-6zm20 13zm2-13zm0-4zm8 2zm7 13zm2 6zm35-22zm-674 27zm12 6zm10 6zm20-5zm2-5zm26 14zm6 1zm0-19zm9 0zm20 6zm12 8zm18-11zm4-4zm12 22zm8-8zm13-5zm4 4zm2 11zm5-1zm4-21zm7 8zm1-4zm1 0zm2 14zm17-2zm7-10zm0-4zm3-2zm2 22zm2-10zm3 5zm1-15zm6 3zm3 15zm3-21zm0 15zm1-11zm2 8zm1 3zm2 0zm2-3zm0-2zm4 12zm0-12zm1-10zm0 5zm3 11zm4-15zm1 9zm4-9zm0 9zm1-3zm1 2zm2 5zm0-6zm0 6zm0-9zm3-1zm1 17zm8-3zm1-18zm3 7zm2-8zm1 13zm4-13zm1 19zm2 2zm0-13zm2 14zm1-11zm3 12zm2-7zm5-8zm1-5zm5 12zm1-7zm0 9zm3-4zm1-11zm2 5zm0 0zm6 13zm4-20zm2 1zm2 21zm1 2zm1 0zm0-7zm1-5zm11-7zm2 5zm1-3zm4 10zm1-6zm4 10zm3-16zm2 13zm5 1zm0-2zm1-13zm1 12zm3-16zm2 13zm0-2zm2 1zm0-8zm3 8zm3 2zm1-5zm4 4zm2 0zm0-8zm0-5zm0 23zm2-22zm1 13zm3-14zm0 23zm4-11zm1-2zm1 0zm1 12zm3 1zm2-14zm1 11zm5-11zm3 5zm3 6zm1-6zm1-9zm1 13zm0-2zm3 8zm0 0zm2-12zm6 10zm1 1zm1-13zm3 11zm0-12zm0-3zm1-3zm4 4zm1 6zm2 4zm3-3zm3 3zm4-4zm4 10zm2 0zm1 0zm1-23zm1 13zm3-8zm5-2zm2 0zm2 20zm0-7zm2 8zm0-20zm3 11zm0-9zm1 13zm6-13zm13 1zm3-4zm3 2zm2 1zm3 13zm3-14zm2 17zm1-13zm1 12zm1-16zm2-2zm1 17zm2-4zm2-12zm0 10zm8 0zm3 2zm4-6zm2-10zm7 22zm1-9zm22-10zm0 17zm2-4zm3-7zm1-5zm0 10zm9-14zm11 3zm19 19zm13-13zm9-3zm21 12zm-709 19zm101 11zm15-15zm8-6zm6 6zm11 9zm16 1zm14-10zm6 0zm5 8zm6 0zm6-4zm0-8zm9 17zm3-14zm0 1zm10 14zm3-7zm4 2zm1-2zm4 7zm2-14zm5 14zm0-1zm2-14zm3-1zm2 14zm5-19zm2 17zm5-8zm2 11zm3-13zm12 2zm3 14zm10-17zm1 1zm1-5zm2 16zm10-14zm1 0zm7 15zm2 3zm1-11zm11-10zm4 9zm0-8zm0 1zm2-1zm0 7zm1-3zm3 17zm1-24zm1 3zm2 17zm4-11zm1 15zm1-13zm2 2zm2-9zm3-1zm1 2zm0 2zm1-6zm1 8zm2-5zm5 0zm4 0zm2 14zm7-9zm0-1zm1-3zm1 12zm3-12zm0 10zm3-4zm0 2zm10-11zm0 7zm0-3zm7 18zm2-17zm0-3zm0 2zm0 9zm3 7zm1-18zm2 12zm13 0zm1-6zm2 1zm0-7zm3 8zm2 1zm0 8zm1-20zm1 19zm2-13zm4 4zm1 8zm9-10zm5 8zm2-5zm1 6zm3-9zm1 10zm4 2zm1-11zm0 9zm1-6zm1-5zm4-3zm1-4zm1 23zm5-10zm1-5zm1-2zm3 17zm2-20zm1-3zm2 0zm0 19zm1-2zm12 4zm0 1zm1-22zm1-1zm2 13zm2 6zm0-6zm4 0zm4-7zm4 18zm2-3zm1-1zm1-19zm1 16zm7-7zm1-7zm0 5zm2 3zm1-7zm0-4zm1 12zm1-3zm0 1zm4-10zm3 16zm0-15zm1 8zm1-2zm0 5zm0-10zm3 1zm1 0zm1 10zm17 2zm3 2zm0 6zm6-7zm1-5zm8 13zm15 0zm3-18zm21 18zm5-23zm7 11zm17-3zm8 13zm4-18zm12 5zm2 14zm30-4zm-726 10zm79 12zm60-8zm20 16zm12-5zm9-18zm4 4zm6 3zm8-2zm26 15zm3 2zm7-10zm0 3zm6-2zm3 10zm1-24zm6 10zm1-8zm2 8zm3-8zm3 14zm7-7zm3 14zm7-6zm2 3zm1-3zm2-2zm9-15zm1 22zm0-1zm0 0zm5-13zm2-4zm0 2zm4 15zm9-4zm0 4zm0-4zm2 3zm2-15zm2-2zm1 13zm1 7zm0 1zm10-12zm1 0zm3-8zm0 12zm4-12zm8-2zm1-1zm1 3zm1-1zm2 11zm2 1zm0-14zm3 0zm1 10zm1 13zm0-20zm1 19zm1-15zm2-2zm1 12zm3-15zm2 14zm4 6zm1-12zm0-6zm2 4zm0 6zm0 9zm4-10zm1-4zm1-1zm5 14zm10-1zm5-21zm4 22zm0-11zm4-3zm2-3zm1-4zm0-2zm0 9zm2-3zm7 1zm3-1zm0 14zm0-12zm1-6zm1-1zm4 18zm1 3zm1 0zm1-9zm2-13zm3 8zm2-3zm2 3zm1-1zm2 15zm1-21zm0 16zm1-2zm0-1zm3-11zm1 7zm2 7zm0-1zm2-2zm3-13zm1 6zm0 7zm1 4zm1 4zm4-17zm1-3zm1 5zm1 3zm2 3zm1 4zm0-11zm3 2zm0 1zm0 7zm2-10zm5-1zm0 0zm1 14zm1-11zm1 3zm1-8zm1 19zm5-10zm2-8zm2 6zm3-6zm1 4zm1 12zm1-15zm0 11zm0-14zm11 19zm0-11zm3-6zm1 18zm3 2zm1-20zm4 2zm4-4zm0-1zm2 7zm5 2zm1 1zm7 1zm0 1zm1 1zm6-9zm3-5zm2 3zm4 9zm2 6zm1-11zm7-1zm1 3zm1 3zm4 5zm13-6zm13-9zm0 10zm3-3zm15 8zm0-10zm4-4zm11 4zm0 4zm2 13zm4-3zm6-1zm6-10zm5 11zm5 1zm8-7zm4-3zm1 1zm8 10zm33-22zm6 15zm8-7zm8 2zm15 11zm42-7zm-703 26zm58-10zm23 5zm6 0zm10-9zm6 15zm13 5zm6-2zm24-11zm5 1zm0-7zm0 7zm5 12zm3-18zm12 5zm8 15zm9-19zm2 9zm14 10zm0-1zm0-21zm1-2zm1 11zm12-11zm7 15zm4-6zm2 1zm6 1zm4 4zm4 7zm4-15zm4 5zm0-9zm0 5zm4 1zm1 5zm3-4zm2-2zm0 15zm1-13zm0-9zm10 14zm1-13zm1-2zm0 4zm3 2zm0 9zm4-2zm4-12zm6 15zm1-10zm1 18zm2-21zm2 6zm1-9zm1 4zm3 6zm0 7zm4 2zm2 0zm2-18zm1 0zm2 1zm3 7zm1 10zm0-7zm6-8zm3 12zm1-9zm1 3zm1 4zm1 9zm1-9zm1-4zm2 10zm1-2zm0-18zm7 8zm1 10zm1-5zm0-3zm1-4zm3 3zm2 1zm12-3zm0-2zm1-1zm5 9zm1 7zm3-9zm1-6zm0 18zm4-9zm0-8zm2 7zm4-1zm5 0zm1-2zm1 6zm2-8zm5 1zm4-2zm3-2zm8-4zm7 10zm5-10zm4 14zm0-8zm1 13zm1 1zm1-10zm6 11zm3-13zm2 0zm1 9zm2-9zm4-4zm2 6zm1 6zm1-8zm0 3zm1-9zm1 9zm1 1zm0 2zm2-15zm1 24zm4-20zm1 18zm1 1zm3-5zm0-16zm3 22zm2-8zm1-8zm0-7zm2 16zm9-14zm1 19zm0-11zm0-6zm1 9zm1-9zm0-4zm6 2zm0 14zm4-17zm1 3zm5 16zm8 5zm4-10zm2-9zm8 5zm4-2zm5-2zm2 16zm16-20zm9 16zm29-1zm11-8zm12-2zm5 9zm1-16zm21 4zm2-3zm18 22zm-651 7zm6-4zm70 8zm19 4zm3 9zm12-5zm0 2zm16-14zm3-4zm17 0zm19 5zm2-4zm6 7zm2 10zm11-19zm1 10zm11-4zm5-6zm2 13zm0-6zm1 7zm14 0zm0-6zm1-6zm2 1zm4 8zm9-6zm4 15zm1-14zm15-6zm4 15zm3-1zm7-2zm2-7zm2 0zm6 4zm1-1zm3 0zm10 8zm6 0zm3-9zm1 4zm0-6zm4 16zm2-18zm1 16zm0-9zm1 2zm2-10zm0 13zm0-6zm9-9zm0 12zm1-7zm2 18zm4-12zm4 2zm1-8zm1 14zm1-17zm1 3zm0 8zm1-11zm1 2zm0 13zm1-13zm1 8zm0-4zm2-2zm2-1zm4 3zm5 3zm0-9zm2 17zm1-16zm5-3zm1 18zm0-2zm5 6zm0-15zm2 1zm3-5zm0 21zm0-7zm4 2zm0 3zm4-17zm3 7zm1 7zm0-2zm5-4zm3-6zm4-3zm1 7zm1-4zm8 12zm2-19zm0 11zm3 7zm4-3zm4-6zm12 6zm5-2zm3 0zm1-7zm1 5zm3 0zm20 7zm11-10zm2 3zm15-1zm1 13zm1-21zm6 20zm1-2zm1 4zm8-8zm11 1zm14 2zm4-19zm13 14zm2-14zm14 6zm8 11zm31-15zm0 12zm26-11zm-633 22zm48 15zm24-3zm65-7zm7 17zm9-1zm18-12zm2-8zm3 8zm3-8zm2 15zm3 0zm7 0zm10-8zm6 4zm1 10zm2-20zm6 11zm4-8zm13 1zm7 11zm2 7zm0-5zm8-8zm9 6zm6-10zm1 5zm1-4zm12 14zm1-5zm6 4zm5-11zm5-2zm0 13zm1-9zm0 5zm5-2zm2-9zm1-1zm2-2zm1 8zm0 0zm5 1zm3-5zm10 8zm1-6zm2-2zm10 7zm1-7zm1 3zm2-9zm5 1zm1 13zm3 1zm14 4zm0-10zm2 4zm0 9zm0-12zm5 4zm1 4zm1-12zm2 3zm20-1zm1-3zm1 4zm3 10zm2-11zm0 2zm1 6zm3-13zm1-4zm3 13zm7-13zm2 0zm2 9zm4-5zm3 16zm3-18zm13 18zm1-18zm2 14zm11-15zm7 1zm1 2zm6 18zm5-17zm1 13zm6 3zm1-17zm2 13zm5-3zm11 7zm16-4zm26 1zm8-11zm53 7zm6 0zm8 1zm21-4zm24-4zm33 8zm-798 27zm172-10zm18 15zm15-10zm9 6zm18-7zm6-6zm12 18zm15-16zm6 15zm23-4zm2-15zm26 10zm23-4zm2-3zm11 7zm6-6zm2 13zm6-13zm1-4zm1 10zm16-13zm4 13zm14-13zm2 5zm14 15zm9-6zm2 2zm2-9zm10 10zm2-8zm1 11zm10-5zm0-13zm7 12zm2 10zm3-9zm0-2zm5 1zm5 9zm0-12zm4 9zm11-15zm1 13zm3-10zm1 5zm0-3zm0 9zm10 0zm3-1zm1-18zm12 15zm1-14zm0 7zm3-2zm2 2zm6 3zm1 12zm0-10zm2-4zm0 15zm0-12zm5 3zm16-9zm8 17zm9-15zm7-4zm5 10zm1 4zm24-15zm11 18zm16-11zm18-5zm2 2zm6 11zm8-3zm12-13zm5 20zm24-17zm-560 25zm11-5zm10 16zm38-7zm33 7zm15-14zm14 12zm23-2zm0-2zm4 7zm1 7zm13-23zm10 13zm9 0zm8 9zm13 0zm5-13zm12-2zm2 6zm2 6zm21-12zm0 8zm2-16zm9 18zm16-4zm2 9zm4-21zm1 0zm2 2zm2 18zm4-7zm2-1zm9 1zm9 2zm3 3zm7-17zm2 19zm20-9zm2-10zm13 10zm6-6zm1 2zm3 5zm1 10zm4-11zm0-2zm34-4zm2 8zm10-15zm11 21zm3-1zm5-12zm1 3zm3 5zm14-5zm2-2zm1 0zm33-6zm83-1zm-638 26zm69 2zm51 16zm64-21zm29 12zm18 9zm2 3zm15-24zm5 20zm2 3zm15-14zm1-4zm1-4zm3 17zm6-5zm0 8zm9-5zm4-2zm22-4zm28-10zm1 19zm7-17zm0 13zm10-7zm0 8zm2-15zm10 18zm2 0zm19-18zm2-1zm3 5zm23 2zm4 3zm7-6zm0 8zm1-12zm6 23zm2-11zm22-3zm16 9zm6-1zm46-15zm2 6zm17 11zm21-5zm6-12zm-445 47zm44-14zm78 12zm7 0zm10-20zm26 17zm3-15zm3 3zm45 7zm1 0zm25 2zm16-11zm11 6zm9 8zm1-18zm0 15zm0-13zm15-2zm13 11zm1-5zm35 4zm63 5zm13-9zm1-6zm82 4zm-599 31zm85-5zm24 15zm104-10zm1-11zm24 22zm27-15zm15-3zm16 18zm87-8zm29-14zm54 14zm26-11zm9 2zm31 1zm-441 29zm10-1zm46 0zm24 2zm8-1zm7 5zm45 6zm60-21zm1 10zm64-4zm20 11zm2-2zm7 2zm28 1zm49 6zm5-17zm-438 19zm64 1zm107 2zm29 5zm103 3z" stroke="#e8001e" stroke-width="8" stroke-linecap="round" fill="none" opacity="0.45"/>
<path transform="scale(.1)" d="M5444 2082zm-73 31zm46 11zm4-7zm29-5zm30 9zm-139 22zm40-10zm14 0zm9 7zm63-10zm67 11zm2 5zm43-7zm15 5zm43 3zm-409 22zm46 3zm76-15zm12-2zm16-4zm0 21zm6-22zm29 5zm12 7zm6 12zm27-1zm10-10zm22 0zm3 6zm3-17zm13 18zm5-2zm1 1zm2-17zm8 19zm8-4zm84 6zm-358 9zm1 2zm39 4zm4 11zm19-7zm13 5zm8-18zm3 13zm5 4zm17-14zm2 0zm2 17zm18-14zm1-9zm18 6zm0 9zm3 4zm10 1zm2 1zm4-22zm3 5zm1 3zm1 11zm2-1zm7 0zm1 6zm6-7zm2-5zm8-11zm13 18zm1 0zm13 0zm0-2zm10-4zm0 10zm9-22zm3 22zm31-2zm2-12zm3 0zm1 15zm2-14zm1-8zm0 14zm5 6zm3-1zm24-6zm1-1zm9-4zm10-9zm69 21zm-413 18zm6 3zm48 3zm9 1zm14 0zm14-15zm9 3zm2 12zm15-5zm3 6zm1-2zm2-8zm11 8zm3-20zm2 20zm0-6zm3-15zm0 7zm3 13zm2-3zm5 1zm3 1zm6-15zm3-3zm2 13zm2 5zm0-6zm2-9zm16 16zm3-1zm3-18zm11 12zm2 10zm1-7zm3 7zm6 0zm3-7zm2-12zm3 5zm4 14zm4-18zm0 11zm6-5zm0-10zm1 17zm2 4zm3-4zm2-9zm2 12zm2 2zm2-7zm2-8zm2-4zm1 4zm0 11zm4-9zm2 4zm0-1zm1 1zm0 1zm0 1zm6-4zm1 0zm0-2zm2 2zm0-5zm18-5zm12 17zm1-17zm3 15zm0-17zm4 1zm5 20zm3 0zm4 0zm1-11zm4 2zm17 10zm5-14zm2 6zm1-3zm7 12zm4-2zm80-9zm26 6zm-465 16zm32-1zm3 15zm6-3zm8-9zm1-11zm2 18zm1-16zm1 4zm3 13zm28-7zm4-1zm4-4zm5 4zm6 7zm1-11zm2 12zm0 4zm8-11zm1-9zm2 20zm5-3zm0-7zm0-1zm0-5zm7 5zm3 9zm0-12zm4 2zm3 2zm1-1zm2-12zm4 8zm0 13zm2-6zm5-13zm1 10zm2-7zm1-5zm0 17zm1 6zm3-6zm6 6zm3-12zm0 10zm1-13zm0 0zm2-8zm1 14zm0 7zm2-15zm9 12zm1-14zm4 2zm2 13zm2-2zm0-17zm1 15zm0-2zm2-10zm3 0zm3 19zm4-16zm2 7zm0 2zm1 5zm5-9zm1-9zm0 10zm5-6zm0 12zm1 3zm0-21zm3 2zm2 10zm0 5zm1-2zm0-10zm1 6zm6 1zm2-12zm2 8zm2 1zm1 15zm1-5zm1 2zm1-5zm1 0zm1-2zm2 6zm1-14zm0 18zm1-23zm1 18zm1-4zm0 1zm1-16zm4 5zm1-3zm1 4zm2 3zm1-4zm2 4zm1-5zm1 6zm2 4zm1 4zm4-17zm3 23zm2-24zm2 9zm1 14zm1-21zm2 8zm3 12zm0-8zm1 0zm1 8zm2-11zm2 13zm0-9zm1 6zm1-5zm2-3zm1 8zm5-9zm4 4zm6 2zm5-13zm7-1zm10 11zm1 7zm1-14zm1 9zm7-1zm12 1zm1-15zm5 13zm1 8zm27-3zm1-16zm22 19zm-472 18zm39 2zm37-15zm5 14zm14-2zm2 9zm4-5zm1-3zm0-1zm4-14zm5 19zm2-9zm1-2zm10-2zm0 17zm4-11zm3-3zm0 1zm1 5zm3 7zm4-18zm10-4zm2 7zm1-5zm1 14zm2-14zm0 5zm3 9zm2-3zm3 7zm1-9zm1 3zm1-9zm3-3zm0 8zm3-1zm0 4zm3-8zm3 17zm0-22zm0 0zm7 7zm2-1zm2 10zm0-14zm1 8zm0-11zm1 16zm1 6zm2-1zm1-5zm1-2zm1 5zm2 2zm3-19zm0 5zm4 2zm3 14zm0-6zm1 5zm0 0zm1 2zm1-2zm3-15zm2-5zm0-2zm2 1zm0 16zm0 5zm2 1zm0-21zm0 4zm0 13zm0-12zm3 12zm2-5zm1 1zm0-9zm1 3zm0 2zm2-4zm3 15zm1-8zm1 5zm9 5zm0-9zm0-11zm2-3zm1 18zm3 5zm1-5zm1 3zm0-21zm1 17zm4-18zm0 22zm1-22zm0 17zm1-7zm1-1zm1 7zm2-12zm1 8zm0 12zm1-10zm0 4zm1-2zm1-14zm0 8zm4 13zm0-7zm1 0zm3-12zm0 2zm1 9zm2 8zm0-4zm1-14zm0-4zm0 1zm1 5zm1-5zm0 18zm2-5zm1 1zm0 6zm0-1zm1-14zm1-4zm0 1zm2 7zm2-4zm1 8zm3 9zm4-4zm1 0zm0-4zm2 0zm0 3zm1-11zm4 8zm0-10zm0 9zm0 8zm0-13zm2 2zm0 6zm1-5zm1-4zm1 0zm1 10zm3-16zm1 8zm0 3zm0 3zm0-7zm1 4zm0-2zm2-2zm2-10zm1 18zm0 5zm1-19zm0 12zm1-3zm6-6zm0 9zm0-16zm3 10zm2 14zm1-23zm4 14zm0 6zm1 2zm0-10zm1-11zm1 7zm4 0zm2 3zm2 2zm0-14zm3 5zm4 19zm1-23zm2 11zm2 9zm3 3zm1-19zm0 2zm5 12zm0-12zm1 13zm2-5zm1-3zm0 9zm3-16zm7-2zm1-1zm5-1zm5 19zm0-1zm1-16zm6 13zm8-12zm4 20zm14 0zm2-20zm7 6zm-408 21zm27 0zm16 18zm28-16zm14-5zm1 10zm1-8zm7 10zm1-2zm3-9zm1-1zm5-3zm1 0zm1 18zm0 6zm0-13zm1 0zm0 0zm3 1zm1 9zm2-4zm1-5zm1 4zm8 1zm1-10zm0 10zm2 4zm2-19zm0 13zm1-1zm0-5zm3-7zm0 17zm1-5zm2 0zm6 0zm1 8zm2-10zm0-1zm3-6zm0 1zm4-2zm2 12zm1 6zm3-17zm0 11zm0 5zm3-21zm3 3zm1 2zm1-2zm1 8zm1 1zm1-8zm0 2zm0 9zm2-12zm1 2zm1 2zm0 1zm0 15zm1-10zm0-4zm6 4zm3 4zm1-9zm5 11zm1 0zm0-18zm1 7zm0 11zm1 3zm1-8zm1-8zm1-4zm0 4zm2-2zm1-3zm0 10zm0 1zm1 10zm0-17zm1 18zm1-19zm1 10zm1-8zm0 18zm0-20zm0 16zm1-5zm0 9zm2-8zm1-6zm0-9zm2 14zm0 7zm1-19zm1 10zm3-12zm0 6zm1-2zm0-4zm1 20zm3 1zm0-16zm0-5zm1 5zm2 17zm1-2zm1-6zm1-5zm1-1zm1 5zm0-5zm1 11zm3-20zm2 2zm1 3zm0 0zm1 18zm1-2zm0-8zm0-2zm3 6zm0-3zm0 7zm1-18zm1 20zm1-16zm2-4zm2-2zm0 15zm1-15zm1 17zm0 6zm2-5zm0 3zm1-16zm1 17zm2-3zm2-12zm2 13zm1-12zm0 5zm1 9zm0 0zm1-23zm0 4zm2 7zm1 2zm0 5zm0 5zm1 1zm1-17zm0 9zm3-14zm2 17zm0-16zm0 4zm0-2zm3 15zm2 3zm1-2zm0-7zm3 10zm2-18zm0-1zm2 12zm0-6zm1 11zm0-21zm2 7zm0 9zm3-17zm2 23zm1-17zm0 15zm0 0zm1-12zm4 3zm4-1zm3 8zm0-3zm2-6zm0 6zm1 5zm0-14zm1 6zm1-13zm0 22zm1-16zm0 4zm1 7zm2-6zm1 2zm0-3zm2 13zm0-16zm1 0zm1-2zm0 8zm1-2zm5-4zm0-7zm4 0zm1 6zm1 6zm1 4zm1-12zm1 20zm0-21zm1 0zm1 3zm2 5zm1 2zm0-12zm2 0zm0-1zm0 2zm4 17zm1 5zm2-11zm2 11zm1-5zm0-9zm3-7zm6 18zm1-19zm5 14zm1-4zm2-10zm5 20zm4 2zm3-10zm2-10zm5 11zm8 1zm5-10zm18-5zm2 17zm2-12zm6 6zm5-12zm48 18zm-486 16zm48 6zm0-13zm4-2zm7 1zm5 13zm2-8zm3 17zm10-17zm7 3zm8 8zm0-5zm1-6zm3 11zm3-10zm5 3zm4 0zm2 4zm4 9zm7 0zm0-11zm1 8zm3-10zm2-9zm0-1zm5 15zm0-6zm2 3zm6 8zm3-15zm0 2zm4 4zm3 11zm1-22zm0 22zm0-14zm2 12zm2-2zm0 6zm1-23zm2 18zm1 4zm0-12zm3-3zm4-4zm2 3zm0-6zm1 21zm0 0zm0-4zm5 6zm0-24zm1 18zm2-13zm1 3zm1 14zm1 0zm3-5zm2-13zm2 12zm1 2zm4-18zm0 7zm2 17zm4-6zm0-9zm2 1zm1 4zm0 1zm2 4zm2-16zm0 10zm1 9zm2-10zm0-3zm0-3zm1 11zm0 1zm2 1zm0-11zm1-5zm3 17zm1-7zm1-3zm0 2zm0 4zm1-13zm2-2zm1 22zm0-19zm0 2zm3 0zm0-2zm2-2zm0-1zm0 0zm1 21zm2-11zm1 0zm0-1zm0 13zm2 1zm1-17zm1 12zm0-13zm4-4zm1 2zm0 9zm3-11zm0 19zm1-13zm0 4zm1 10zm2-14zm0 1zm1 15zm1-5zm0 4zm2-22zm0 18zm0 1zm1-3zm0-5zm1 8zm0-5zm1 6zm1-16zm1 0zm0 17zm0-20zm2-2zm2 6zm0 11zm0-2zm1 6zm2 1zm3-7zm2-14zm1 8zm4 1zm1 5zm0-1zm0 2zm1-8zm1 10zm0 4zm0-7zm1 9zm1-2zm0-21zm1 5zm3 13zm0-11zm1 11zm1-7zm0-4zm4 3zm0-10zm0 10zm1-9zm1 22zm0-2zm0-22zm0 14zm1 4zm2 0zm1-14zm1 19zm1-6zm0-6zm2 9zm3-13zm1 10zm1-8zm2-4zm2 18zm3-16zm3 4zm0-5zm0 6zm0 11zm1-3zm0-14zm0 0zm1 11zm0 1zm1 1zm1 0zm0 1zm2-14zm0 14zm0 1zm1-10zm1 9zm0-16zm0 13zm0-3zm1 5zm2-7zm0 4zm1-14zm0 6zm4-3zm0 18zm6-10zm0 3zm4 5zm1 3zm1-18zm4 5zm1 12zm1-19zm0 6zm1 11zm1-19zm2 6zm2 4zm1-3zm10 10zm6-16zm1 5zm1-7zm12 20zm1-14zm2 2zm4 5zm5-6zm11 6zm11-12zm6 6zm16 10zm3-16zm5 7zm0-7zm32 5zm-448 37zm28-17zm6-1zm1 0zm20 6zm21 15zm6-15zm2 8zm5-13zm1 7zm1-4zm7 3zm7 3zm4-4zm0 12zm2 4zm0-8zm4-13zm1 12zm3 10zm1-16zm2 4zm0 2zm8-8zm6 16zm5-13zm1-8zm1 20zm0 1zm1-11zm1 5zm0-12zm1 19zm2-5zm1 1zm0-11zm2 15zm1-21zm6 16zm1-12zm1 8zm1-10zm0 2zm1 3zm1-2zm3 2zm0 3zm1-2zm2 10zm3-11zm0 5zm1 0zm1 2zm1-16zm4 16zm1-11zm0 9zm2-13zm0 17zm3-10zm5 16zm4-14zm0-2zm1 6zm4-6zm0-7zm0 8zm1-3zm1 1zm0-7zm1 18zm2 0zm1-8zm0 2zm1 2zm0 10zm1-10zm1 7zm0-20zm1 21zm0 0zm2-21zm0 15zm4-16zm3 20zm0-15zm1-5zm0 12zm1-3zm4 8zm1-16zm1 2zm2 8zm0-2zm1-7zm0 18zm2-11zm0 15zm3-7zm0-12zm1-3zm1 17zm1-5zm1-7zm2-6zm3 16zm0-3zm2-1zm1-11zm1 11zm1-5zm0 12zm2-6zm0 0zm0 6zm1-13zm3 8zm0-10zm8 12zm1-4zm1-2zm0-4zm2 15zm2-18zm0-3zm1 17zm2-10zm1-7zm1 18zm1-16zm1 1zm0 1zm2 14zm0 3zm1-18zm1 15zm1-9zm1-8zm0 15zm0-3zm1 10zm1-6zm1 4zm1-16zm0-2zm3 8zm1-10zm0 20zm5-17zm0-4zm2 15zm0-11zm10 9zm1 2zm1-1zm1 8zm1 1zm0-13zm5 10zm1 1zm1-16zm2 1zm1 15zm5-15zm1-2zm0 5zm1 7zm1-2zm1-8zm3 0zm2-4zm1 18zm4-18zm3 8zm1-2zm0 8zm1-9zm1 2zm1-5zm1 12zm2-14zm2 2zm0 6zm3-3zm5 2zm1-6zm0 19zm5 1zm1-19zm1 18zm1-17zm5 2zm2 12zm1 4zm2-1zm8-15zm4 4zm1 11zm1 1zm8-16zm5 13zm2-11zm36-1zm-400 28zm5 12zm2-15zm7 11zm3-9zm20 3zm0-8zm6 0zm2 11zm2-15zm8 16zm4-15zm10 7zm0 14zm3 0zm1-16zm1 1zm1 11zm1-8zm3 6zm3-5zm1-2zm3 7zm1-17zm3 7zm5-7zm2 10zm1 10zm4-2zm5-11zm7-3zm0 6zm2 2zm7 5zm1-2zm0-4zm1 9zm5 3zm3-23zm0 3zm5-1zm2 18zm3 0zm4-7zm3-12zm6 5zm2 7zm2 10zm4-12zm0 0zm0 12zm1-7zm2-15zm0 8zm2-6zm0 15zm1-15zm0 1zm3 9zm2 8zm3-10zm1-1zm0 6zm9 0zm3-10zm2 3zm1 3zm0-7zm0-2zm1 6zm1 11zm1-7zm2 4zm2 2zm6-9zm1-4zm4-3zm2 6zm3-7zm2 8zm3-4zm3 0zm0 2zm0 4zm1-11zm0 20zm0-18zm2-4zm0 21zm0 3zm1-13zm4-2zm1 13zm2-3zm2 3zm1-3zm2-8zm1-9zm4 4zm2 10zm0-5zm2 10zm0-3zm1-10zm0-5zm11-1zm1 22zm0-21zm1 12zm6 2zm3-13zm2 12zm4-8zm0 5zm1-8zm0 4zm3-5zm2 8zm1-12zm4 22zm3-21zm4 8zm8 12zm2-19zm6-1zm5 20zm21-1zm5-7zm12-1zm19-6zm20-3zm16 18zm35-11zm-460 18zm34 6zm1 13zm3-7zm15-5zm3 4zm4-4zm1-10zm3 15zm30-2zm1-3zm6-3zm12 15zm2-2zm2-9zm6 9zm4-6zm3-4zm15 12zm5-13zm2-9zm3 15zm0-2zm1-12zm3 22zm10-20zm1-1zm2 11zm2 5zm4-4zm2 6zm1-4zm1-3zm6-7zm4-2zm2 2zm1-4zm2 10zm3 2zm4-9zm0 1zm3 7zm1 5zm1-15zm1 17zm1-13zm2-4zm2 19zm4 1zm3-18zm0 11zm3-4zm0 0zm1-7zm10-2zm2-2zm1 19zm9-10zm1 0zm1-1zm1 3zm3 1zm8-9zm4 9zm1-3zm0 9zm1-14zm7 0zm2 16zm2-17zm3 2zm1 16zm1-3zm2-1zm11 3zm2-15zm12 17zm3-16zm1 15zm1-8zm3-10zm9-3zm18 0zm1 2zm2-3zm4 4zm7 11zm25-1zm2-7zm8-5zm5 15zm-425 17zm101 1zm7 12zm47-2zm14-7zm7-3zm1 5zm11-14zm10 6zm8-6zm4 2zm4 19zm9-3zm1 4zm2-14zm9 14zm0 0zm1-15zm6 3zm20-4zm17-2zm0 11zm2-12zm4 10zm6-12zm9 17zm2 0zm15 2zm2 0zm11 0zm2-18zm1-2zm3 20zm5-20zm27 12zm23-5zm23-3zm2 7zm1-11zm5-1zm37 10zm64 2zm-543 34zm97-17zm88-3zm39 11zm3-11zm12 11zm32 10zm0-13zm23-7zm5 0zm15 17zm46-16zm6 14zm22-12zm26 5zm-216 25zm59-5zm22 7zm8 7zm46-13zm3 0zm12 13zm39-17zm13 4zm-201 22zm45-3zm75 10z" stroke="#e8001e" stroke-width="8.4" stroke-linecap="round" fill="none" opacity="0.7"/>
<path transform="scale(.1)" d="M5175 1947zm-38 26zm101-3zm2-3zm-44 22zm9-4zm4 7zm49 3zm18-9zm7-7zm5 20zm1-21zm5 0zm5 19zm35-1zm-164 20zm11 8zm7-10zm10-5zm9 2zm8 5zm11 8zm4-15zm9 9zm5 3zm2-20zm18 11zm4-8zm3 17zm5-5zm3-5zm2 13zm4-3zm4-13zm11-4zm9 6zm15-3zm1-4zm10 20zm4-2zm24-6zm-194 26zm3-7zm0 14zm11-15zm5-6zm3 17zm12-14zm4 6zm2-10zm4 2zm1 8zm12 9zm4-12zm1-1zm0-7zm1 0zm1 23zm1-1zm1-7zm3 3zm1-12zm2 13zm1 3zm4-19zm0 20zm1-10zm1 9zm2-12zm0 6zm2-2zm1 1zm1 2zm5-6zm2 1zm3 10zm3-20zm0 14zm2-1zm0 0zm10-12zm9 16zm4 5zm2-18zm12 8zm3 2zm6-11zm14 18zm2-8zm9-4zm3 2zm-240 23zm45 8zm8 5zm18-20zm8-1zm4 20zm0-21zm7 21zm2-6zm2-11zm6-4zm2 12zm4-3zm1-1zm1 0zm5-1zm1-1zm0 4zm6-7zm4 6zm3 6zm2-2zm2-10zm1-4zm1 11zm0-1zm4 11zm0-16zm2 6zm1-5zm7 11zm0-7zm4 1zm4-12zm2 3zm3 11zm0-11zm2 10zm3 1zm3 5zm3-1zm6-12zm2 18zm0-17zm0 8zm2-3zm4-6zm0 16zm1-18zm2-1zm2 14zm0-2zm1 1zm8 3zm2 4zm3-10zm3 11zm1-5zm5-10zm3 11zm1-8zm6 7zm4-3zm4-9zm1-5zm2 8zm0-4zm12 15zm18-21zm18 16zm7 5zm27 3zm-265 7zm16 1zm9 7zm8-11zm2 12zm4-11zm8 12zm3 2zm6-5zm11 5zm0 4zm1-20zm1 16zm1-18zm7 13zm0-11zm3 19zm1-1zm1 3zm3-12zm3-5zm5 0zm1 7zm2 2zm2-2zm0-12zm0 12zm1-8zm1-1zm0 0zm2 5zm2-9zm0 24zm2-18zm2-5zm0 7zm3-5zm0 14zm1 5zm3-10zm1-8zm4-2zm3 20zm2-14zm6 8zm3 1zm1 1zm0 1zm4-17zm1 5zm1 4zm0 1zm1-2zm2 10zm0-4zm0 3zm1-1zm1-12zm2 13zm1 3zm5 1zm3-13zm3 11zm12-6zm0 3zm31-15zm2 1zm12 18zm14-13zm6-6zm3 0zm38 5zm60 8zm32-10zm-456 24zm80 16zm40-19zm7 8zm3-9zm4 5zm2-6zm5 8zm10-7zm5 3zm1 9zm0-1zm0-6zm1-1zm5 5zm5 6zm4-3zm1-2zm1 1zm3-7zm0 0zm2 11zm1 6zm0-2zm1-3zm1 2zm2 5zm0-6zm3-9zm2 2zm4-11zm0 17zm1-5zm1 9zm1-17zm3 9zm2-11zm2 0zm3 4zm0 18zm1-2zm6-17zm1 5zm4 4zm0 1zm0-10zm3 11zm3-11zm2 16zm3-16zm1 9zm0 1zm3 4zm0-11zm1 12zm0-12zm0 14zm5-11zm4 3zm2 7zm1-3zm2 0zm8-16zm4 5zm0 15zm4-2zm6-6zm1-9zm3 5zm7 3zm3 10zm3-1zm4-4zm9-4zm2 9zm4-5zm4-13zm5 15zm8-17zm2 21zm10-14zm3 8zm8-1zm14-14zm5 15zm5 3zm-274 17zm23-12zm15 14zm3-14zm4 9zm9 13zm2-23zm9 11zm7-4zm3 15zm0 0zm4-14zm6 3zm2 8zm0-14zm2-4zm3 1zm7 11zm3-12zm1 8zm2 9zm3-17zm3 6zm10 7zm1 4zm2-9zm0-9zm4 16zm1-13zm1 14zm2-13zm6 17zm3-12zm4 12zm2 0zm1-8zm1-3zm1 2zm0 0zm2 4zm1 3zm1-16zm0 0zm12 5zm2-1zm4 16zm4-12zm0-10zm4 14zm7 2zm0 3zm3-15zm1 3zm2-2zm1-6zm2 17zm2-17zm1 23zm1-13zm6 4zm2-5zm5-1zm0-4zm3 20zm3-17zm1 13zm0-5zm0-1zm0 8zm2-18zm6 8zm4-3zm11-5zm4 2zm9-2zm0 14zm6-9zm7 1zm4-4zm5-2zm4 14zm9 6zm1-11zm6-4zm-262 29zm21-12zm6 13zm2-11zm7 3zm9 8zm7-13zm1 23zm9-23zm2 20zm5-18zm1 1zm1 14zm4 0zm1-17zm3 18zm7-7zm5-10zm4-2zm9 12zm3 6zm1-10zm4 12zm0-19zm2 12zm7-13zm1 10zm0-1zm3-1zm0 4zm1 2zm0-6zm3 15zm0-16zm4 12zm6 1zm2 4zm2-6zm1 3zm0-13zm6-8zm2 18zm2-18zm0 10zm3-7zm5 8zm1-8zm1 14zm1-6zm0 11zm1-8zm8 0zm3-2zm5 2zm26 3zm2-17zm3 4zm10 2zm2-2zm3 2zm4 15zm3-21zm4 24zm9-24zm28 6zm45 2zm-323 28zm2 6zm10-11zm4-1zm8 7zm0 0zm10 3zm15-8zm3-7zm7 3zm7 2zm3-4zm13 19zm1-3zm1-1zm6-10zm0-2zm2 10zm5 8zm2-5zm5-9zm1 9zm0 2zm0 4zm1-1zm1-10zm0 10zm0-7zm6-14zm7 22zm6-5zm1-8zm3-9zm4 21zm9-14zm1 15zm1-3zm4 0zm1-20zm6 7zm0 11zm4-14zm3 15zm0 4zm2-23zm4 14zm2-2zm0-10zm1 3zm1 7zm5 1zm3 5zm3 5zm2-7zm1-16zm3 11zm10 11zm4-22zm1 0zm0 0zm2 6zm5 10zm1 3zm3-14zm20 0zm6 13zm16-3zm4 8zm33-22zm11 0zm-299 25zm33 14zm10 3zm2-6zm5 4zm7-8zm5-4zm1 20zm9-18zm13 6zm3-8zm3 19zm7-7zm7 8zm10-9zm0-2zm2-1zm1-10zm7 19zm0-20zm1 12zm14-6zm0-4zm1 5zm0-4zm5-3zm0 5zm3 8zm0-11zm4 12zm5-4zm4-9zm1 9zm8 11zm2-13zm12 11zm3-8zm2-4zm1 1zm1 2zm7 6zm2 0zm31 1zm1 6zm6-12zm14-10zm12 10zm54-9zm-267 45zm16-22zm6 17zm8-1zm9-9zm10 10zm16 2zm0-14zm2 12zm4-3zm1 6zm8-8zm4-5zm4 3zm9-10zm1 14zm1-1zm10-9zm15-1zm3-1zm0 8zm11-2zm23 9zm32-1zm9-2zm12-12zm23 4zm-211 19zm12 5zm14 11zm3-7zm44 3zm4 3zm0-9zm1 3zm3 5zm2-9zm4 10zm17-16zm5 24zm2-18zm0 10zm4-5zm6-5zm1-2zm12 3zm1 11zm10-18zm41 17zm-239 29zm68-2zm42-5zm0 3zm32-12zm11-4zm11 5zm17 17zm16-7zm-63 29z" stroke="#e8001e" stroke-width="8.4" stroke-linecap="round" fill="none" opacity="0.55"/>
<path transform="scale(.1)" d="M5174 2023zm88-3zm288 4zm-291 17zm1 3zm6-8zm6 8zm7-8zm4 11zm1-6zm2-3zm11 8zm2-3zm2 5zm0-13zm4 3zm2-13zm4 16zm7 1zm6-11zm1 6zm8 7zm0 2zm5-18zm3 16zm0-1zm3 4zm0-14zm15 13zm23-1zm9-7zm0 11zm2-6zm135-8zm4 6zm2 1zm5-8zm10 7zm5-2zm19-2zm-302 25zm9-9zm19 4zm2 3zm7 3zm13-13zm2 10zm1 1zm4-4zm2-1zm1-3zm2-2zm4 5zm3 4zm0-7zm2 18zm1-14zm2-7zm2 2zm0 9zm1-8zm0 5zm1-8zm0 24zm3-15zm2 2zm0-2zm4-9zm0 19zm1-19zm0 11zm0-8zm6 17zm0-17zm3 9zm0-10zm0 8zm1-6zm3 6zm3 5zm3 7zm2-16zm2-1zm0 8zm1 6zm3-10zm3 2zm1-8zm1-3zm2 3zm2 15zm0-1zm1 1zm0 2zm2-18zm1 5zm0 14zm3-6zm5-11zm3 20zm1-21zm1 4zm7-3zm0 6zm1-8zm1 9zm0 7zm0 2zm9 2zm0-12zm10 13zm5 0zm8-15zm72-2zm14-6zm4 2zm7 1zm9 4zm8-4zm99 17zm5-15zm6 17zm23-7zm2 9zm-359 6zm36-5zm13 2zm3-2zm1 1zm1 1zm7-2zm3 1zm19-1zm4 7zm23-5zm12 17zm12-15zm6-3zm14 8zm160 10zm5-13zm1 2zm7 15zm2-20zm1 0zm0 18zm1-18zm0 15zm4 3zm0-21zm9 10zm2 8zm1-5zm7 3zm2 1zm6-10zm-38 38zm8 1zm1-14zm1-5zm2 9zm1 8zm0 3zm0-10zm0 0zm0 5zm1 5zm2-19zm0 15zm1-10zm7-1zm6 17zm1-19zm2 6zm-32 37zm5-15zm9-6zm0 19zm0-10zm1 8zm1-14zm0-3zm3 18zm2-11zm0 2zm3 9zm0-8zm4 3zm1-12zm2 2zm2 11zm1-4zm12-3zm-31 16zm6 12zm1-12zm7 21zm1-1zm4-5zm0-11zm4 15zm1-13zm7 6zm-20 17z" stroke="#e87420" stroke-width="10" stroke-linecap="round" fill="none" opacity="0.8"/>
<path transform="scale(.1)" d="M4934 2145zm-57 16zm18-5zm7 15zm25 3zm-56 24zm7-11zm3 0zm3 8zm0 0zm4-5zm13 6zm7 2zm2 1zm1-1zm21-3zm1-9zm-55 20zm3 14zm6 1zm2-10zm4 3zm0-10zm11 5zm1-3zm0 1zm1-4zm1 4zm9-2zm-73 35zm38-11zm5 3zm20-6zm7 5zm1-6zm5 1zm2-1zm53 5zm1 5zm-65 19z" stroke="#1414d8" stroke-width="8" stroke-linecap="round" fill="none" opacity="0.6"/>
<path transform="scale(.1)" d="M5101 1722zm4-2zm2 0zm4-1zm0 2zm3 0zm12-12zm-31 23zm3 7zm16-9zm1-2zm0 6zm0-8zm1 7z" stroke="#18d0dc" stroke-width="9" stroke-linecap="round" fill="none" opacity="0.8"/>
<path transform="scale(.1)" d="M5220 1716zm15 7zm5-9zm-27 32zm11-20zm1 3zm5 3zm1 3zm3-7zm0 0zm2 4zm1 13zm7-9zm3-10z" stroke="#1c7ce0" stroke-width="9" stroke-linecap="round" fill="none" opacity="0.8"/>
<text x="244.3" y="255.5" font-size="9.15" fill="#222" transform="rotate(-90 244.3 255.5)"><tspan font-style="italic">t</tspan>-SNE 2</text>
<line x1="240.6" y1="220.5" x2="240.60" y2="202.42" stroke="#111" stroke-width="0.9"/>
<polygon points="240.60,198.50 242.84,203.82 240.60,202.42 238.36,203.82" fill="#111"/>
<text x="246" y="263.8" font-size="9.15" fill="#222"><tspan font-style="italic">t</tspan>-SNE 1</text>
<line x1="280.5" y1="261.2" x2="297.58" y2="261.20" stroke="#111" stroke-width="0.9"/>
<polygon points="301.50,261.20 296.18,263.44 297.58,261.20 296.18,258.96" fill="#111"/>
<circle cx="595.8" cy="146.20" r="1.7" fill="#e8001e"/>
<text x="599.8" y="149.1" font-size="8.6" fill="#222">Excitatory upper</text>
<circle cx="595.8" cy="155.78" r="1.7" fill="#e02a12"/>
<text x="599.8" y="158.68" font-size="8.6" fill="#222">Excitatory middle</text>
<circle cx="595.8" cy="165.36" r="1.7" fill="#e87420"/>
<text x="599.8" y="168.26" font-size="8.6" fill="#222">Excitatory lower</text>
<circle cx="595.8" cy="174.94" r="1.7" fill="#1010d0"/>
<text x="599.8" y="177.84" font-size="8.6" fill="#222">Inhibitory SST</text>
<circle cx="595.8" cy="184.52" r="1.7" fill="#3060e0"/>
<text x="599.8" y="187.42" font-size="8.6" fill="#222">Inhibitory VIP</text>
<circle cx="595.8" cy="194.10" r="1.7" fill="#1878e0"/>
<text x="599.8" y="197.0" font-size="8.6" fill="#222">Inhibitory LAMP5</text>
<circle cx="595.8" cy="203.68" r="1.7" fill="#58c0d0"/>
<text x="599.8" y="206.58" font-size="8.6" fill="#222">Inhibitory PVALB</text>
<circle cx="595.8" cy="213.26" r="1.7" fill="#10d0d8"/>
<text x="599.8" y="216.16" font-size="8.6" fill="#222">Inhibitory unclassified</text>
<circle cx="595.8" cy="222.84" r="1.7" fill="#e0a810"/>
<text x="599.8" y="225.74" font-size="8.6" fill="#222">Astrocyte</text>
<circle cx="595.8" cy="232.42" r="1.7" fill="#a020e0"/>
<text x="599.8" y="235.32" font-size="8.6" fill="#222">Oligodendrocyte/OPC</text>
<circle cx="595.8" cy="242.00" r="1.7" fill="#107020"/>
<text x="599.8" y="244.9" font-size="8.6" fill="#222">Microglia</text>
<circle cx="595.8" cy="251.58" r="1.7" fill="#b0b0b0"/>
<text x="599.8" y="254.48" font-size="8.6" fill="#222">Unannotated</text>
<circle cx="290.6" cy="319.1" r="41.5" fill="#fdf07a"/>
<path d="M290.6,319.1 L290.60,277.60 A41.5,41.5 0 0 1 331.94,315.48 Z" fill="#fb001c"/>
<path d="M290.6,319.1 L331.94,315.48 A41.5,41.5 0 0 1 318.80,349.55 Z" fill="#0b6fd3"/>
<text x="308.8" y="306.8" font-size="9.15" text-anchor="middle" fill="#fff" style="stroke:#fff">23.6%</text>
<text x="315.8" y="329.3" font-size="9.15" text-anchor="middle" fill="#fff" style="stroke:#fff">14.5%</text>
<text x="270.8" y="323" font-size="9.15" text-anchor="middle" fill="#222">61.9%</text>
<text x="270.8" y="332.5" font-size="9.15" text-anchor="middle" fill="#222">Glia</text>
<text x="320.5" y="277" font-size="9.15" fill="#222">Excitatory</text>
<text x="320.5" y="286.2" font-size="9.15" fill="#222">neurons</text>
<line x1="318.8" y1="283.3" x2="307.5" y2="296.3" stroke="#1a1a1a" stroke-width="0.85"/>
<text x="347.5" y="355" font-size="9.15" text-anchor="middle" fill="#222">Inhibitory</text>
<text x="347.8" y="364.2" font-size="9.15" text-anchor="middle" fill="#222">neurons</text>
<line x1="316.3" y1="335.8" x2="330.8" y2="346.3" stroke="#1a1a1a" stroke-width="0.85"/>
<circle cx="403.9" cy="319.1" r="41.5" fill="#0b6fd3"/>
<path d="M403.9,319.1 L403.90,277.60 A41.5,41.5 0 1 1 398.99,360.31 Z" fill="#fb001c"/>
<path d="M403.9,319.1 L389.84,280.05 A41.5,41.5 0 0 1 403.90,277.60 Z" fill="#fdf07a"/>
<line x1="377" y1="335.8" x2="362" y2="346.3" stroke="#1a1a1a" stroke-width="0.85"/>
<text x="381.5" y="323" font-size="9.15" text-anchor="middle" fill="#fff" style="stroke:#fff">42.5%</text>
<text x="424.3" y="319.6" font-size="9.15" text-anchor="middle" fill="#fff" style="stroke:#fff">51.9%</text>
<text x="398.3" y="265" font-size="9.15" text-anchor="middle" fill="#222">Glia</text>
<text x="398.3" y="274.5" font-size="9.15" text-anchor="middle" fill="#222">5.5%</text>
<text x="442" y="355" font-size="9.15" fill="#222">Excitatory</text>
<text x="442" y="364.2" font-size="9.15" fill="#222">neurons</text>
<line x1="423.7" y1="323.7" x2="439.8" y2="349.4" stroke="#1a1a1a" stroke-width="0.85"/>
<circle cx="520.4" cy="319.6" r="41.6" fill="#fb001c"/>
<path d="M520.1,316.6 L518.1999999999999,278.1 L520.3,278.0 Z" fill="#4a6fc0"/>
<text x="492" y="268.8" font-size="9.15" text-anchor="middle" fill="#222">Glia</text>
<text x="492" y="278.3" font-size="9.15" text-anchor="middle" fill="#222">0.0%</text>
<text x="545.5" y="273.3" font-size="9.15" fill="#222">Inhibitory neurons</text>
<text x="545.5" y="282.2" font-size="9.15" fill="#222">0.7%</text>
<line x1="543" y1="271.5" x2="520.5" y2="280.5" stroke="#1a1a1a" stroke-width="0.85"/>
<text x="519.3" y="330.5" font-size="9.15" text-anchor="middle" fill="#fff" style="stroke:#fff">Excitatory</text>
<text x="519.3" y="339.4" font-size="9.15" text-anchor="middle" fill="#fff" style="stroke:#fff">neurons</text>
<text x="519.3" y="348.3" font-size="9.15" text-anchor="middle" fill="#fff" style="stroke:#fff">99.3%</text>
</g>
<g id="panel-dg">
<text x="10" y="382" font-size="10.5" font-weight="bold" fill="#000" style="stroke:#000">d</text>
<path d="M54.5,391.2 V513 H163" fill="none" stroke="#4d4d4d" stroke-width="1"/>
<line x1="51.7" y1="511.25" x2="54.5" y2="511.25" stroke="#4d4d4d" stroke-width="1"/>
<text x="48.8" y="514.05" font-size="7.8" text-anchor="end" fill="#222">0</text>
<line x1="51.7" y1="488.25" x2="54.5" y2="488.25" stroke="#4d4d4d" stroke-width="1"/>
<text x="48.8" y="491.05" font-size="7.8" text-anchor="end" fill="#222">1,000</text>
<line x1="51.7" y1="465.25" x2="54.5" y2="465.25" stroke="#4d4d4d" stroke-width="1"/>
<text x="48.8" y="468.05" font-size="7.8" text-anchor="end" fill="#222">2,000</text>
<line x1="51.7" y1="442.25" x2="54.5" y2="442.25" stroke="#4d4d4d" stroke-width="1"/>
<text x="48.8" y="445.05" font-size="7.8" text-anchor="end" fill="#222">3,000</text>
<line x1="51.7" y1="419.25" x2="54.5" y2="419.25" stroke="#4d4d4d" stroke-width="1"/>
<text x="48.8" y="422.05" font-size="7.8" text-anchor="end" fill="#222">4,000</text>
<line x1="51.7" y1="396.25" x2="54.5" y2="396.25" stroke="#4d4d4d" stroke-width="1"/>
<text x="48.8" y="399.05" font-size="7.8" text-anchor="end" fill="#222">5,000</text>
<line x1="55.50" y1="513" x2="55.50" y2="515.8" stroke="#4d4d4d" stroke-width="1"/>
<text x="55.5" y="523.8" font-size="7.8" text-anchor="middle" fill="#222">0</text>
<line x1="74.75" y1="513" x2="74.75" y2="515.8" stroke="#4d4d4d" stroke-width="1"/>
<text x="74.75" y="523.8" font-size="7.8" text-anchor="middle" fill="#222">20</text>
<line x1="94.00" y1="513" x2="94.00" y2="515.8" stroke="#4d4d4d" stroke-width="1"/>
<text x="94.0" y="523.8" font-size="7.8" text-anchor="middle" fill="#222">40</text>
<line x1="113.25" y1="513" x2="113.25" y2="515.8" stroke="#4d4d4d" stroke-width="1"/>
<text x="113.25" y="523.8" font-size="7.8" text-anchor="middle" fill="#222">60</text>
<line x1="132.50" y1="513" x2="132.50" y2="515.8" stroke="#4d4d4d" stroke-width="1"/>
<text x="132.5" y="523.8" font-size="7.8" text-anchor="middle" fill="#222">80</text>
<line x1="151.75" y1="513" x2="151.75" y2="515.8" stroke="#4d4d4d" stroke-width="1"/>
<text x="151.75" y="523.8" font-size="7.8" text-anchor="middle" fill="#222">100</text>
<text x="108.3" y="537" font-size="8.6" text-anchor="middle" fill="#222">Age (years)</text>
<text x="18.5" y="452" font-size="9.2" text-anchor="middle" transform="rotate(-90 18.5 452)" fill="#222">sSNVs per neuron in PFC</text>
<line x1="55.5" y1="505.5" x2="156.3" y2="457" stroke="#6ea2ff" stroke-width="1"/>
<circle cx="55.9" cy="509.9" r="2.25" fill="#2e76ee" stroke="#081445" stroke-width="0.85"/><circle cx="55.9" cy="508.5" r="2.25" fill="#2e76ee" stroke="#081445" stroke-width="0.85"/><circle cx="55.9" cy="506.6" r="2.25" fill="#2e76ee" stroke="#081445" stroke-width="0.85"/><circle cx="55.9" cy="510.6" r="2.25" fill="#2e76ee" stroke="#081445" stroke-width="0.85"/><circle cx="69.9" cy="504.8" r="2.25" fill="#2e76ee" stroke="#081445" stroke-width="0.85"/><circle cx="69.9" cy="501.6" r="2.25" fill="#2e76ee" stroke="#081445" stroke-width="0.85"/><circle cx="69.9" cy="498.4" r="2.25" fill="#2e76ee" stroke="#081445" stroke-width="0.85"/><circle cx="69.9" cy="495.1" r="2.25" fill="#2e76ee" stroke="#081445" stroke-width="0.85"/><circle cx="69.9" cy="503.2" r="2.25" fill="#2e76ee" stroke="#081445" stroke-width="0.85"/><circle cx="71.9" cy="507.8" r="2.25" fill="#2e76ee" stroke="#081445" stroke-width="0.85"/><circle cx="71.9" cy="504.4" r="2.25" fill="#2e76ee" stroke="#081445" stroke-width="0.85"/><circle cx="71.9" cy="500.2" r="2.25" fill="#2e76ee" stroke="#081445" stroke-width="0.85"/><circle cx="71.9" cy="497.0" r="2.25" fill="#2e76ee" stroke="#081445" stroke-width="0.85"/><circle cx="71.9" cy="492.9" r="2.25" fill="#2e76ee" stroke="#081445" stroke-width="0.85"/><circle cx="71.9" cy="502.1" r="2.25" fill="#2e76ee" stroke="#081445" stroke-width="0.85"/><circle cx="73.8" cy="476.8" r="2.25" fill="#2e76ee" stroke="#081445" stroke-width="0.85"/><circle cx="73.8" cy="484.8" r="2.25" fill="#2e76ee" stroke="#081445" stroke-width="0.85"/><circle cx="73.8" cy="492.9" r="2.25" fill="#2e76ee" stroke="#081445" stroke-width="0.85"/><circle cx="73.8" cy="495.1" r="2.25" fill="#2e76ee" stroke="#081445" stroke-width="0.85"/><circle cx="73.8" cy="500.9" r="2.25" fill="#2e76ee" stroke="#081445" stroke-width="0.85"/><circle cx="73.8" cy="505.5" r="2.25" fill="#2e76ee" stroke="#081445" stroke-width="0.85"/><circle cx="73.8" cy="498.4" r="2.25" fill="#2e76ee" stroke="#081445" stroke-width="0.85"/><circle cx="95.9" cy="479.5" r="2.25" fill="#2e76ee" stroke="#081445" stroke-width="0.85"/><circle cx="95.9" cy="488.2" r="2.25" fill="#2e76ee" stroke="#081445" stroke-width="0.85"/><circle cx="95.9" cy="491.7" r="2.25" fill="#2e76ee" stroke="#081445" stroke-width="0.85"/><circle cx="95.9" cy="494.0" r="2.25" fill="#2e76ee" stroke="#081445" stroke-width="0.85"/><circle cx="95.9" cy="497.4" r="2.25" fill="#2e76ee" stroke="#081445" stroke-width="0.85"/><circle cx="95.9" cy="507.3" r="2.25" fill="#2e76ee" stroke="#081445" stroke-width="0.85"/><circle cx="97.8" cy="482.5" r="2.25" fill="#2e76ee" stroke="#081445" stroke-width="0.85"/><circle cx="97.8" cy="485.9" r="2.25" fill="#2e76ee" stroke="#081445" stroke-width="0.85"/><circle cx="97.8" cy="488.7" r="2.25" fill="#2e76ee" stroke="#081445" stroke-width="0.85"/><circle cx="102.7" cy="481.4" r="2.25" fill="#2e76ee" stroke="#081445" stroke-width="0.85"/><circle cx="102.7" cy="483.6" r="2.25" fill="#2e76ee" stroke="#081445" stroke-width="0.85"/><circle cx="102.7" cy="489.4" r="2.25" fill="#2e76ee" stroke="#081445" stroke-width="0.85"/><circle cx="110.4" cy="479.1" r="2.25" fill="#2e76ee" stroke="#081445" stroke-width="0.85"/><circle cx="110.4" cy="481.4" r="2.25" fill="#2e76ee" stroke="#081445" stroke-width="0.85"/><circle cx="110.4" cy="483.6" r="2.25" fill="#2e76ee" stroke="#081445" stroke-width="0.85"/><circle cx="110.4" cy="485.9" r="2.25" fill="#2e76ee" stroke="#081445" stroke-width="0.85"/><circle cx="121.9" cy="468.2" r="2.25" fill="#2e76ee" stroke="#081445" stroke-width="0.85"/><circle cx="121.9" cy="475.6" r="2.25" fill="#2e76ee" stroke="#081445" stroke-width="0.85"/><circle cx="121.9" cy="477.9" r="2.25" fill="#2e76ee" stroke="#081445" stroke-width="0.85"/><circle cx="121.9" cy="480.2" r="2.25" fill="#2e76ee" stroke="#081445" stroke-width="0.85"/><circle cx="127.7" cy="448.7" r="2.25" fill="#2e76ee" stroke="#081445" stroke-width="0.85"/><circle cx="127.7" cy="473.3" r="2.25" fill="#2e76ee" stroke="#081445" stroke-width="0.85"/><circle cx="127.7" cy="474.9" r="2.25" fill="#2e76ee" stroke="#081445" stroke-width="0.85"/><circle cx="129.6" cy="437.6" r="2.25" fill="#2e76ee" stroke="#081445" stroke-width="0.85"/><circle cx="129.6" cy="460.6" r="2.25" fill="#2e76ee" stroke="#081445" stroke-width="0.85"/><circle cx="129.6" cy="474.4" r="2.25" fill="#2e76ee" stroke="#081445" stroke-width="0.85"/><circle cx="129.6" cy="476.8" r="2.25" fill="#2e76ee" stroke="#081445" stroke-width="0.85"/><circle cx="131.5" cy="460.6" r="2.25" fill="#2e76ee" stroke="#081445" stroke-width="0.85"/><circle cx="131.5" cy="467.6" r="2.25" fill="#2e76ee" stroke="#081445" stroke-width="0.85"/><circle cx="131.5" cy="469.9" r="2.25" fill="#2e76ee" stroke="#081445" stroke-width="0.85"/><circle cx="131.5" cy="472.1" r="2.25" fill="#2e76ee" stroke="#081445" stroke-width="0.85"/><circle cx="131.5" cy="474.4" r="2.25" fill="#2e76ee" stroke="#081445" stroke-width="0.85"/><circle cx="131.5" cy="476.8" r="2.25" fill="#2e76ee" stroke="#081445" stroke-width="0.85"/><circle cx="131.5" cy="479.1" r="2.25" fill="#2e76ee" stroke="#081445" stroke-width="0.85"/><circle cx="132.5" cy="454.9" r="2.25" fill="#2e76ee" stroke="#081445" stroke-width="0.85"/><circle cx="132.5" cy="458.4" r="2.25" fill="#2e76ee" stroke="#081445" stroke-width="0.85"/><circle cx="132.5" cy="465.2" r="2.25" fill="#2e76ee" stroke="#081445" stroke-width="0.85"/><circle cx="132.5" cy="469.9" r="2.25" fill="#2e76ee" stroke="#081445" stroke-width="0.85"/><circle cx="132.5" cy="479.1" r="2.25" fill="#2e76ee" stroke="#081445" stroke-width="0.85"/><circle cx="132.5" cy="462.9" r="2.25" fill="#2e76ee" stroke="#081445" stroke-width="0.85"/><circle cx="134.4" cy="456.1" r="2.25" fill="#2e76ee" stroke="#081445" stroke-width="0.85"/><circle cx="134.4" cy="459.5" r="2.25" fill="#2e76ee" stroke="#081445" stroke-width="0.85"/><circle cx="134.4" cy="462.9" r="2.25" fill="#2e76ee" stroke="#081445" stroke-width="0.85"/><circle cx="134.4" cy="466.4" r="2.25" fill="#2e76ee" stroke="#081445" stroke-width="0.85"/><circle cx="134.4" cy="471.0" r="2.25" fill="#2e76ee" stroke="#081445" stroke-width="0.85"/><circle cx="134.4" cy="473.3" r="2.25" fill="#2e76ee" stroke="#081445" stroke-width="0.85"/><circle cx="134.4" cy="480.2" r="2.25" fill="#2e76ee" stroke="#081445" stroke-width="0.85"/><circle cx="134.4" cy="481.8" r="2.25" fill="#2e76ee" stroke="#081445" stroke-width="0.85"/><circle cx="134.4" cy="476.8" r="2.25" fill="#2e76ee" stroke="#081445" stroke-width="0.85"/><circle cx="155.6" cy="462.3" r="2.25" fill="#2e76ee" stroke="#081445" stroke-width="0.85"/><circle cx="155.6" cy="467.6" r="2.25" fill="#2e76ee" stroke="#081445" stroke-width="0.85"/><circle cx="155.6" cy="471.7" r="2.25" fill="#2e76ee" stroke="#081445" stroke-width="0.85"/><circle cx="155.6" cy="475.6" r="2.25" fill="#2e76ee" stroke="#081445" stroke-width="0.85"/><circle cx="98.8" cy="395.6" r="2.25" fill="#2e76ee" stroke="#081445" stroke-width="0.85"/>
<text x="190" y="382" font-size="10.5" font-weight="bold" fill="#000" style="stroke:#000">e</text>
<path d="M233,391.2 V513 H340.5" fill="none" stroke="#4d4d4d" stroke-width="1"/>
<line x1="230.2" y1="511.25" x2="233" y2="511.25" stroke="#4d4d4d" stroke-width="1"/>
<text x="227.5" y="514.05" font-size="7.8" text-anchor="end" fill="#222">0</text>
<line x1="230.2" y1="488.25" x2="233" y2="488.25" stroke="#4d4d4d" stroke-width="1"/>
<text x="227.5" y="491.05" font-size="7.8" text-anchor="end" fill="#222">1,000</text>
<line x1="230.2" y1="465.25" x2="233" y2="465.25" stroke="#4d4d4d" stroke-width="1"/>
<text x="227.5" y="468.05" font-size="7.8" text-anchor="end" fill="#222">2,000</text>
<line x1="230.2" y1="442.25" x2="233" y2="442.25" stroke="#4d4d4d" stroke-width="1"/>
<text x="227.5" y="445.05" font-size="7.8" text-anchor="end" fill="#222">3,000</text>
<line x1="230.2" y1="419.25" x2="233" y2="419.25" stroke="#4d4d4d" stroke-width="1"/>
<text x="227.5" y="422.05" font-size="7.8" text-anchor="end" fill="#222">4,000</text>
<line x1="230.2" y1="396.25" x2="233" y2="396.25" stroke="#4d4d4d" stroke-width="1"/>
<text x="227.5" y="399.05" font-size="7.8" text-anchor="end" fill="#222">5,000</text>
<line x1="233.75" y1="513" x2="233.75" y2="515.8" stroke="#4d4d4d" stroke-width="1"/>
<text x="233.75" y="523.8" font-size="7.8" text-anchor="middle" fill="#222">0</text>
<line x1="253.10" y1="513" x2="253.10" y2="515.8" stroke="#4d4d4d" stroke-width="1"/>
<text x="253.1" y="523.8" font-size="7.8" text-anchor="middle" fill="#222">20</text>
<line x1="272.45" y1="513" x2="272.45" y2="515.8" stroke="#4d4d4d" stroke-width="1"/>
<text x="272.45" y="523.8" font-size="7.8" text-anchor="middle" fill="#222">40</text>
<line x1="291.80" y1="513" x2="291.80" y2="515.8" stroke="#4d4d4d" stroke-width="1"/>
<text x="291.8" y="523.8" font-size="7.8" text-anchor="middle" fill="#222">60</text>
<line x1="311.15" y1="513" x2="311.15" y2="515.8" stroke="#4d4d4d" stroke-width="1"/>
<text x="311.15" y="523.8" font-size="7.8" text-anchor="middle" fill="#222">80</text>
<line x1="330.50" y1="513" x2="330.50" y2="515.8" stroke="#4d4d4d" stroke-width="1"/>
<text x="330.5" y="523.8" font-size="7.8" text-anchor="middle" fill="#222">100</text>
<text x="287" y="537" font-size="8.6" text-anchor="middle" fill="#222">Age (years)</text>
<text x="198" y="452" font-size="9.2" text-anchor="middle" transform="rotate(-90 198 452)" fill="#222">sSNVs per neuron in HC CA1</text>
<line x1="277.5" y1="487" x2="335" y2="455" stroke="#5fbaf5" stroke-width="1"/>
<path d="M277.3,478.1L280.5,483.9H274.0Z" fill="#2fa5ea" stroke="#08202e" stroke-width="0.85" stroke-linejoin="round"/><path d="M277.3,480.4L280.5,486.2H274.0Z" fill="#2fa5ea" stroke="#08202e" stroke-width="0.85" stroke-linejoin="round"/><path d="M277.3,489.1L280.5,494.9H274.0Z" fill="#2fa5ea" stroke="#08202e" stroke-width="0.85" stroke-linejoin="round"/><path d="M277.3,489.6L280.5,495.4H274.0Z" fill="#2fa5ea" stroke="#08202e" stroke-width="0.85" stroke-linejoin="round"/><path d="M288.9,485.0L292.1,490.8H285.6Z" fill="#2fa5ea" stroke="#08202e" stroke-width="0.85" stroke-linejoin="round"/><path d="M288.9,493.1L292.1,498.8H285.6Z" fill="#2fa5ea" stroke="#08202e" stroke-width="0.85" stroke-linejoin="round"/><path d="M288.9,501.6L292.1,507.3H285.6Z" fill="#2fa5ea" stroke="#08202e" stroke-width="0.85" stroke-linejoin="round"/><path d="M300.5,466.6L303.8,472.4H297.3Z" fill="#2fa5ea" stroke="#08202e" stroke-width="0.85" stroke-linejoin="round"/><path d="M300.5,468.9L303.8,474.7H297.3Z" fill="#2fa5ea" stroke="#08202e" stroke-width="0.85" stroke-linejoin="round"/><path d="M300.5,472.4L303.8,478.1H297.3Z" fill="#2fa5ea" stroke="#08202e" stroke-width="0.85" stroke-linejoin="round"/><path d="M306.3,463.1L309.6,468.9H303.1Z" fill="#2fa5ea" stroke="#08202e" stroke-width="0.85" stroke-linejoin="round"/><path d="M306.3,470.1L309.6,475.8H303.1Z" fill="#2fa5ea" stroke="#08202e" stroke-width="0.85" stroke-linejoin="round"/><path d="M306.3,471.2L309.6,477.0H303.1Z" fill="#2fa5ea" stroke="#08202e" stroke-width="0.85" stroke-linejoin="round"/><path d="M306.3,478.6L309.6,484.3H303.1Z" fill="#2fa5ea" stroke="#08202e" stroke-width="0.85" stroke-linejoin="round"/><path d="M313.1,401.1L316.3,406.8H309.8Z" fill="#2fa5ea" stroke="#08202e" stroke-width="0.85" stroke-linejoin="round"/><path d="M313.1,402.2L316.3,408.0H309.8Z" fill="#2fa5ea" stroke="#08202e" stroke-width="0.85" stroke-linejoin="round"/><path d="M313.1,432.1L316.3,437.9H309.8Z" fill="#2fa5ea" stroke="#08202e" stroke-width="0.85" stroke-linejoin="round"/><path d="M313.1,439.0L316.3,444.8H309.8Z" fill="#2fa5ea" stroke="#08202e" stroke-width="0.85" stroke-linejoin="round"/><path d="M313.1,440.1L316.3,445.9H309.8Z" fill="#2fa5ea" stroke="#08202e" stroke-width="0.85" stroke-linejoin="round"/><path d="M313.1,445.9L316.3,451.7H309.8Z" fill="#2fa5ea" stroke="#08202e" stroke-width="0.85" stroke-linejoin="round"/><path d="M313.1,458.6L316.3,464.3H309.8Z" fill="#2fa5ea" stroke="#08202e" stroke-width="0.85" stroke-linejoin="round"/><path d="M313.1,463.1L316.3,468.9H309.8Z" fill="#2fa5ea" stroke="#08202e" stroke-width="0.85" stroke-linejoin="round"/><path d="M313.1,472.4L316.3,478.1H309.8Z" fill="#2fa5ea" stroke="#08202e" stroke-width="0.85" stroke-linejoin="round"/><path d="M313.1,484.5L316.3,490.3H309.8Z" fill="#2fa5ea" stroke="#08202e" stroke-width="0.85" stroke-linejoin="round"/><path d="M334.4,457.9L337.6,463.6H331.1Z" fill="#2fa5ea" stroke="#08202e" stroke-width="0.85" stroke-linejoin="round"/><path d="M334.4,467.8L337.6,473.5H331.1Z" fill="#2fa5ea" stroke="#08202e" stroke-width="0.85" stroke-linejoin="round"/><path d="M334.4,475.3L337.6,481.1H331.1Z" fill="#2fa5ea" stroke="#08202e" stroke-width="0.85" stroke-linejoin="round"/><path d="M334.4,485.0L337.6,490.8H331.1Z" fill="#2fa5ea" stroke="#08202e" stroke-width="0.85" stroke-linejoin="round"/>
<text x="366.8" y="381.3" font-size="10.5" font-weight="bold" fill="#000" style="stroke:#000">f</text>
<path d="M411.8,391.2 V513 H519.5" fill="none" stroke="#4d4d4d" stroke-width="1"/>
<line x1="409.0" y1="511.25" x2="411.8" y2="511.25" stroke="#4d4d4d" stroke-width="1"/>
<text x="406.3" y="514.05" font-size="7.8" text-anchor="end" fill="#222">0</text>
<line x1="409.0" y1="488.25" x2="411.8" y2="488.25" stroke="#4d4d4d" stroke-width="1"/>
<text x="406.3" y="491.05" font-size="7.8" text-anchor="end" fill="#222">1,000</text>
<line x1="409.0" y1="465.25" x2="411.8" y2="465.25" stroke="#4d4d4d" stroke-width="1"/>
<text x="406.3" y="468.05" font-size="7.8" text-anchor="end" fill="#222">2,000</text>
<line x1="409.0" y1="442.25" x2="411.8" y2="442.25" stroke="#4d4d4d" stroke-width="1"/>
<text x="406.3" y="445.05" font-size="7.8" text-anchor="end" fill="#222">3,000</text>
<line x1="409.0" y1="419.25" x2="411.8" y2="419.25" stroke="#4d4d4d" stroke-width="1"/>
<text x="406.3" y="422.05" font-size="7.8" text-anchor="end" fill="#222">4,000</text>
<line x1="409.0" y1="396.25" x2="411.8" y2="396.25" stroke="#4d4d4d" stroke-width="1"/>
<text x="406.3" y="399.05" font-size="7.8" text-anchor="end" fill="#222">5,000</text>
<line x1="413.00" y1="513" x2="413.00" y2="515.8" stroke="#4d4d4d" stroke-width="1"/>
<text x="413.0" y="523.8" font-size="7.8" text-anchor="middle" fill="#222">0</text>
<line x1="432.30" y1="513" x2="432.30" y2="515.8" stroke="#4d4d4d" stroke-width="1"/>
<text x="432.3" y="523.8" font-size="7.8" text-anchor="middle" fill="#222">20</text>
<line x1="451.60" y1="513" x2="451.60" y2="515.8" stroke="#4d4d4d" stroke-width="1"/>
<text x="451.6" y="523.8" font-size="7.8" text-anchor="middle" fill="#222">40</text>
<line x1="470.90" y1="513" x2="470.90" y2="515.8" stroke="#4d4d4d" stroke-width="1"/>
<text x="470.9" y="523.8" font-size="7.8" text-anchor="middle" fill="#222">60</text>
<line x1="490.20" y1="513" x2="490.20" y2="515.8" stroke="#4d4d4d" stroke-width="1"/>
<text x="490.2" y="523.8" font-size="7.8" text-anchor="middle" fill="#222">80</text>
<line x1="509.50" y1="513" x2="509.50" y2="515.8" stroke="#4d4d4d" stroke-width="1"/>
<text x="509.5" y="523.8" font-size="7.8" text-anchor="middle" fill="#222">100</text>
<text x="466.8" y="537" font-size="8.6" text-anchor="middle" fill="#222">Age (years)</text>
<text x="378" y="452" font-size="9.05" text-anchor="middle" transform="rotate(-90 378 452)" fill="#222">sSNVs per neuron in PFC and HC</text>
<line x1="413" y1="505.5" x2="514" y2="456.5" stroke="#6ea2ff" stroke-width="1"/>
<line x1="413" y1="505.8" x2="514" y2="454.5" stroke="#7fc2fa" stroke-width="1"/>
<path d="M456.4,478.1L459.7,483.9H453.2Z" fill="#2fa5ea" stroke="#08202e" stroke-width="0.85" stroke-linejoin="round"/><path d="M456.4,480.4L459.7,486.2H453.2Z" fill="#2fa5ea" stroke="#08202e" stroke-width="0.85" stroke-linejoin="round"/><path d="M456.4,489.1L459.7,494.9H453.2Z" fill="#2fa5ea" stroke="#08202e" stroke-width="0.85" stroke-linejoin="round"/><path d="M456.4,489.6L459.7,495.4H453.2Z" fill="#2fa5ea" stroke="#08202e" stroke-width="0.85" stroke-linejoin="round"/><path d="M468.0,485.0L471.3,490.8H464.8Z" fill="#2fa5ea" stroke="#08202e" stroke-width="0.85" stroke-linejoin="round"/><path d="M468.0,493.1L471.3,498.8H464.8Z" fill="#2fa5ea" stroke="#08202e" stroke-width="0.85" stroke-linejoin="round"/><path d="M468.0,501.6L471.3,507.3H464.8Z" fill="#2fa5ea" stroke="#08202e" stroke-width="0.85" stroke-linejoin="round"/><path d="M479.6,466.6L482.8,472.4H476.3Z" fill="#2fa5ea" stroke="#08202e" stroke-width="0.85" stroke-linejoin="round"/><path d="M479.6,468.9L482.8,474.7H476.3Z" fill="#2fa5ea" stroke="#08202e" stroke-width="0.85" stroke-linejoin="round"/><path d="M479.6,472.4L482.8,478.1H476.3Z" fill="#2fa5ea" stroke="#08202e" stroke-width="0.85" stroke-linejoin="round"/><path d="M485.4,463.1L488.6,468.9H482.1Z" fill="#2fa5ea" stroke="#08202e" stroke-width="0.85" stroke-linejoin="round"/><path d="M485.4,470.1L488.6,475.8H482.1Z" fill="#2fa5ea" stroke="#08202e" stroke-width="0.85" stroke-linejoin="round"/><path d="M485.4,471.2L488.6,477.0H482.1Z" fill="#2fa5ea" stroke="#08202e" stroke-width="0.85" stroke-linejoin="round"/><path d="M485.4,478.6L488.6,484.3H482.1Z" fill="#2fa5ea" stroke="#08202e" stroke-width="0.85" stroke-linejoin="round"/><circle cx="413.4" cy="509.9" r="2.25" fill="#2e76ee" stroke="#081445" stroke-width="0.85"/><circle cx="413.4" cy="508.5" r="2.25" fill="#2e76ee" stroke="#081445" stroke-width="0.85"/><circle cx="413.4" cy="506.6" r="2.25" fill="#2e76ee" stroke="#081445" stroke-width="0.85"/><circle cx="413.4" cy="510.6" r="2.25" fill="#2e76ee" stroke="#081445" stroke-width="0.85"/><circle cx="427.5" cy="504.8" r="2.25" fill="#2e76ee" stroke="#081445" stroke-width="0.85"/><circle cx="427.5" cy="501.6" r="2.25" fill="#2e76ee" stroke="#081445" stroke-width="0.85"/><circle cx="427.5" cy="498.4" r="2.25" fill="#2e76ee" stroke="#081445" stroke-width="0.85"/><circle cx="427.5" cy="495.1" r="2.25" fill="#2e76ee" stroke="#081445" stroke-width="0.85"/><circle cx="427.5" cy="503.2" r="2.25" fill="#2e76ee" stroke="#081445" stroke-width="0.85"/><circle cx="429.4" cy="507.8" r="2.25" fill="#2e76ee" stroke="#081445" stroke-width="0.85"/><circle cx="429.4" cy="504.4" r="2.25" fill="#2e76ee" stroke="#081445" stroke-width="0.85"/><circle cx="429.4" cy="500.2" r="2.25" fill="#2e76ee" stroke="#081445" stroke-width="0.85"/><circle cx="429.4" cy="497.0" r="2.25" fill="#2e76ee" stroke="#081445" stroke-width="0.85"/><circle cx="429.4" cy="492.9" r="2.25" fill="#2e76ee" stroke="#081445" stroke-width="0.85"/><circle cx="429.4" cy="502.1" r="2.25" fill="#2e76ee" stroke="#081445" stroke-width="0.85"/><circle cx="431.3" cy="476.8" r="2.25" fill="#2e76ee" stroke="#081445" stroke-width="0.85"/><circle cx="431.3" cy="484.8" r="2.25" fill="#2e76ee" stroke="#081445" stroke-width="0.85"/><circle cx="431.3" cy="492.9" r="2.25" fill="#2e76ee" stroke="#081445" stroke-width="0.85"/><circle cx="431.3" cy="495.1" r="2.25" fill="#2e76ee" stroke="#081445" stroke-width="0.85"/><circle cx="431.3" cy="500.9" r="2.25" fill="#2e76ee" stroke="#081445" stroke-width="0.85"/><circle cx="431.3" cy="505.5" r="2.25" fill="#2e76ee" stroke="#081445" stroke-width="0.85"/><circle cx="431.3" cy="498.4" r="2.25" fill="#2e76ee" stroke="#081445" stroke-width="0.85"/><circle cx="453.5" cy="479.5" r="2.25" fill="#2e76ee" stroke="#081445" stroke-width="0.85"/><circle cx="453.5" cy="488.2" r="2.25" fill="#2e76ee" stroke="#081445" stroke-width="0.85"/><circle cx="453.5" cy="491.7" r="2.25" fill="#2e76ee" stroke="#081445" stroke-width="0.85"/><circle cx="453.5" cy="494.0" r="2.25" fill="#2e76ee" stroke="#081445" stroke-width="0.85"/><circle cx="453.5" cy="497.4" r="2.25" fill="#2e76ee" stroke="#081445" stroke-width="0.85"/><circle cx="453.5" cy="507.3" r="2.25" fill="#2e76ee" stroke="#081445" stroke-width="0.85"/><circle cx="455.5" cy="482.5" r="2.25" fill="#2e76ee" stroke="#081445" stroke-width="0.85"/><circle cx="455.5" cy="485.9" r="2.25" fill="#2e76ee" stroke="#081445" stroke-width="0.85"/><circle cx="455.5" cy="488.7" r="2.25" fill="#2e76ee" stroke="#081445" stroke-width="0.85"/><circle cx="460.3" cy="481.4" r="2.25" fill="#2e76ee" stroke="#081445" stroke-width="0.85"/><circle cx="460.3" cy="483.6" r="2.25" fill="#2e76ee" stroke="#081445" stroke-width="0.85"/><circle cx="460.3" cy="489.4" r="2.25" fill="#2e76ee" stroke="#081445" stroke-width="0.85"/><circle cx="468.0" cy="479.1" r="2.25" fill="#2e76ee" stroke="#081445" stroke-width="0.85"/><circle cx="468.0" cy="481.4" r="2.25" fill="#2e76ee" stroke="#081445" stroke-width="0.85"/><circle cx="468.0" cy="483.6" r="2.25" fill="#2e76ee" stroke="#081445" stroke-width="0.85"/><circle cx="468.0" cy="485.9" r="2.25" fill="#2e76ee" stroke="#081445" stroke-width="0.85"/><circle cx="479.6" cy="468.2" r="2.25" fill="#2e76ee" stroke="#081445" stroke-width="0.85"/><circle cx="479.6" cy="475.6" r="2.25" fill="#2e76ee" stroke="#081445" stroke-width="0.85"/><circle cx="479.6" cy="477.9" r="2.25" fill="#2e76ee" stroke="#081445" stroke-width="0.85"/><circle cx="479.6" cy="480.2" r="2.25" fill="#2e76ee" stroke="#081445" stroke-width="0.85"/><circle cx="485.4" cy="448.7" r="2.25" fill="#2e76ee" stroke="#081445" stroke-width="0.85"/><circle cx="485.4" cy="473.3" r="2.25" fill="#2e76ee" stroke="#081445" stroke-width="0.85"/><circle cx="485.4" cy="474.9" r="2.25" fill="#2e76ee" stroke="#081445" stroke-width="0.85"/><circle cx="487.3" cy="437.6" r="2.25" fill="#2e76ee" stroke="#081445" stroke-width="0.85"/><circle cx="487.3" cy="460.6" r="2.25" fill="#2e76ee" stroke="#081445" stroke-width="0.85"/><circle cx="487.3" cy="474.4" r="2.25" fill="#2e76ee" stroke="#081445" stroke-width="0.85"/><circle cx="487.3" cy="476.8" r="2.25" fill="#2e76ee" stroke="#081445" stroke-width="0.85"/><circle cx="489.2" cy="460.6" r="2.25" fill="#2e76ee" stroke="#081445" stroke-width="0.85"/><circle cx="489.2" cy="467.6" r="2.25" fill="#2e76ee" stroke="#081445" stroke-width="0.85"/><circle cx="489.2" cy="469.9" r="2.25" fill="#2e76ee" stroke="#081445" stroke-width="0.85"/><circle cx="489.2" cy="472.1" r="2.25" fill="#2e76ee" stroke="#081445" stroke-width="0.85"/><circle cx="489.2" cy="474.4" r="2.25" fill="#2e76ee" stroke="#081445" stroke-width="0.85"/><circle cx="489.2" cy="476.8" r="2.25" fill="#2e76ee" stroke="#081445" stroke-width="0.85"/><circle cx="489.2" cy="479.1" r="2.25" fill="#2e76ee" stroke="#081445" stroke-width="0.85"/><circle cx="490.2" cy="454.9" r="2.25" fill="#2e76ee" stroke="#081445" stroke-width="0.85"/><circle cx="490.2" cy="458.4" r="2.25" fill="#2e76ee" stroke="#081445" stroke-width="0.85"/><circle cx="490.2" cy="465.2" r="2.25" fill="#2e76ee" stroke="#081445" stroke-width="0.85"/><circle cx="490.2" cy="469.9" r="2.25" fill="#2e76ee" stroke="#081445" stroke-width="0.85"/><circle cx="490.2" cy="479.1" r="2.25" fill="#2e76ee" stroke="#081445" stroke-width="0.85"/><circle cx="490.2" cy="462.9" r="2.25" fill="#2e76ee" stroke="#081445" stroke-width="0.85"/><circle cx="456.4" cy="395.6" r="2.25" fill="#2e76ee" stroke="#081445" stroke-width="0.85"/><circle cx="492.1" cy="456.1" r="2.25" fill="#2e76ee" stroke="#081445" stroke-width="0.85"/><circle cx="492.1" cy="459.5" r="2.25" fill="#2e76ee" stroke="#081445" stroke-width="0.85"/><circle cx="492.1" cy="462.9" r="2.25" fill="#2e76ee" stroke="#081445" stroke-width="0.85"/><circle cx="492.1" cy="466.4" r="2.25" fill="#2e76ee" stroke="#081445" stroke-width="0.85"/><circle cx="492.1" cy="471.0" r="2.25" fill="#2e76ee" stroke="#081445" stroke-width="0.85"/><circle cx="492.1" cy="473.3" r="2.25" fill="#2e76ee" stroke="#081445" stroke-width="0.85"/><circle cx="492.1" cy="480.2" r="2.25" fill="#2e76ee" stroke="#081445" stroke-width="0.85"/><circle cx="492.1" cy="481.8" r="2.25" fill="#2e76ee" stroke="#081445" stroke-width="0.85"/><circle cx="492.1" cy="476.8" r="2.25" fill="#2e76ee" stroke="#081445" stroke-width="0.85"/><circle cx="513.4" cy="462.3" r="2.25" fill="#2e76ee" stroke="#081445" stroke-width="0.85"/><circle cx="513.4" cy="467.6" r="2.25" fill="#2e76ee" stroke="#081445" stroke-width="0.85"/><circle cx="513.4" cy="471.7" r="2.25" fill="#2e76ee" stroke="#081445" stroke-width="0.85"/><circle cx="513.4" cy="475.6" r="2.25" fill="#2e76ee" stroke="#081445" stroke-width="0.85"/><path d="M492.1,401.1L495.4,406.8H488.9Z" fill="#2fa5ea" stroke="#08202e" stroke-width="0.85" stroke-linejoin="round"/><path d="M492.1,402.2L495.4,408.0H488.9Z" fill="#2fa5ea" stroke="#08202e" stroke-width="0.85" stroke-linejoin="round"/><path d="M492.1,432.1L495.4,437.9H488.9Z" fill="#2fa5ea" stroke="#08202e" stroke-width="0.85" stroke-linejoin="round"/><path d="M492.1,439.0L495.4,444.8H488.9Z" fill="#2fa5ea" stroke="#08202e" stroke-width="0.85" stroke-linejoin="round"/><path d="M492.1,440.1L495.4,445.9H488.9Z" fill="#2fa5ea" stroke="#08202e" stroke-width="0.85" stroke-linejoin="round"/><path d="M492.1,445.9L495.4,451.7H488.9Z" fill="#2fa5ea" stroke="#08202e" stroke-width="0.85" stroke-linejoin="round"/><path d="M492.1,458.6L495.4,464.3H488.9Z" fill="#2fa5ea" stroke="#08202e" stroke-width="0.85" stroke-linejoin="round"/><path d="M492.1,463.1L495.4,468.9H488.9Z" fill="#2fa5ea" stroke="#08202e" stroke-width="0.85" stroke-linejoin="round"/><path d="M492.1,472.4L495.4,478.1H488.9Z" fill="#2fa5ea" stroke="#08202e" stroke-width="0.85" stroke-linejoin="round"/><path d="M492.1,484.5L495.4,490.3H488.9Z" fill="#2fa5ea" stroke="#08202e" stroke-width="0.85" stroke-linejoin="round"/><path d="M513.4,457.9L516.6,463.6H510.1Z" fill="#2fa5ea" stroke="#08202e" stroke-width="0.85" stroke-linejoin="round"/><path d="M513.4,467.8L516.6,473.5H510.1Z" fill="#2fa5ea" stroke="#08202e" stroke-width="0.85" stroke-linejoin="round"/><path d="M513.4,475.3L516.6,481.1H510.1Z" fill="#2fa5ea" stroke="#08202e" stroke-width="0.85" stroke-linejoin="round"/><path d="M513.4,485.0L516.6,490.8H510.1Z" fill="#2fa5ea" stroke="#08202e" stroke-width="0.85" stroke-linejoin="round"/>
<text x="536" y="381.3" font-size="10.5" font-weight="bold" fill="#000" style="stroke:#000">g</text>
<path d="M587.5,390.8 V513 H682.5" fill="none" stroke="#4d4d4d" stroke-width="1"/>
<line x1="584.7" y1="511.50" x2="587.5" y2="511.50" stroke="#4d4d4d" stroke-width="1"/>
<text x="583" y="514.3" font-size="7.8" text-anchor="end" fill="#222">0</text>
<line x1="584.7" y1="491.50" x2="587.5" y2="491.50" stroke="#4d4d4d" stroke-width="1"/>
<text x="583" y="494.3" font-size="7.8" text-anchor="end" fill="#222">500</text>
<line x1="584.7" y1="471.50" x2="587.5" y2="471.50" stroke="#4d4d4d" stroke-width="1"/>
<text x="583" y="474.3" font-size="7.8" text-anchor="end" fill="#222">1,000</text>
<line x1="584.7" y1="451.50" x2="587.5" y2="451.50" stroke="#4d4d4d" stroke-width="1"/>
<text x="583" y="454.3" font-size="7.8" text-anchor="end" fill="#222">1,500</text>
<line x1="584.7" y1="431.50" x2="587.5" y2="431.50" stroke="#4d4d4d" stroke-width="1"/>
<text x="583" y="434.3" font-size="7.8" text-anchor="end" fill="#222">2,000</text>
<line x1="584.7" y1="411.50" x2="587.5" y2="411.50" stroke="#4d4d4d" stroke-width="1"/>
<text x="583" y="414.3" font-size="7.8" text-anchor="end" fill="#222">2,500</text>
<line x1="584.7" y1="391.50" x2="587.5" y2="391.50" stroke="#4d4d4d" stroke-width="1"/>
<text x="583" y="394.3" font-size="7.8" text-anchor="end" fill="#222">3,000</text>
<line x1="589.25" y1="513" x2="589.25" y2="515.8" stroke="#4d4d4d" stroke-width="1"/>
<text x="589.25" y="523.8" font-size="7.8" text-anchor="middle" fill="#222">0</text>
<line x1="606.15" y1="513" x2="606.15" y2="515.8" stroke="#4d4d4d" stroke-width="1"/>
<text x="606.15" y="523.8" font-size="7.8" text-anchor="middle" fill="#222">20</text>
<line x1="623.05" y1="513" x2="623.05" y2="515.8" stroke="#4d4d4d" stroke-width="1"/>
<text x="623.05" y="523.8" font-size="7.8" text-anchor="middle" fill="#222">40</text>
<line x1="639.95" y1="513" x2="639.95" y2="515.8" stroke="#4d4d4d" stroke-width="1"/>
<text x="639.95" y="523.8" font-size="7.8" text-anchor="middle" fill="#222">60</text>
<line x1="656.85" y1="513" x2="656.85" y2="515.8" stroke="#4d4d4d" stroke-width="1"/>
<text x="656.85" y="523.8" font-size="7.8" text-anchor="middle" fill="#222">80</text>
<line x1="673.75" y1="513" x2="673.75" y2="515.8" stroke="#4d4d4d" stroke-width="1"/>
<text x="673.75" y="523.8" font-size="7.8" text-anchor="middle" fill="#222">100</text>
<text x="633.8" y="537" font-size="8.6" text-anchor="middle" fill="#222">Age (years)</text>
<text x="543.0" y="452" font-size="9.0" text-anchor="middle" transform="rotate(-90 543.0 452)" fill="#222">Signature A</text>
<text x="554.2" y="452" font-size="9.0" text-anchor="middle" transform="rotate(-90 554.2 452)" fill="#222">sSNVs per neuron</text>
<line x1="589.3" y1="506.3" x2="675" y2="446.3" stroke="#6ea2ff" stroke-width="1"/>
<path d="M627.3,458.2L630.5,464.0H624.0Z" fill="#2fa5ea" stroke="#08202e" stroke-width="0.85" stroke-linejoin="round"/><path d="M627.3,475.4L630.5,481.2H624.0Z" fill="#2fa5ea" stroke="#08202e" stroke-width="0.85" stroke-linejoin="round"/><path d="M627.3,477.1L630.5,482.8H624.0Z" fill="#2fa5ea" stroke="#08202e" stroke-width="0.85" stroke-linejoin="round"/><path d="M627.3,480.2L630.5,486.0H624.0Z" fill="#2fa5ea" stroke="#08202e" stroke-width="0.85" stroke-linejoin="round"/><path d="M637.4,491.4L640.7,497.2H634.2Z" fill="#2fa5ea" stroke="#08202e" stroke-width="0.85" stroke-linejoin="round"/><path d="M637.4,497.1L640.7,502.8H634.2Z" fill="#2fa5ea" stroke="#08202e" stroke-width="0.85" stroke-linejoin="round"/><path d="M637.4,498.2L640.7,504.0H634.2Z" fill="#2fa5ea" stroke="#08202e" stroke-width="0.85" stroke-linejoin="round"/><path d="M647.6,448.2L650.8,454.0H644.3Z" fill="#2fa5ea" stroke="#08202e" stroke-width="0.85" stroke-linejoin="round"/><path d="M647.6,453.1L650.8,458.8H644.3Z" fill="#2fa5ea" stroke="#08202e" stroke-width="0.85" stroke-linejoin="round"/><path d="M647.6,456.2L650.8,462.0H644.3Z" fill="#2fa5ea" stroke="#08202e" stroke-width="0.85" stroke-linejoin="round"/><path d="M652.6,458.2L655.9,464.0H649.4Z" fill="#2fa5ea" stroke="#08202e" stroke-width="0.85" stroke-linejoin="round"/><path d="M652.6,462.2L655.9,468.0H649.4Z" fill="#2fa5ea" stroke="#08202e" stroke-width="0.85" stroke-linejoin="round"/><path d="M652.6,474.2L655.9,480.0H649.4Z" fill="#2fa5ea" stroke="#08202e" stroke-width="0.85" stroke-linejoin="round"/><path d="M652.6,452.2L655.9,458.0H649.4Z" fill="#2fa5ea" stroke="#08202e" stroke-width="0.85" stroke-linejoin="round"/><path d="M658.5,399.4L661.8,405.2H655.3Z" fill="#2fa5ea" stroke="#08202e" stroke-width="0.85" stroke-linejoin="round"/><path d="M658.5,427.1L661.8,432.8H655.3Z" fill="#2fa5ea" stroke="#08202e" stroke-width="0.85" stroke-linejoin="round"/><path d="M658.5,456.2L661.8,462.0H655.3Z" fill="#2fa5ea" stroke="#08202e" stroke-width="0.85" stroke-linejoin="round"/><path d="M658.5,458.2L661.8,464.0H655.3Z" fill="#2fa5ea" stroke="#08202e" stroke-width="0.85" stroke-linejoin="round"/><path d="M658.5,474.2L661.8,480.0H655.3Z" fill="#2fa5ea" stroke="#08202e" stroke-width="0.85" stroke-linejoin="round"/><path d="M658.5,478.2L661.8,484.0H655.3Z" fill="#2fa5ea" stroke="#08202e" stroke-width="0.85" stroke-linejoin="round"/><path d="M658.5,480.2L661.8,486.0H655.3Z" fill="#2fa5ea" stroke="#08202e" stroke-width="0.85" stroke-linejoin="round"/><path d="M658.5,483.4L661.8,489.2H655.3Z" fill="#2fa5ea" stroke="#08202e" stroke-width="0.85" stroke-linejoin="round"/><path d="M658.5,484.2L661.8,490.0H655.3Z" fill="#2fa5ea" stroke="#08202e" stroke-width="0.85" stroke-linejoin="round"/><path d="M658.5,460.2L661.8,466.0H655.3Z" fill="#2fa5ea" stroke="#08202e" stroke-width="0.85" stroke-linejoin="round"/><path d="M677.1,448.2L680.4,454.0H673.9Z" fill="#2fa5ea" stroke="#08202e" stroke-width="0.85" stroke-linejoin="round"/><path d="M677.1,461.1L680.4,466.8H673.9Z" fill="#2fa5ea" stroke="#08202e" stroke-width="0.85" stroke-linejoin="round"/><path d="M677.1,473.1L680.4,478.8H673.9Z" fill="#2fa5ea" stroke="#08202e" stroke-width="0.85" stroke-linejoin="round"/><path d="M677.1,452.2L680.4,458.0H673.9Z" fill="#2fa5ea" stroke="#08202e" stroke-width="0.85" stroke-linejoin="round"/><circle cx="589.6" cy="509.9" r="2.25" fill="#2e76ee" stroke="#081445" stroke-width="0.85"/><circle cx="589.6" cy="507.9" r="2.25" fill="#2e76ee" stroke="#081445" stroke-width="0.85"/><circle cx="589.6" cy="505.5" r="2.25" fill="#2e76ee" stroke="#081445" stroke-width="0.85"/><circle cx="589.6" cy="511.1" r="2.25" fill="#2e76ee" stroke="#081445" stroke-width="0.85"/><circle cx="601.9" cy="501.5" r="2.25" fill="#2e76ee" stroke="#081445" stroke-width="0.85"/><circle cx="601.9" cy="496.3" r="2.25" fill="#2e76ee" stroke="#081445" stroke-width="0.85"/><circle cx="601.9" cy="492.3" r="2.25" fill="#2e76ee" stroke="#081445" stroke-width="0.85"/><circle cx="601.9" cy="487.5" r="2.25" fill="#2e76ee" stroke="#081445" stroke-width="0.85"/><circle cx="601.9" cy="499.5" r="2.25" fill="#2e76ee" stroke="#081445" stroke-width="0.85"/><circle cx="603.6" cy="506.7" r="2.25" fill="#2e76ee" stroke="#081445" stroke-width="0.85"/><circle cx="603.6" cy="501.1" r="2.25" fill="#2e76ee" stroke="#081445" stroke-width="0.85"/><circle cx="603.6" cy="494.7" r="2.25" fill="#2e76ee" stroke="#081445" stroke-width="0.85"/><circle cx="603.6" cy="489.9" r="2.25" fill="#2e76ee" stroke="#081445" stroke-width="0.85"/><circle cx="603.6" cy="485.5" r="2.25" fill="#2e76ee" stroke="#081445" stroke-width="0.85"/><circle cx="603.6" cy="497.9" r="2.25" fill="#2e76ee" stroke="#081445" stroke-width="0.85"/><circle cx="603.6" cy="511.5" r="2.25" fill="#2e76ee" stroke="#081445" stroke-width="0.85"/><circle cx="605.3" cy="481.5" r="2.25" fill="#2e76ee" stroke="#081445" stroke-width="0.85"/><circle cx="605.3" cy="487.5" r="2.25" fill="#2e76ee" stroke="#081445" stroke-width="0.85"/><circle cx="605.3" cy="491.5" r="2.25" fill="#2e76ee" stroke="#081445" stroke-width="0.85"/><circle cx="605.3" cy="495.5" r="2.25" fill="#2e76ee" stroke="#081445" stroke-width="0.85"/><circle cx="605.3" cy="501.5" r="2.25" fill="#2e76ee" stroke="#081445" stroke-width="0.85"/><circle cx="605.3" cy="507.5" r="2.25" fill="#2e76ee" stroke="#081445" stroke-width="0.85"/><circle cx="605.3" cy="493.5" r="2.25" fill="#2e76ee" stroke="#081445" stroke-width="0.85"/><circle cx="624.7" cy="469.5" r="2.25" fill="#2e76ee" stroke="#081445" stroke-width="0.85"/><circle cx="624.7" cy="477.5" r="2.25" fill="#2e76ee" stroke="#081445" stroke-width="0.85"/><circle cx="624.7" cy="483.5" r="2.25" fill="#2e76ee" stroke="#081445" stroke-width="0.85"/><circle cx="624.7" cy="487.5" r="2.25" fill="#2e76ee" stroke="#081445" stroke-width="0.85"/><circle cx="624.7" cy="489.5" r="2.25" fill="#2e76ee" stroke="#081445" stroke-width="0.85"/><circle cx="624.7" cy="507.5" r="2.25" fill="#2e76ee" stroke="#081445" stroke-width="0.85"/><circle cx="626.4" cy="469.9" r="2.25" fill="#2e76ee" stroke="#081445" stroke-width="0.85"/><circle cx="626.4" cy="475.5" r="2.25" fill="#2e76ee" stroke="#081445" stroke-width="0.85"/><circle cx="626.4" cy="480.3" r="2.25" fill="#2e76ee" stroke="#081445" stroke-width="0.85"/><circle cx="626.4" cy="494.3" r="2.25" fill="#2e76ee" stroke="#081445" stroke-width="0.85"/><circle cx="630.7" cy="474.7" r="2.25" fill="#2e76ee" stroke="#081445" stroke-width="0.85"/><circle cx="630.7" cy="479.5" r="2.25" fill="#2e76ee" stroke="#081445" stroke-width="0.85"/><circle cx="630.7" cy="486.7" r="2.25" fill="#2e76ee" stroke="#081445" stroke-width="0.85"/><circle cx="637.4" cy="468.3" r="2.25" fill="#2e76ee" stroke="#081445" stroke-width="0.85"/><circle cx="637.4" cy="471.5" r="2.25" fill="#2e76ee" stroke="#081445" stroke-width="0.85"/><circle cx="637.4" cy="475.5" r="2.25" fill="#2e76ee" stroke="#081445" stroke-width="0.85"/><circle cx="637.4" cy="479.5" r="2.25" fill="#2e76ee" stroke="#081445" stroke-width="0.85"/><circle cx="647.6" cy="443.5" r="2.25" fill="#2e76ee" stroke="#081445" stroke-width="0.85"/><circle cx="647.6" cy="459.5" r="2.25" fill="#2e76ee" stroke="#081445" stroke-width="0.85"/><circle cx="647.6" cy="463.5" r="2.25" fill="#2e76ee" stroke="#081445" stroke-width="0.85"/><circle cx="647.6" cy="468.3" r="2.25" fill="#2e76ee" stroke="#081445" stroke-width="0.85"/><circle cx="652.6" cy="451.5" r="2.25" fill="#2e76ee" stroke="#081445" stroke-width="0.85"/><circle cx="652.6" cy="457.5" r="2.25" fill="#2e76ee" stroke="#081445" stroke-width="0.85"/><circle cx="652.6" cy="461.5" r="2.25" fill="#2e76ee" stroke="#081445" stroke-width="0.85"/><circle cx="652.6" cy="465.5" r="2.25" fill="#2e76ee" stroke="#081445" stroke-width="0.85"/><circle cx="654.3" cy="434.7" r="2.25" fill="#2e76ee" stroke="#081445" stroke-width="0.85"/><circle cx="654.3" cy="447.5" r="2.25" fill="#2e76ee" stroke="#081445" stroke-width="0.85"/><circle cx="654.3" cy="455.5" r="2.25" fill="#2e76ee" stroke="#081445" stroke-width="0.85"/><circle cx="654.3" cy="459.5" r="2.25" fill="#2e76ee" stroke="#081445" stroke-width="0.85"/><circle cx="656.0" cy="435.5" r="2.25" fill="#2e76ee" stroke="#081445" stroke-width="0.85"/><circle cx="656.0" cy="441.5" r="2.25" fill="#2e76ee" stroke="#081445" stroke-width="0.85"/><circle cx="656.0" cy="449.5" r="2.25" fill="#2e76ee" stroke="#081445" stroke-width="0.85"/><circle cx="656.0" cy="453.5" r="2.25" fill="#2e76ee" stroke="#081445" stroke-width="0.85"/><circle cx="656.0" cy="457.5" r="2.25" fill="#2e76ee" stroke="#081445" stroke-width="0.85"/><circle cx="656.0" cy="461.5" r="2.25" fill="#2e76ee" stroke="#081445" stroke-width="0.85"/><circle cx="656.0" cy="463.5" r="2.25" fill="#2e76ee" stroke="#081445" stroke-width="0.85"/><circle cx="656.9" cy="437.5" r="2.25" fill="#2e76ee" stroke="#081445" stroke-width="0.85"/><circle cx="656.9" cy="443.5" r="2.25" fill="#2e76ee" stroke="#081445" stroke-width="0.85"/><circle cx="656.9" cy="451.5" r="2.25" fill="#2e76ee" stroke="#081445" stroke-width="0.85"/><circle cx="656.9" cy="455.5" r="2.25" fill="#2e76ee" stroke="#081445" stroke-width="0.85"/><circle cx="656.9" cy="463.5" r="2.25" fill="#2e76ee" stroke="#081445" stroke-width="0.85"/><circle cx="656.9" cy="473.5" r="2.25" fill="#2e76ee" stroke="#081445" stroke-width="0.85"/><circle cx="658.5" cy="437.5" r="2.25" fill="#2e76ee" stroke="#081445" stroke-width="0.85"/><circle cx="658.5" cy="445.5" r="2.25" fill="#2e76ee" stroke="#081445" stroke-width="0.85"/><circle cx="658.5" cy="449.5" r="2.25" fill="#2e76ee" stroke="#081445" stroke-width="0.85"/><circle cx="658.5" cy="453.5" r="2.25" fill="#2e76ee" stroke="#081445" stroke-width="0.85"/><circle cx="658.5" cy="457.5" r="2.25" fill="#2e76ee" stroke="#081445" stroke-width="0.85"/><circle cx="658.5" cy="461.5" r="2.25" fill="#2e76ee" stroke="#081445" stroke-width="0.85"/><circle cx="658.5" cy="463.5" r="2.25" fill="#2e76ee" stroke="#081445" stroke-width="0.85"/><circle cx="658.5" cy="473.5" r="2.25" fill="#2e76ee" stroke="#081445" stroke-width="0.85"/><circle cx="658.5" cy="451.5" r="2.25" fill="#2e76ee" stroke="#081445" stroke-width="0.85"/><circle cx="677.1" cy="437.5" r="2.25" fill="#2e76ee" stroke="#081445" stroke-width="0.85"/><circle cx="677.1" cy="445.9" r="2.25" fill="#2e76ee" stroke="#081445" stroke-width="0.85"/><circle cx="677.1" cy="452.3" r="2.25" fill="#2e76ee" stroke="#081445" stroke-width="0.85"/><circle cx="677.1" cy="454.7" r="2.25" fill="#2e76ee" stroke="#081445" stroke-width="0.85"/><circle cx="677.1" cy="456.3" r="2.25" fill="#2e76ee" stroke="#081445" stroke-width="0.85"/><circle cx="627.3" cy="425.9" r="2.25" fill="#2e76ee" stroke="#081445" stroke-width="0.85"/><path d="M658.5,399.4L661.8,405.2H655.3Z" fill="#2fa5ea" stroke="#08202e" stroke-width="0.85" stroke-linejoin="round"/><path d="M658.5,427.1L661.8,432.8H655.3Z" fill="#2fa5ea" stroke="#08202e" stroke-width="0.85" stroke-linejoin="round"/><path d="M677.1,461.1L680.4,466.8H673.9Z" fill="#2fa5ea" stroke="#08202e" stroke-width="0.85" stroke-linejoin="round"/><path d="M677.1,473.1L680.4,478.8H673.9Z" fill="#2fa5ea" stroke="#08202e" stroke-width="0.85" stroke-linejoin="round"/>
</g>
<g id="panel-hk">
<text x="10" y="556.8" font-size="10.5" font-weight="bold" fill="#000" style="stroke:#000">h</text>
<path d="M48.8,560.5 V745 H243" fill="none" stroke="#4d4d4d" stroke-width="1"/>
<line x1="45.2" y1="744.40" x2="48.8" y2="744.40" stroke="#4d4d4d" stroke-width="1"/>
<text x="43.2" y="747.3" font-size="8.2" text-anchor="end" fill="#222">0</text>
<line x1="45.2" y1="708.00" x2="48.8" y2="708.00" stroke="#4d4d4d" stroke-width="1"/>
<text x="43.2" y="710.9" font-size="8.2" text-anchor="end" fill="#222">2,000</text>
<line x1="45.2" y1="671.60" x2="48.8" y2="671.60" stroke="#4d4d4d" stroke-width="1"/>
<text x="43.2" y="674.5" font-size="8.2" text-anchor="end" fill="#222">4,000</text>
<line x1="45.2" y1="635.20" x2="48.8" y2="635.20" stroke="#4d4d4d" stroke-width="1"/>
<text x="43.2" y="638.1" font-size="8.2" text-anchor="end" fill="#222">6,000</text>
<line x1="45.2" y1="598.80" x2="48.8" y2="598.80" stroke="#4d4d4d" stroke-width="1"/>
<text x="43.2" y="601.7" font-size="8.2" text-anchor="end" fill="#222">8,000</text>
<line x1="45.2" y1="562.40" x2="48.8" y2="562.40" stroke="#4d4d4d" stroke-width="1"/>
<text x="43.2" y="565.3" font-size="8.2" text-anchor="end" fill="#222">10,000</text>
<line x1="57.50" y1="745" x2="57.50" y2="748.5" stroke="#4d4d4d" stroke-width="1"/>
<text x="57.5" y="757.3" font-size="8.2" text-anchor="middle" fill="#222">0</text>
<line x1="99.90" y1="745" x2="99.90" y2="748.5" stroke="#4d4d4d" stroke-width="1"/>
<text x="99.9" y="757.3" font-size="8.2" text-anchor="middle" fill="#222">25</text>
<line x1="142.30" y1="745" x2="142.30" y2="748.5" stroke="#4d4d4d" stroke-width="1"/>
<text x="142.3" y="757.3" font-size="8.2" text-anchor="middle" fill="#222">50</text>
<line x1="184.70" y1="745" x2="184.70" y2="748.5" stroke="#4d4d4d" stroke-width="1"/>
<text x="184.7" y="757.3" font-size="8.2" text-anchor="middle" fill="#222">75</text>
<line x1="227.10" y1="745" x2="227.10" y2="748.5" stroke="#4d4d4d" stroke-width="1"/>
<text x="227.1" y="757.3" font-size="8.2" text-anchor="middle" fill="#222">100</text>
<text x="146.3" y="768.8" font-size="8.2" text-anchor="middle" fill="#222">Age (years)</text>
<text x="18.3" y="661" font-size="8.4" text-anchor="middle" transform="rotate(-90 18.3 661)" fill="#222">sSNVs per neuron</text>
<text x="58.8" y="569.3" font-size="8.6" fill="#222">Control</text>
<text x="100.8" y="569.3" font-size="8.6" fill="#222">AD</text>
<circle cx="62.0" cy="578.0" r="3.6" fill="#2e76ee" stroke="#081445" stroke-width="0.85"/><path d="M62.0,586.1L66.2,593.6H57.8Z" fill="#2fa5ea" stroke="#08202e" stroke-width="0.85" stroke-linejoin="round"/><circle cx="104.5" cy="578.0" r="3.6" fill="#e03e40" stroke="#1f0707" stroke-width="0.85"/><path d="M104.5,586.1L108.7,593.6H100.3Z" fill="#f26e55" stroke="#1f0707" stroke-width="0.85" stroke-linejoin="round"/>
<text x="70" y="580.9" font-size="8.6" fill="#222">PFC</text>
<text x="70" y="592.8" font-size="8.6" fill="#222">HC</text>
<text x="111.8" y="580.9" font-size="8.6" fill="#222">PFC</text>
<text x="111.8" y="592.8" font-size="8.6" fill="#222">HC</text>
<line x1="57.5" y1="740.5" x2="234.5" y2="702" stroke="#6ea2ff" stroke-width="1"/>
<line x1="156.3" y1="698.8" x2="213.8" y2="691.3" stroke="#ff8a8a" stroke-width="1"/>
<path d="M154.2,678.3L157.6,684.5H150.7Z" fill="#f26e55" stroke="#1f0707" stroke-width="0.85" stroke-linejoin="round"/><circle cx="154.2" cy="722.7" r="2.5" fill="#2e76ee" stroke="#081445" stroke-width="0.85"/><circle cx="89.7" cy="717.2" r="2.5" fill="#2e76ee" stroke="#081445" stroke-width="0.85"/><circle cx="158.1" cy="625.6" r="2.5" fill="#e03e40" stroke="#1f0707" stroke-width="0.85"/><circle cx="86.3" cy="730.0" r="2.5" fill="#2e76ee" stroke="#081445" stroke-width="0.85"/><circle cx="174.5" cy="717.2" r="2.5" fill="#e03e40" stroke="#1f0707" stroke-width="0.85"/><path d="M209.5,712.9L212.9,719.0H206.0Z" fill="#f26e55" stroke="#1f0707" stroke-width="0.85" stroke-linejoin="round"/><circle cx="194.0" cy="684.5" r="2.5" fill="#e03e40" stroke="#1f0707" stroke-width="0.85"/><circle cx="196.6" cy="712.7" r="2.5" fill="#2e76ee" stroke="#081445" stroke-width="0.85"/><circle cx="89.7" cy="736.3" r="2.5" fill="#2e76ee" stroke="#081445" stroke-width="0.85"/><circle cx="132.1" cy="726.7" r="2.5" fill="#2e76ee" stroke="#081445" stroke-width="0.85"/><circle cx="86.3" cy="737.2" r="2.5" fill="#2e76ee" stroke="#081445" stroke-width="0.85"/><circle cx="174.5" cy="700.9" r="2.5" fill="#e03e40" stroke="#1f0707" stroke-width="0.85"/><circle cx="58.2" cy="740.9" r="2.5" fill="#2e76ee" stroke="#081445" stroke-width="0.85"/><circle cx="174.5" cy="695.4" r="2.5" fill="#e03e40" stroke="#1f0707" stroke-width="0.85"/><circle cx="177.1" cy="710.0" r="2.5" fill="#e03e40" stroke="#1f0707" stroke-width="0.85"/><circle cx="194.0" cy="700.9" r="2.5" fill="#e03e40" stroke="#1f0707" stroke-width="0.85"/><path d="M174.5,714.7L178.0,720.8H171.1Z" fill="#f26e55" stroke="#1f0707" stroke-width="0.85" stroke-linejoin="round"/><path d="M196.6,704.7L200.0,710.8H193.1Z" fill="#f26e55" stroke="#1f0707" stroke-width="0.85" stroke-linejoin="round"/><path d="M209.5,708.3L212.9,714.5H206.0Z" fill="#f26e55" stroke="#1f0707" stroke-width="0.85" stroke-linejoin="round"/><circle cx="208.4" cy="679.1" r="2.5" fill="#e03e40" stroke="#1f0707" stroke-width="0.85"/><circle cx="233.9" cy="716.3" r="2.5" fill="#2e76ee" stroke="#081445" stroke-width="0.85"/><circle cx="128.7" cy="730.9" r="2.5" fill="#2e76ee" stroke="#081445" stroke-width="0.85"/><circle cx="193.2" cy="719.1" r="2.5" fill="#2e76ee" stroke="#081445" stroke-width="0.85"/><circle cx="196.6" cy="709.1" r="2.5" fill="#2e76ee" stroke="#081445" stroke-width="0.85"/><circle cx="184.7" cy="695.1" r="2.5" fill="#2e76ee" stroke="#081445" stroke-width="0.85"/><path d="M196.6,722.5L200.0,728.7H193.1Z" fill="#2fa5e8" stroke="#08202e" stroke-width="0.85" stroke-linejoin="round"/><circle cx="193.2" cy="706.3" r="2.5" fill="#2e76ee" stroke="#081445" stroke-width="0.85"/><circle cx="196.6" cy="706.3" r="2.5" fill="#2e76ee" stroke="#081445" stroke-width="0.85"/><path d="M174.5,695.6L178.0,701.8H171.1Z" fill="#f26e55" stroke="#1f0707" stroke-width="0.85" stroke-linejoin="round"/><circle cx="197.4" cy="697.2" r="2.5" fill="#e03e40" stroke="#1f0707" stroke-width="0.85"/><circle cx="184.7" cy="715.8" r="2.5" fill="#2e76ee" stroke="#081445" stroke-width="0.85"/><circle cx="191.5" cy="715.4" r="2.5" fill="#2e76ee" stroke="#081445" stroke-width="0.85"/><circle cx="191.5" cy="713.6" r="2.5" fill="#2e76ee" stroke="#081445" stroke-width="0.85"/><circle cx="233.9" cy="713.2" r="2.5" fill="#2e76ee" stroke="#081445" stroke-width="0.85"/><circle cx="211.8" cy="683.6" r="2.5" fill="#e03e40" stroke="#1f0707" stroke-width="0.85"/><path d="M233.9,709.2L237.3,715.4H230.4Z" fill="#2fa5e8" stroke="#08202e" stroke-width="0.85" stroke-linejoin="round"/><path d="M133.8,717.4L137.3,723.6H130.4Z" fill="#2fa5e8" stroke="#08202e" stroke-width="0.85" stroke-linejoin="round"/><circle cx="154.9" cy="697.2" r="2.5" fill="#e03e40" stroke="#1f0707" stroke-width="0.85"/><path d="M154.2,718.3L157.6,724.5H150.7Z" fill="#f26e55" stroke="#1f0707" stroke-width="0.85" stroke-linejoin="round"/><circle cx="58.2" cy="743.4" r="2.5" fill="#2e76ee" stroke="#081445" stroke-width="0.85"/><circle cx="174.5" cy="670.0" r="2.5" fill="#e03e40" stroke="#1f0707" stroke-width="0.85"/><circle cx="89.7" cy="723.6" r="2.5" fill="#2e76ee" stroke="#081445" stroke-width="0.85"/><circle cx="196.6" cy="721.2" r="2.5" fill="#2e76ee" stroke="#081445" stroke-width="0.85"/><circle cx="208.4" cy="705.4" r="2.5" fill="#e03e40" stroke="#1f0707" stroke-width="0.85"/><circle cx="194.0" cy="680.9" r="2.5" fill="#e03e40" stroke="#1f0707" stroke-width="0.85"/><circle cx="158.1" cy="639.3" r="2.5" fill="#e03e40" stroke="#1f0707" stroke-width="0.85"/><circle cx="208.4" cy="674.5" r="2.5" fill="#e03e40" stroke="#1f0707" stroke-width="0.85"/><circle cx="174.5" cy="708.1" r="2.5" fill="#e03e40" stroke="#1f0707" stroke-width="0.85"/><circle cx="174.5" cy="710.5" r="2.5" fill="#2e76ee" stroke="#081445" stroke-width="0.85"/><path d="M233.9,722.9L237.3,729.0H230.4Z" fill="#2fa5e8" stroke="#08202e" stroke-width="0.85" stroke-linejoin="round"/><circle cx="184.7" cy="714.5" r="2.5" fill="#2e76ee" stroke="#081445" stroke-width="0.85"/><circle cx="194.0" cy="691.8" r="2.5" fill="#e03e40" stroke="#1f0707" stroke-width="0.85"/><circle cx="174.5" cy="712.7" r="2.5" fill="#e03e40" stroke="#1f0707" stroke-width="0.85"/><path d="M133.8,726.1L137.3,732.3H130.4Z" fill="#2fa5e8" stroke="#08202e" stroke-width="0.85" stroke-linejoin="round"/><circle cx="154.9" cy="639.8" r="2.5" fill="#e03e40" stroke="#1f0707" stroke-width="0.85"/><path d="M174.5,575.8L178.0,582.0H171.1Z" fill="#f26e55" stroke="#1f0707" stroke-width="0.85" stroke-linejoin="round"/><circle cx="211.8" cy="673.6" r="2.5" fill="#e03e40" stroke="#1f0707" stroke-width="0.85"/><circle cx="58.2" cy="744.0" r="2.5" fill="#2e76ee" stroke="#081445" stroke-width="0.85"/><path d="M196.6,692.0L200.0,698.1H193.1Z" fill="#2fa5e8" stroke="#08202e" stroke-width="0.85" stroke-linejoin="round"/><circle cx="82.9" cy="736.9" r="2.5" fill="#2e76ee" stroke="#081445" stroke-width="0.85"/><path d="M209.5,715.6L212.9,721.7H206.0Z" fill="#f26e55" stroke="#1f0707" stroke-width="0.85" stroke-linejoin="round"/><circle cx="140.6" cy="722.7" r="2.5" fill="#2e76ee" stroke="#081445" stroke-width="0.85"/><circle cx="197.4" cy="711.8" r="2.5" fill="#e03e40" stroke="#1f0707" stroke-width="0.85"/><path d="M196.6,656.5L200.0,662.7H193.1Z" fill="#2fa5e8" stroke="#08202e" stroke-width="0.85" stroke-linejoin="round"/><path d="M154.2,713.8L157.6,719.9H150.7Z" fill="#f26e55" stroke="#1f0707" stroke-width="0.85" stroke-linejoin="round"/><path d="M174.5,708.3L178.0,714.5H171.1Z" fill="#2fa5e8" stroke="#08202e" stroke-width="0.85" stroke-linejoin="round"/><circle cx="191.5" cy="717.2" r="2.5" fill="#2e76ee" stroke="#081445" stroke-width="0.85"/><path d="M133.8,726.5L137.3,732.7H130.4Z" fill="#2fa5e8" stroke="#08202e" stroke-width="0.85" stroke-linejoin="round"/><path d="M233.9,701.4L237.3,707.6H230.4Z" fill="#2fa5e8" stroke="#08202e" stroke-width="0.85" stroke-linejoin="round"/><circle cx="177.1" cy="700.0" r="2.5" fill="#e03e40" stroke="#1f0707" stroke-width="0.85"/><path d="M211.8,714.7L215.3,720.8H208.4Z" fill="#f26e55" stroke="#1f0707" stroke-width="0.85" stroke-linejoin="round"/><circle cx="140.6" cy="727.2" r="2.5" fill="#2e76ee" stroke="#081445" stroke-width="0.85"/><circle cx="89.7" cy="731.8" r="2.5" fill="#2e76ee" stroke="#081445" stroke-width="0.85"/><circle cx="194.0" cy="713.6" r="2.5" fill="#e03e40" stroke="#1f0707" stroke-width="0.85"/><path d="M174.5,691.1L178.0,697.2H171.1Z" fill="#f26e55" stroke="#1f0707" stroke-width="0.85" stroke-linejoin="round"/><circle cx="196.6" cy="703.6" r="2.5" fill="#2e76ee" stroke="#081445" stroke-width="0.85"/><path d="M154.2,722.9L157.6,729.0H150.7Z" fill="#2fa5e8" stroke="#08202e" stroke-width="0.85" stroke-linejoin="round"/><path d="M174.5,710.2L178.0,716.3H171.1Z" fill="#2fa5e8" stroke="#08202e" stroke-width="0.85" stroke-linejoin="round"/><circle cx="233.9" cy="710.0" r="2.5" fill="#2e76ee" stroke="#081445" stroke-width="0.85"/><circle cx="128.7" cy="741.4" r="2.5" fill="#2e76ee" stroke="#081445" stroke-width="0.85"/><path d="M193.7,715.6L197.1,721.7H190.2Z" fill="#f26e55" stroke="#1f0707" stroke-width="0.85" stroke-linejoin="round"/><path d="M196.6,687.4L200.0,693.6H193.1Z" fill="#2fa5e8" stroke="#08202e" stroke-width="0.85" stroke-linejoin="round"/><circle cx="191.5" cy="711.8" r="2.5" fill="#2e76ee" stroke="#081445" stroke-width="0.85"/><path d="M196.6,693.8L200.0,699.9H193.1Z" fill="#f26e55" stroke="#1f0707" stroke-width="0.85" stroke-linejoin="round"/><circle cx="82.9" cy="739.4" r="2.5" fill="#2e76ee" stroke="#081445" stroke-width="0.85"/><circle cx="174.5" cy="704.5" r="2.5" fill="#e03e40" stroke="#1f0707" stroke-width="0.85"/><path d="M193.7,706.5L197.1,712.7H190.2Z" fill="#f26e55" stroke="#1f0707" stroke-width="0.85" stroke-linejoin="round"/><circle cx="174.5" cy="720.0" r="2.5" fill="#2e76ee" stroke="#081445" stroke-width="0.85"/><circle cx="158.1" cy="715.4" r="2.5" fill="#e03e40" stroke="#1f0707" stroke-width="0.85"/><path d="M211.8,706.5L215.3,712.7H208.4Z" fill="#f26e55" stroke="#1f0707" stroke-width="0.85" stroke-linejoin="round"/><circle cx="211.8" cy="685.4" r="2.5" fill="#e03e40" stroke="#1f0707" stroke-width="0.85"/><path d="M174.5,686.5L178.0,692.7H171.1Z" fill="#f26e55" stroke="#1f0707" stroke-width="0.85" stroke-linejoin="round"/><path d="M233.9,715.2L237.3,721.4H230.4Z" fill="#2fa5e8" stroke="#08202e" stroke-width="0.85" stroke-linejoin="round"/><path d="M174.5,726.1L178.0,732.3H171.1Z" fill="#f26e55" stroke="#1f0707" stroke-width="0.85" stroke-linejoin="round"/><circle cx="174.5" cy="672.7" r="2.5" fill="#e03e40" stroke="#1f0707" stroke-width="0.85"/><path d="M193.7,670.2L197.1,676.3H190.2Z" fill="#f26e55" stroke="#1f0707" stroke-width="0.85" stroke-linejoin="round"/><circle cx="158.1" cy="664.5" r="2.5" fill="#e03e40" stroke="#1f0707" stroke-width="0.85"/><circle cx="194.0" cy="706.3" r="2.5" fill="#e03e40" stroke="#1f0707" stroke-width="0.85"/><path d="M196.6,686.5L200.0,692.7H193.1Z" fill="#2fa5e8" stroke="#08202e" stroke-width="0.85" stroke-linejoin="round"/><circle cx="196.6" cy="720.0" r="2.5" fill="#2e76ee" stroke="#081445" stroke-width="0.85"/><circle cx="89.7" cy="734.3" r="2.5" fill="#2e76ee" stroke="#081445" stroke-width="0.85"/><circle cx="158.1" cy="720.9" r="2.5" fill="#e03e40" stroke="#1f0707" stroke-width="0.85"/><path d="M133.8,719.2L137.3,725.4H130.4Z" fill="#2fa5e8" stroke="#08202e" stroke-width="0.85" stroke-linejoin="round"/><circle cx="86.3" cy="741.8" r="2.5" fill="#2e76ee" stroke="#081445" stroke-width="0.85"/><path d="M154.2,736.0L157.6,742.1H150.7Z" fill="#2fa5e8" stroke="#08202e" stroke-width="0.85" stroke-linejoin="round"/><circle cx="211.8" cy="706.3" r="2.5" fill="#e03e40" stroke="#1f0707" stroke-width="0.85"/><path d="M184.7,717.8L188.1,723.9H181.2Z" fill="#2fa5e8" stroke="#08202e" stroke-width="0.85" stroke-linejoin="round"/><circle cx="154.2" cy="719.1" r="2.5" fill="#2e76ee" stroke="#081445" stroke-width="0.85"/><path d="M174.5,712.9L178.0,719.0H171.1Z" fill="#2fa5e8" stroke="#08202e" stroke-width="0.85" stroke-linejoin="round"/><circle cx="208.4" cy="690.9" r="2.5" fill="#e03e40" stroke="#1f0707" stroke-width="0.85"/><circle cx="188.1" cy="686.3" r="2.5" fill="#2e76ee" stroke="#081445" stroke-width="0.85"/><circle cx="188.1" cy="715.4" r="2.5" fill="#2e76ee" stroke="#081445" stroke-width="0.85"/><circle cx="194.0" cy="696.3" r="2.5" fill="#e03e40" stroke="#1f0707" stroke-width="0.85"/><circle cx="188.1" cy="704.5" r="2.5" fill="#2e76ee" stroke="#081445" stroke-width="0.85"/><circle cx="154.9" cy="710.0" r="2.5" fill="#e03e40" stroke="#1f0707" stroke-width="0.85"/><path d="M154.2,729.2L157.6,735.4H150.7Z" fill="#2fa5e8" stroke="#08202e" stroke-width="0.85" stroke-linejoin="round"/><circle cx="177.1" cy="703.6" r="2.5" fill="#e03e40" stroke="#1f0707" stroke-width="0.85"/><path d="M209.5,702.9L212.9,709.0H206.0Z" fill="#f26e55" stroke="#1f0707" stroke-width="0.85" stroke-linejoin="round"/><circle cx="188.1" cy="717.2" r="2.5" fill="#2e76ee" stroke="#081445" stroke-width="0.85"/><circle cx="86.3" cy="733.2" r="2.5" fill="#2e76ee" stroke="#081445" stroke-width="0.85"/><circle cx="154.9" cy="715.4" r="2.5" fill="#e03e40" stroke="#1f0707" stroke-width="0.85"/><circle cx="132.1" cy="724.5" r="2.5" fill="#2e76ee" stroke="#081445" stroke-width="0.85"/><circle cx="154.9" cy="721.8" r="2.5" fill="#e03e40" stroke="#1f0707" stroke-width="0.85"/><circle cx="86.3" cy="739.0" r="2.5" fill="#2e76ee" stroke="#081445" stroke-width="0.85"/><circle cx="154.2" cy="724.5" r="2.5" fill="#2e76ee" stroke="#081445" stroke-width="0.85"/><path d="M196.6,712.9L200.0,719.0H193.1Z" fill="#2fa5e8" stroke="#08202e" stroke-width="0.85" stroke-linejoin="round"/><circle cx="193.2" cy="708.1" r="2.5" fill="#2e76ee" stroke="#081445" stroke-width="0.85"/><circle cx="194.0" cy="717.2" r="2.5" fill="#e03e40" stroke="#1f0707" stroke-width="0.85"/><circle cx="89.7" cy="730.0" r="2.5" fill="#2e76ee" stroke="#081445" stroke-width="0.85"/><circle cx="191.5" cy="704.5" r="2.5" fill="#2e76ee" stroke="#081445" stroke-width="0.85"/><path d="M196.6,681.1L200.0,687.2H193.1Z" fill="#2fa5e8" stroke="#08202e" stroke-width="0.85" stroke-linejoin="round"/><circle cx="133.8" cy="653.1" r="2.5" fill="#2e76ee" stroke="#081445" stroke-width="0.85"/><circle cx="89.7" cy="740.0" r="2.5" fill="#2e76ee" stroke="#081445" stroke-width="0.85"/><path d="M196.6,702.0L200.0,708.1H193.1Z" fill="#2fa5e8" stroke="#08202e" stroke-width="0.85" stroke-linejoin="round"/><circle cx="140.6" cy="720.9" r="2.5" fill="#2e76ee" stroke="#081445" stroke-width="0.85"/><circle cx="158.1" cy="723.6" r="2.5" fill="#e03e40" stroke="#1f0707" stroke-width="0.85"/><circle cx="86.3" cy="735.8" r="2.5" fill="#2e76ee" stroke="#081445" stroke-width="0.85"/><circle cx="196.6" cy="714.5" r="2.5" fill="#2e76ee" stroke="#081445" stroke-width="0.85"/><path d="M184.7,712.0L188.1,718.1H181.2Z" fill="#2fa5e8" stroke="#08202e" stroke-width="0.85" stroke-linejoin="round"/><path d="M196.6,657.4L200.0,663.6H193.1Z" fill="#2fa5e8" stroke="#08202e" stroke-width="0.85" stroke-linejoin="round"/><circle cx="128.7" cy="729.1" r="2.5" fill="#2e76ee" stroke="#081445" stroke-width="0.85"/><path d="M196.6,705.6L200.0,711.7H193.1Z" fill="#2fa5e8" stroke="#08202e" stroke-width="0.85" stroke-linejoin="round"/><path d="M193.7,699.2L197.1,705.4H190.2Z" fill="#f26e55" stroke="#1f0707" stroke-width="0.85" stroke-linejoin="round"/><path d="M209.5,697.4L212.9,703.6H206.0Z" fill="#f26e55" stroke="#1f0707" stroke-width="0.85" stroke-linejoin="round"/><path d="M184.7,705.6L188.1,711.7H181.2Z" fill="#2fa5e8" stroke="#08202e" stroke-width="0.85" stroke-linejoin="round"/><path d="M193.7,690.2L197.1,696.3H190.2Z" fill="#f26e55" stroke="#1f0707" stroke-width="0.85" stroke-linejoin="round"/><circle cx="174.5" cy="716.3" r="2.5" fill="#2e76ee" stroke="#081445" stroke-width="0.85"/><path d="M154.2,707.4L157.6,713.6H150.7Z" fill="#f26e55" stroke="#1f0707" stroke-width="0.85" stroke-linejoin="round"/><path d="M184.7,711.1L188.1,717.2H181.2Z" fill="#2fa5e8" stroke="#08202e" stroke-width="0.85" stroke-linejoin="round"/><path d="M196.6,682.9L200.0,689.0H193.1Z" fill="#f26e55" stroke="#1f0707" stroke-width="0.85" stroke-linejoin="round"/><circle cx="174.5" cy="718.1" r="2.5" fill="#2e76ee" stroke="#081445" stroke-width="0.85"/><circle cx="58.2" cy="742.3" r="2.5" fill="#2e76ee" stroke="#081445" stroke-width="0.85"/><circle cx="233.9" cy="705.8" r="2.5" fill="#2e76ee" stroke="#081445" stroke-width="0.85"/><circle cx="211.8" cy="710.0" r="2.5" fill="#e03e40" stroke="#1f0707" stroke-width="0.85"/><circle cx="158.1" cy="703.6" r="2.5" fill="#e03e40" stroke="#1f0707" stroke-width="0.85"/><circle cx="193.2" cy="700.0" r="2.5" fill="#2e76ee" stroke="#081445" stroke-width="0.85"/><circle cx="154.9" cy="717.2" r="2.5" fill="#e03e40" stroke="#1f0707" stroke-width="0.85"/><path d="M209.5,615.1L212.9,621.2H206.0Z" fill="#f26e55" stroke="#1f0707" stroke-width="0.85" stroke-linejoin="round"/><circle cx="191.5" cy="710.0" r="2.5" fill="#2e76ee" stroke="#081445" stroke-width="0.85"/><circle cx="208.4" cy="684.5" r="2.5" fill="#e03e40" stroke="#1f0707" stroke-width="0.85"/><path d="M211.8,696.5L215.3,702.7H208.4Z" fill="#f26e55" stroke="#1f0707" stroke-width="0.85" stroke-linejoin="round"/><path d="M154.2,710.2L157.6,716.3H150.7Z" fill="#f26e55" stroke="#1f0707" stroke-width="0.85" stroke-linejoin="round"/><circle cx="177.1" cy="715.4" r="2.5" fill="#e03e40" stroke="#1f0707" stroke-width="0.85"/><circle cx="193.2" cy="711.8" r="2.5" fill="#2e76ee" stroke="#081445" stroke-width="0.85"/><circle cx="191.5" cy="719.1" r="2.5" fill="#2e76ee" stroke="#081445" stroke-width="0.85"/><circle cx="128.7" cy="726.3" r="2.5" fill="#2e76ee" stroke="#081445" stroke-width="0.85"/><circle cx="82.9" cy="731.8" r="2.5" fill="#2e76ee" stroke="#081445" stroke-width="0.85"/><circle cx="82.9" cy="738.1" r="2.5" fill="#2e76ee" stroke="#081445" stroke-width="0.85"/><circle cx="154.9" cy="720.0" r="2.5" fill="#e03e40" stroke="#1f0707" stroke-width="0.85"/><circle cx="211.8" cy="717.2" r="2.5" fill="#e03e40" stroke="#1f0707" stroke-width="0.85"/><circle cx="128.7" cy="719.4" r="2.5" fill="#2e76ee" stroke="#081445" stroke-width="0.85"/><circle cx="197.4" cy="704.5" r="2.5" fill="#e03e40" stroke="#1f0707" stroke-width="0.85"/><path d="M209.5,656.9L212.9,663.0H206.0Z" fill="#f26e55" stroke="#1f0707" stroke-width="0.85" stroke-linejoin="round"/><circle cx="128.7" cy="733.6" r="2.5" fill="#2e76ee" stroke="#081445" stroke-width="0.85"/><circle cx="154.2" cy="720.9" r="2.5" fill="#2e76ee" stroke="#081445" stroke-width="0.85"/><circle cx="193.2" cy="702.7" r="2.5" fill="#2e76ee" stroke="#081445" stroke-width="0.85"/><circle cx="196.6" cy="700.9" r="2.5" fill="#2e76ee" stroke="#081445" stroke-width="0.85"/><circle cx="196.6" cy="717.2" r="2.5" fill="#2e76ee" stroke="#081445" stroke-width="0.85"/><circle cx="82.9" cy="734.3" r="2.5" fill="#2e76ee" stroke="#081445" stroke-width="0.85"/><circle cx="132.1" cy="721.8" r="2.5" fill="#2e76ee" stroke="#081445" stroke-width="0.85"/><path d="M193.7,584.4L197.1,590.5H190.2Z" fill="#f26e55" stroke="#1f0707" stroke-width="0.85" stroke-linejoin="round"/>
<text x="247.5" y="556.8" font-size="10.5" font-weight="bold" fill="#000" style="stroke:#000">i</text>
<path d="M283.8,568.8 V744.8 H362.5" fill="none" stroke="#4d4d4d" stroke-width="1"/>
<line x1="280.2" y1="744.50" x2="283.8" y2="744.50" stroke="#4d4d4d" stroke-width="1"/>
<text x="278" y="747.4" font-size="8.2" text-anchor="end" fill="#222">0</text>
<line x1="280.2" y1="709.60" x2="283.8" y2="709.60" stroke="#4d4d4d" stroke-width="1"/>
<text x="278" y="712.5" font-size="8.2" text-anchor="end" fill="#222">2,000</text>
<line x1="280.2" y1="674.70" x2="283.8" y2="674.70" stroke="#4d4d4d" stroke-width="1"/>
<text x="278" y="677.6" font-size="8.2" text-anchor="end" fill="#222">4,000</text>
<line x1="280.2" y1="639.80" x2="283.8" y2="639.80" stroke="#4d4d4d" stroke-width="1"/>
<text x="278" y="642.7" font-size="8.2" text-anchor="end" fill="#222">6,000</text>
<line x1="280.2" y1="604.90" x2="283.8" y2="604.90" stroke="#4d4d4d" stroke-width="1"/>
<text x="278" y="607.8" font-size="8.2" text-anchor="end" fill="#222">8,000</text>
<line x1="280.2" y1="570.00" x2="283.8" y2="570.00" stroke="#4d4d4d" stroke-width="1"/>
<text x="278" y="572.9" font-size="8.2" text-anchor="end" fill="#222">10,000</text>
<line x1="305.5" y1="744.8" x2="305.5" y2="748.3" stroke="#4d4d4d" stroke-width="1"/>
<line x1="341.3" y1="744.8" x2="341.3" y2="748.3" stroke="#4d4d4d" stroke-width="1"/>
<text x="252.6" y="661" font-size="8.4" text-anchor="middle" transform="rotate(-90 252.6 661)" fill="#222">sSNVs per neuron</text>
<text x="302.5" y="755.6" font-size="7.8" text-anchor="middle" fill="#222">Age-matched</text>
<text x="302.5" y="764.6" font-size="7.8" text-anchor="middle" fill="#222">control</text>
<text x="302.5" y="773.6" font-size="7.8" text-anchor="middle" fill="#222">(<tspan font-style="italic">n</tspan> = 78)</text>
<text x="342" y="755.6" font-size="7.8" text-anchor="middle" fill="#222">AD</text>
<text x="342" y="764.6" font-size="7.8" text-anchor="middle" fill="#222">(<tspan font-style="italic">n</tspan> = 75)</text>
<text x="296.3" y="572.6" font-size="8.2" fill="#222"><tspan font-style="italic">P</tspan> = 7.1 × 10<tspan font-size="5.2" dy="-3">−5</tspan></text>
<path d="M302.5,583.8 V576.3 H342.5 V583.8" fill="none" stroke="#666" stroke-width="0.9"/>
<circle cx="310.5" cy="714.8" r="2.5" fill="#2e76ee" stroke="#081445" stroke-width="0.85"/><circle cx="311.2" cy="705.2" r="2.5" fill="#2e76ee" stroke="#081445" stroke-width="0.85"/><path d="M300.0,723.6L303.4,729.7H296.5Z" fill="#2fa5ea" stroke="#08202e" stroke-width="0.85" stroke-linejoin="round"/><circle cx="299.1" cy="718.3" r="2.5" fill="#2e76ee" stroke="#081445" stroke-width="0.85"/><circle cx="306.2" cy="718.3" r="2.5" fill="#2e76ee" stroke="#081445" stroke-width="0.85"/><path d="M300.4,723.6L303.8,729.7H296.9Z" fill="#2fa5ea" stroke="#08202e" stroke-width="0.85" stroke-linejoin="round"/><path d="M298.7,713.1L302.2,719.3H295.3Z" fill="#2fa5ea" stroke="#08202e" stroke-width="0.85" stroke-linejoin="round"/><circle cx="304.7" cy="715.7" r="2.5" fill="#2e76ee" stroke="#081445" stroke-width="0.85"/><circle cx="313.4" cy="717.5" r="2.5" fill="#2e76ee" stroke="#081445" stroke-width="0.85"/><circle cx="296.4" cy="716.6" r="2.5" fill="#2e76ee" stroke="#081445" stroke-width="0.85"/><circle cx="307.6" cy="688.7" r="2.5" fill="#2e76ee" stroke="#081445" stroke-width="0.85"/><path d="M307.6,683.5L311.1,689.6H304.2Z" fill="#2fa5ea" stroke="#08202e" stroke-width="0.85" stroke-linejoin="round"/><path d="M297.5,703.0L301.0,709.1H294.1Z" fill="#2fa5ea" stroke="#08202e" stroke-width="0.85" stroke-linejoin="round"/><circle cx="308.0" cy="701.7" r="2.5" fill="#2e76ee" stroke="#081445" stroke-width="0.85"/><path d="M306.3,703.5L309.8,709.7H302.9Z" fill="#2fa5ea" stroke="#08202e" stroke-width="0.85" stroke-linejoin="round"/><circle cx="295.1" cy="709.6" r="2.5" fill="#2e76ee" stroke="#081445" stroke-width="0.85"/><circle cx="297.5" cy="720.1" r="2.5" fill="#2e76ee" stroke="#081445" stroke-width="0.85"/><path d="M307.9,689.6L311.3,695.7H304.4Z" fill="#2fa5ea" stroke="#08202e" stroke-width="0.85" stroke-linejoin="round"/><circle cx="299.7" cy="714.8" r="2.5" fill="#2e76ee" stroke="#081445" stroke-width="0.85"/><circle cx="303.4" cy="714.0" r="2.5" fill="#2e76ee" stroke="#081445" stroke-width="0.85"/><circle cx="305.1" cy="713.1" r="2.5" fill="#2e76ee" stroke="#081445" stroke-width="0.85"/><circle cx="312.9" cy="719.2" r="2.5" fill="#2e76ee" stroke="#081445" stroke-width="0.85"/><path d="M311.8,721.9L315.3,728.0H308.4Z" fill="#2fa5ea" stroke="#08202e" stroke-width="0.85" stroke-linejoin="round"/><path d="M303.5,736.2L307.0,742.3H300.1Z" fill="#2fa5ea" stroke="#08202e" stroke-width="0.85" stroke-linejoin="round"/><circle cx="297.0" cy="723.6" r="2.5" fill="#2e76ee" stroke="#081445" stroke-width="0.85"/><path d="M303.1,707.0L306.6,713.2H299.7Z" fill="#2fa5ea" stroke="#08202e" stroke-width="0.85" stroke-linejoin="round"/><circle cx="309.0" cy="691.3" r="2.5" fill="#2e76ee" stroke="#081445" stroke-width="0.85"/><circle cx="311.7" cy="710.5" r="2.5" fill="#2e76ee" stroke="#081445" stroke-width="0.85"/><path d="M304.3,682.6L307.7,688.7H300.8Z" fill="#2fa5ea" stroke="#08202e" stroke-width="0.85" stroke-linejoin="round"/><path d="M309.4,716.3L312.9,722.4H306.0Z" fill="#2fa5ea" stroke="#08202e" stroke-width="0.85" stroke-linejoin="round"/><circle cx="309.4" cy="723.6" r="2.5" fill="#2e76ee" stroke="#081445" stroke-width="0.85"/><circle cx="311.5" cy="717.5" r="2.5" fill="#2e76ee" stroke="#081445" stroke-width="0.85"/><circle cx="309.0" cy="711.3" r="2.5" fill="#2e76ee" stroke="#081445" stroke-width="0.85"/><circle cx="305.3" cy="725.3" r="2.5" fill="#2e76ee" stroke="#081445" stroke-width="0.85"/><path d="M298.8,707.0L302.2,713.2H295.3Z" fill="#2fa5ea" stroke="#08202e" stroke-width="0.85" stroke-linejoin="round"/><circle cx="300.0" cy="720.1" r="2.5" fill="#2e76ee" stroke="#081445" stroke-width="0.85"/><circle cx="295.8" cy="714.5" r="2.5" fill="#2e76ee" stroke="#081445" stroke-width="0.85"/><path d="M308.5,693.9L312.0,700.1H305.1Z" fill="#2fa5ea" stroke="#08202e" stroke-width="0.85" stroke-linejoin="round"/><circle cx="297.5" cy="722.2" r="2.5" fill="#2e76ee" stroke="#081445" stroke-width="0.85"/><circle cx="301.7" cy="707.3" r="2.5" fill="#2e76ee" stroke="#081445" stroke-width="0.85"/><circle cx="297.2" cy="721.8" r="2.5" fill="#2e76ee" stroke="#081445" stroke-width="0.85"/><circle cx="305.0" cy="709.6" r="2.5" fill="#2e76ee" stroke="#081445" stroke-width="0.85"/><circle cx="314.7" cy="711.9" r="2.5" fill="#2e76ee" stroke="#081445" stroke-width="0.85"/><circle cx="306.1" cy="718.3" r="2.5" fill="#2e76ee" stroke="#081445" stroke-width="0.85"/><circle cx="296.8" cy="706.1" r="2.5" fill="#2e76ee" stroke="#081445" stroke-width="0.85"/><circle cx="305.6" cy="720.9" r="2.5" fill="#2e76ee" stroke="#081445" stroke-width="0.85"/><path d="M311.9,718.7L315.3,724.9H308.4Z" fill="#2fa5ea" stroke="#08202e" stroke-width="0.85" stroke-linejoin="round"/><circle cx="296.1" cy="711.3" r="2.5" fill="#2e76ee" stroke="#081445" stroke-width="0.85"/><circle cx="298.1" cy="702.6" r="2.5" fill="#2e76ee" stroke="#081445" stroke-width="0.85"/><circle cx="312.2" cy="704.4" r="2.5" fill="#2e76ee" stroke="#081445" stroke-width="0.85"/><path d="M304.1,723.6L307.6,729.7H300.7Z" fill="#2fa5ea" stroke="#08202e" stroke-width="0.85" stroke-linejoin="round"/><path d="M309.6,729.7L313.1,735.8H306.2Z" fill="#2fa5ea" stroke="#08202e" stroke-width="0.85" stroke-linejoin="round"/><circle cx="307.0" cy="713.1" r="2.5" fill="#2e76ee" stroke="#081445" stroke-width="0.85"/><circle cx="307.2" cy="716.6" r="2.5" fill="#2e76ee" stroke="#081445" stroke-width="0.85"/><path d="M295.4,711.4L298.9,717.5H292.0Z" fill="#2fa5ea" stroke="#08202e" stroke-width="0.85" stroke-linejoin="round"/><circle cx="297.3" cy="706.1" r="2.5" fill="#2e76ee" stroke="#081445" stroke-width="0.85"/><path d="M309.0,709.6L312.4,715.8H305.5Z" fill="#2fa5ea" stroke="#08202e" stroke-width="0.85" stroke-linejoin="round"/><path d="M306.9,714.0L310.3,720.1H303.4Z" fill="#2fa5ea" stroke="#08202e" stroke-width="0.85" stroke-linejoin="round"/><path d="M301.5,712.3L305.0,718.4H298.1Z" fill="#2fa5ea" stroke="#08202e" stroke-width="0.85" stroke-linejoin="round"/><circle cx="300.9" cy="720.9" r="2.5" fill="#2e76ee" stroke="#081445" stroke-width="0.85"/><path d="M309.1,714.0L312.5,720.1H305.6Z" fill="#2fa5ea" stroke="#08202e" stroke-width="0.85" stroke-linejoin="round"/><circle cx="301.7" cy="707.9" r="2.5" fill="#2e76ee" stroke="#081445" stroke-width="0.85"/><path d="M303.4,688.7L306.9,694.8H300.0Z" fill="#2fa5ea" stroke="#08202e" stroke-width="0.85" stroke-linejoin="round"/><circle cx="297.5" cy="715.7" r="2.5" fill="#2e76ee" stroke="#081445" stroke-width="0.85"/><circle cx="308.4" cy="720.1" r="2.5" fill="#2e76ee" stroke="#081445" stroke-width="0.85"/><path d="M304.9,723.3L308.3,729.4H301.4Z" fill="#2fa5ea" stroke="#08202e" stroke-width="0.85" stroke-linejoin="round"/><circle cx="311.0" cy="697.4" r="2.5" fill="#2e76ee" stroke="#081445" stroke-width="0.85"/><circle cx="315.0" cy="711.3" r="2.5" fill="#2e76ee" stroke="#081445" stroke-width="0.85"/><circle cx="295.0" cy="716.6" r="2.5" fill="#2e76ee" stroke="#081445" stroke-width="0.85"/><circle cx="307.0" cy="697.0" r="2.5" fill="#2e76ee" stroke="#081445" stroke-width="0.85"/><path d="M306.9,710.5L310.3,716.7H303.4Z" fill="#2fa5ea" stroke="#08202e" stroke-width="0.85" stroke-linejoin="round"/><path d="M303.0,684.3L306.4,690.5H299.5Z" fill="#2fa5ea" stroke="#08202e" stroke-width="0.85" stroke-linejoin="round"/><circle cx="306.3" cy="716.9" r="2.5" fill="#2e76ee" stroke="#081445" stroke-width="0.85"/><circle cx="305.6" cy="725.3" r="2.5" fill="#2e76ee" stroke="#081445" stroke-width="0.85"/><circle cx="297.9" cy="707.9" r="2.5" fill="#2e76ee" stroke="#081445" stroke-width="0.85"/><path d="M303.8,659.9L307.2,666.0H300.4Z" fill="#2fa5ea" stroke="#08202e" stroke-width="0.85" stroke-linejoin="round"/><path d="M309.3,659.4L312.8,665.5H305.9Z" fill="#2fa5ea" stroke="#08202e" stroke-width="0.85" stroke-linejoin="round"/><path d="M300.0,735.5L303.4,741.6H296.6Z" fill="#2fa5ea" stroke="#08202e" stroke-width="0.85" stroke-linejoin="round"/><path d="M301.5,736.7L304.9,742.8H298.1Z" fill="#2fa5ea" stroke="#08202e" stroke-width="0.85" stroke-linejoin="round"/><path d="M352.7,700.9L356.1,707.1H349.2Z" fill="#f26e55" stroke="#1f0707" stroke-width="0.85" stroke-linejoin="round"/><path d="M345.9,719.2L349.3,725.4H342.4Z" fill="#f26e55" stroke="#1f0707" stroke-width="0.85" stroke-linejoin="round"/><path d="M348.3,714.0L351.7,720.1H344.8Z" fill="#f26e55" stroke="#1f0707" stroke-width="0.85" stroke-linejoin="round"/><path d="M336.6,726.7L340.0,732.9H333.1Z" fill="#f26e55" stroke="#1f0707" stroke-width="0.85" stroke-linejoin="round"/><circle cx="343.7" cy="675.6" r="2.5" fill="#e03e40" stroke="#1f0707" stroke-width="0.85"/><path d="M337.8,709.6L341.2,715.8H334.3Z" fill="#f26e55" stroke="#1f0707" stroke-width="0.85" stroke-linejoin="round"/><path d="M345.9,673.0L349.4,679.1H342.5Z" fill="#f26e55" stroke="#1f0707" stroke-width="0.85" stroke-linejoin="round"/><circle cx="345.9" cy="683.4" r="2.5" fill="#e03e40" stroke="#1f0707" stroke-width="0.85"/><circle cx="349.9" cy="699.1" r="2.5" fill="#e03e40" stroke="#1f0707" stroke-width="0.85"/><path d="M348.1,707.9L351.5,714.0H344.6Z" fill="#f26e55" stroke="#1f0707" stroke-width="0.85" stroke-linejoin="round"/><circle cx="336.2" cy="711.3" r="2.5" fill="#e03e40" stroke="#1f0707" stroke-width="0.85"/><circle cx="343.8" cy="673.0" r="2.5" fill="#e03e40" stroke="#1f0707" stroke-width="0.85"/><circle cx="332.1" cy="698.3" r="2.5" fill="#e03e40" stroke="#1f0707" stroke-width="0.85"/><circle cx="347.0" cy="721.8" r="2.5" fill="#e03e40" stroke="#1f0707" stroke-width="0.85"/><circle cx="345.1" cy="676.4" r="2.5" fill="#e03e40" stroke="#1f0707" stroke-width="0.85"/><path d="M336.6,715.7L340.0,721.9H333.1Z" fill="#f26e55" stroke="#1f0707" stroke-width="0.85" stroke-linejoin="round"/><circle cx="348.8" cy="705.2" r="2.5" fill="#e03e40" stroke="#1f0707" stroke-width="0.85"/><circle cx="340.4" cy="709.6" r="2.5" fill="#e03e40" stroke="#1f0707" stroke-width="0.85"/><path d="M337.4,711.4L340.9,717.5H334.0Z" fill="#f26e55" stroke="#1f0707" stroke-width="0.85" stroke-linejoin="round"/><circle cx="346.9" cy="716.6" r="2.5" fill="#e03e40" stroke="#1f0707" stroke-width="0.85"/><circle cx="335.4" cy="711.3" r="2.5" fill="#e03e40" stroke="#1f0707" stroke-width="0.85"/><path d="M330.4,693.1L333.8,699.2H326.9Z" fill="#f26e55" stroke="#1f0707" stroke-width="0.85" stroke-linejoin="round"/><circle cx="335.5" cy="716.6" r="2.5" fill="#e03e40" stroke="#1f0707" stroke-width="0.85"/><circle cx="337.2" cy="702.6" r="2.5" fill="#e03e40" stroke="#1f0707" stroke-width="0.85"/><circle cx="347.1" cy="720.9" r="2.5" fill="#e03e40" stroke="#1f0707" stroke-width="0.85"/><circle cx="352.5" cy="701.7" r="2.5" fill="#e03e40" stroke="#1f0707" stroke-width="0.85"/><path d="M336.7,688.7L340.1,694.8H333.2Z" fill="#f26e55" stroke="#1f0707" stroke-width="0.85" stroke-linejoin="round"/><path d="M344.3,708.8L347.8,714.9H340.9Z" fill="#f26e55" stroke="#1f0707" stroke-width="0.85" stroke-linejoin="round"/><circle cx="340.2" cy="677.3" r="2.5" fill="#e03e40" stroke="#1f0707" stroke-width="0.85"/><circle cx="349.8" cy="686.9" r="2.5" fill="#e03e40" stroke="#1f0707" stroke-width="0.85"/><circle cx="342.1" cy="707.0" r="2.5" fill="#e03e40" stroke="#1f0707" stroke-width="0.85"/><circle cx="350.9" cy="693.9" r="2.5" fill="#e03e40" stroke="#1f0707" stroke-width="0.85"/><circle cx="332.1" cy="705.2" r="2.5" fill="#e03e40" stroke="#1f0707" stroke-width="0.85"/><path d="M349.3,715.7L352.8,721.9H345.9Z" fill="#f26e55" stroke="#1f0707" stroke-width="0.85" stroke-linejoin="round"/><path d="M334.3,707.9L337.7,714.0H330.8Z" fill="#f26e55" stroke="#1f0707" stroke-width="0.85" stroke-linejoin="round"/><path d="M349.5,714.9L352.9,721.0H346.0Z" fill="#f26e55" stroke="#1f0707" stroke-width="0.85" stroke-linejoin="round"/><circle cx="336.2" cy="711.3" r="2.5" fill="#e03e40" stroke="#1f0707" stroke-width="0.85"/><path d="M332.5,692.2L335.9,698.3H329.0Z" fill="#f26e55" stroke="#1f0707" stroke-width="0.85" stroke-linejoin="round"/><circle cx="340.1" cy="686.9" r="2.5" fill="#e03e40" stroke="#1f0707" stroke-width="0.85"/><path d="M344.9,680.8L348.4,687.0H341.5Z" fill="#f26e55" stroke="#1f0707" stroke-width="0.85" stroke-linejoin="round"/><circle cx="338.6" cy="722.7" r="2.5" fill="#e03e40" stroke="#1f0707" stroke-width="0.85"/><circle cx="343.2" cy="718.3" r="2.5" fill="#e03e40" stroke="#1f0707" stroke-width="0.85"/><path d="M341.6,698.3L345.0,704.4H338.1Z" fill="#f26e55" stroke="#1f0707" stroke-width="0.85" stroke-linejoin="round"/><circle cx="339.0" cy="714.8" r="2.5" fill="#e03e40" stroke="#1f0707" stroke-width="0.85"/><circle cx="343.1" cy="697.4" r="2.5" fill="#e03e40" stroke="#1f0707" stroke-width="0.85"/><circle cx="336.1" cy="693.0" r="2.5" fill="#e03e40" stroke="#1f0707" stroke-width="0.85"/><circle cx="344.9" cy="686.0" r="2.5" fill="#e03e40" stroke="#1f0707" stroke-width="0.85"/><circle cx="332.5" cy="718.3" r="2.5" fill="#e03e40" stroke="#1f0707" stroke-width="0.85"/><circle cx="351.2" cy="707.9" r="2.5" fill="#e03e40" stroke="#1f0707" stroke-width="0.85"/><path d="M342.0,685.2L345.5,691.4H338.6Z" fill="#f26e55" stroke="#1f0707" stroke-width="0.85" stroke-linejoin="round"/><path d="M346.5,695.7L349.9,701.8H343.0Z" fill="#f26e55" stroke="#1f0707" stroke-width="0.85" stroke-linejoin="round"/><circle cx="347.0" cy="706.1" r="2.5" fill="#e03e40" stroke="#1f0707" stroke-width="0.85"/><path d="M344.1,716.6L347.6,722.8H340.7Z" fill="#f26e55" stroke="#1f0707" stroke-width="0.85" stroke-linejoin="round"/><circle cx="340.4" cy="667.7" r="2.5" fill="#e03e40" stroke="#1f0707" stroke-width="0.85"/><circle cx="331.1" cy="706.1" r="2.5" fill="#e03e40" stroke="#1f0707" stroke-width="0.85"/><path d="M344.0,716.6L347.5,722.8H340.6Z" fill="#f26e55" stroke="#1f0707" stroke-width="0.85" stroke-linejoin="round"/><circle cx="338.1" cy="716.6" r="2.5" fill="#e03e40" stroke="#1f0707" stroke-width="0.85"/><path d="M337.0,704.4L340.4,710.5H333.5Z" fill="#f26e55" stroke="#1f0707" stroke-width="0.85" stroke-linejoin="round"/><circle cx="347.4" cy="718.3" r="2.5" fill="#e03e40" stroke="#1f0707" stroke-width="0.85"/><circle cx="346.6" cy="702.6" r="2.5" fill="#e03e40" stroke="#1f0707" stroke-width="0.85"/><circle cx="338.6" cy="724.4" r="2.5" fill="#e03e40" stroke="#1f0707" stroke-width="0.85"/><path d="M336.7,699.2L340.2,705.3H333.3Z" fill="#f26e55" stroke="#1f0707" stroke-width="0.85" stroke-linejoin="round"/><circle cx="339.1" cy="699.1" r="2.5" fill="#e03e40" stroke="#1f0707" stroke-width="0.85"/><path d="M339.1,706.1L342.5,712.3H335.6Z" fill="#f26e55" stroke="#1f0707" stroke-width="0.85" stroke-linejoin="round"/><circle cx="338.4" cy="681.7" r="2.5" fill="#e03e40" stroke="#1f0707" stroke-width="0.85"/><path d="M332.4,697.4L335.8,703.6H328.9Z" fill="#f26e55" stroke="#1f0707" stroke-width="0.85" stroke-linejoin="round"/><circle cx="339.7" cy="714.0" r="2.5" fill="#e03e40" stroke="#1f0707" stroke-width="0.85"/><circle cx="350.5" cy="713.1" r="2.5" fill="#e03e40" stroke="#1f0707" stroke-width="0.85"/><circle cx="344.4" cy="718.3" r="2.5" fill="#e03e40" stroke="#1f0707" stroke-width="0.85"/><circle cx="350.6" cy="707.9" r="2.5" fill="#e03e40" stroke="#1f0707" stroke-width="0.85"/><circle cx="343.4" cy="687.8" r="2.5" fill="#e03e40" stroke="#1f0707" stroke-width="0.85"/><path d="M346.8,583.0L350.2,589.1H343.4Z" fill="#f26e55" stroke="#1f0707" stroke-width="0.85" stroke-linejoin="round"/><path d="M346.8,591.0L350.2,597.1H343.4Z" fill="#f26e55" stroke="#1f0707" stroke-width="0.85" stroke-linejoin="round"/><path d="M333.8,620.6L337.2,626.8H330.4Z" fill="#f26e55" stroke="#1f0707" stroke-width="0.85" stroke-linejoin="round"/><path d="M332.5,660.4L335.9,666.6H329.1Z" fill="#f26e55" stroke="#1f0707" stroke-width="0.85" stroke-linejoin="round"/><circle cx="348.8" cy="630.7" r="2.5" fill="#e03e40" stroke="#1f0707" stroke-width="0.85"/><circle cx="338.0" cy="644.5" r="2.5" fill="#e03e40" stroke="#1f0707" stroke-width="0.85"/><circle cx="342.0" cy="643.6" r="2.5" fill="#e03e40" stroke="#1f0707" stroke-width="0.85"/><circle cx="349.5" cy="667.7" r="2.5" fill="#e03e40" stroke="#1f0707" stroke-width="0.85"/>
<path d="M288.8,713 H322 M291.3,711.4 H320 M291.3,714.6 H320" stroke="#222" stroke-width="0.7" fill="none"/>
<path d="M325,697.5 H357.5 M327,694.5 H355.8 M327,701.2 H355.8" stroke="#222" stroke-width="0.7" fill="none"/>
<text x="378.8" y="556.8" font-size="10.5" font-weight="bold" fill="#000" style="stroke:#000">j</text>
<line x1="412" y1="647.25" x2="530" y2="647.25" stroke="#3535f0" stroke-width="0.8" stroke-dasharray="2 2"/>
<path d="M427,558.8 V655 H530" fill="none" stroke="#3c3c3c" stroke-width="0.8"/>
<line x1="424.2" y1="647.25" x2="427" y2="647.25" stroke="#3c3c3c" stroke-width="0.8"/>
<rect x="418.1" y="643.75" width="5.6" height="7" fill="#fff"/>
<text x="423.3" y="650.15" font-size="8.1" text-anchor="end" fill="#222">0</text>
<line x1="424.2" y1="630.95" x2="427" y2="630.95" stroke="#3c3c3c" stroke-width="0.8"/>
<text x="423.3" y="633.85" font-size="8.1" text-anchor="end" fill="#222">1,000</text>
<line x1="424.2" y1="614.65" x2="427" y2="614.65" stroke="#3c3c3c" stroke-width="0.8"/>
<text x="423.3" y="617.55" font-size="8.1" text-anchor="end" fill="#222">2,000</text>
<line x1="424.2" y1="598.35" x2="427" y2="598.35" stroke="#3c3c3c" stroke-width="0.8"/>
<text x="423.3" y="601.25" font-size="8.1" text-anchor="end" fill="#222">3,000</text>
<line x1="424.2" y1="582.05" x2="427" y2="582.05" stroke="#3c3c3c" stroke-width="0.8"/>
<text x="423.3" y="584.95" font-size="8.1" text-anchor="end" fill="#222">4,000</text>
<line x1="424.2" y1="565.75" x2="427" y2="565.75" stroke="#3c3c3c" stroke-width="0.8"/>
<text x="423.3" y="568.65" font-size="8.1" text-anchor="end" fill="#222">5,000</text>
<text x="384.3" y="603.8" font-size="9.1" text-anchor="middle" transform="rotate(-90 384.3 603.8)" fill="#222">Excess sSNVs</text>
<text x="395.5" y="603.8" font-size="9.1" text-anchor="middle" transform="rotate(-90 395.5 603.8)" fill="#222">per neuron in PFC</text>
<line x1="434.5" y1="655" x2="434.5" y2="657.8" stroke="#3c3c3c" stroke-width="0.8"/>
<path d="M429.9,629.5H439.1M434.5,641.2V618.2M431.9,641.2H437.1M431.9,618.2H437.1" stroke="#2a2a2a" stroke-width="0.85" fill="none"/>
<text x="436.4" y="661.8" font-size="8.9" text-anchor="end" fill="#222" transform="rotate(-50 436.4 661.8)">(<tspan font-style="italic">n</tspan> = 6) 1353</text>
<line x1="447.0" y1="655" x2="447.0" y2="657.8" stroke="#3c3c3c" stroke-width="0.8"/>
<path d="M442.4,611.4H451.6M447.0,626.4V596.2M444.4,626.4H449.6M444.4,596.2H449.6" stroke="#2a2a2a" stroke-width="0.85" fill="none"/>
<text x="448.9" y="661.8" font-size="8.9" text-anchor="end" fill="#222" transform="rotate(-50 448.9 661.8)">(<tspan font-style="italic">n</tspan> = 6) 1647</text>
<line x1="459.5" y1="655" x2="459.5" y2="657.8" stroke="#3c3c3c" stroke-width="0.8"/>
<path d="M454.9,626.4H464.1M459.5,634.5V618.2M456.9,634.5H462.1M456.9,618.2H462.1" stroke="#2a2a2a" stroke-width="0.85" fill="none"/>
<text x="461.4" y="661.8" font-size="8.9" text-anchor="end" fill="#222" transform="rotate(-50 461.4 661.8)">(<tspan font-style="italic">n</tspan> = 5) 2208</text>
<line x1="472.0" y1="655" x2="472.0" y2="657.8" stroke="#3c3c3c" stroke-width="0.8"/>
<path d="M467.4,638.6H476.6M472.0,642.5V635.0M469.4,642.5H474.6M469.4,635.0H474.6" stroke="#2a2a2a" stroke-width="0.85" fill="none"/>
<text x="473.9" y="661.8" font-size="8.9" text-anchor="end" fill="#222" transform="rotate(-50 473.9 661.8)">(<tspan font-style="italic">n</tspan> = 3) 4556</text>
<line x1="484.5" y1="655" x2="484.5" y2="657.8" stroke="#3c3c3c" stroke-width="0.8"/>
<path d="M479.9,646.4H489.1M484.5,650.0V643.2M481.9,650.0H487.1M481.9,643.2H487.1" stroke="#2a2a2a" stroke-width="0.85" fill="none"/>
<text x="486.4" y="661.8" font-size="8.9" text-anchor="end" fill="#222" transform="rotate(-50 486.4 661.8)">(<tspan font-style="italic">n</tspan> = 6) 5222</text>
<line x1="497.0" y1="655" x2="497.0" y2="657.8" stroke="#3c3c3c" stroke-width="0.8"/>
<path d="M492.4,633.7H501.6M497.0,638.8V628.7M494.4,638.8H499.6M494.4,628.7H499.6" stroke="#2a2a2a" stroke-width="0.85" fill="none"/>
<text x="498.9" y="661.8" font-size="8.9" text-anchor="end" fill="#222" transform="rotate(-50 498.9 661.8)">(<tspan font-style="italic">n</tspan> = 5) 1456</text>
<line x1="509.5" y1="655" x2="509.5" y2="657.8" stroke="#3c3c3c" stroke-width="0.8"/>
<path d="M504.9,632.9H514.1M509.5,638.8V627.5M506.9,638.8H512.1M506.9,627.5H512.1" stroke="#2a2a2a" stroke-width="0.85" fill="none"/>
<text x="511.4" y="661.8" font-size="8.9" text-anchor="end" fill="#222" transform="rotate(-50 511.4 661.8)">(<tspan font-style="italic">n</tspan> = 5) 1995</text>
<line x1="522.0" y1="655" x2="522.0" y2="657.8" stroke="#3c3c3c" stroke-width="0.8"/>
<path d="M517.4,631.0H526.6M522.0,638.3V623.8M519.4,638.3H524.6M519.4,623.8H524.6" stroke="#2a2a2a" stroke-width="0.85" fill="none"/>
<text x="523.9" y="661.8" font-size="8.9" text-anchor="end" fill="#222" transform="rotate(-50 523.9 661.8)">(<tspan font-style="italic">n</tspan> = 4) 1828</text>
<circle cx="433.9" cy="576.3" r="1.5" fill="#a02326" stroke="#2a0606" stroke-width="0.6"/><circle cx="434.7" cy="628.0" r="1.5" fill="#a02326" stroke="#2a0606" stroke-width="0.6"/><circle cx="432.9" cy="640.7" r="1.5" fill="#a02326" stroke="#2a0606" stroke-width="0.6"/><circle cx="433.8" cy="641.5" r="1.5" fill="#a02326" stroke="#2a0606" stroke-width="0.6"/><circle cx="434.3" cy="645.6" r="1.5" fill="#a02326" stroke="#2a0606" stroke-width="0.6"/><circle cx="434.8" cy="646.4" r="1.5" fill="#a02326" stroke="#2a0606" stroke-width="0.6"/><circle cx="447.5" cy="564.1" r="1.5" fill="#a02326" stroke="#2a0606" stroke-width="0.6"/><circle cx="446.9" cy="576.3" r="1.5" fill="#a02326" stroke="#2a0606" stroke-width="0.6"/><circle cx="446.8" cy="599.2" r="1.5" fill="#a02326" stroke="#2a0606" stroke-width="0.6"/><circle cx="446.1" cy="634.2" r="1.5" fill="#a02326" stroke="#2a0606" stroke-width="0.6"/><circle cx="446.9" cy="644.8" r="1.5" fill="#a02326" stroke="#2a0606" stroke-width="0.6"/><circle cx="448.3" cy="650.2" r="1.5" fill="#a02326" stroke="#2a0606" stroke-width="0.6"/><circle cx="460.4" cy="607.3" r="1.5" fill="#a02326" stroke="#2a0606" stroke-width="0.6"/><circle cx="458.4" cy="609.8" r="1.5" fill="#a02326" stroke="#2a0606" stroke-width="0.6"/><circle cx="458.2" cy="629.3" r="1.5" fill="#a02326" stroke="#2a0606" stroke-width="0.6"/><circle cx="459.5" cy="638.6" r="1.5" fill="#a02326" stroke="#2a0606" stroke-width="0.6"/><circle cx="459.9" cy="648.6" r="1.5" fill="#a02326" stroke="#2a0606" stroke-width="0.6"/><circle cx="471.5" cy="634.5" r="1.5" fill="#a02326" stroke="#2a0606" stroke-width="0.6"/><circle cx="473.0" cy="635.8" r="1.5" fill="#a02326" stroke="#2a0606" stroke-width="0.6"/><circle cx="472.8" cy="645.6" r="1.5" fill="#a02326" stroke="#2a0606" stroke-width="0.6"/><circle cx="485.1" cy="639.6" r="1.5" fill="#a02326" stroke="#2a0606" stroke-width="0.6"/><circle cx="483.6" cy="644.8" r="1.5" fill="#a02326" stroke="#2a0606" stroke-width="0.6"/><circle cx="483.5" cy="647.2" r="1.5" fill="#a02326" stroke="#2a0606" stroke-width="0.6"/><circle cx="483.0" cy="648.9" r="1.5" fill="#a02326" stroke="#2a0606" stroke-width="0.6"/><circle cx="483.7" cy="651.3" r="1.5" fill="#a02326" stroke="#2a0606" stroke-width="0.6"/><circle cx="484.4" cy="653.0" r="1.5" fill="#a02326" stroke="#2a0606" stroke-width="0.6"/><circle cx="498.1" cy="622.0" r="1.5" fill="#a02326" stroke="#2a0606" stroke-width="0.6"/><circle cx="495.6" cy="624.4" r="1.5" fill="#a02326" stroke="#2a0606" stroke-width="0.6"/><circle cx="496.7" cy="635.8" r="1.5" fill="#a02326" stroke="#2a0606" stroke-width="0.6"/><circle cx="497.4" cy="640.7" r="1.5" fill="#a02326" stroke="#2a0606" stroke-width="0.6"/><circle cx="496.0" cy="648.6" r="1.5" fill="#a02326" stroke="#2a0606" stroke-width="0.6"/><circle cx="510.1" cy="618.2" r="1.5" fill="#a02326" stroke="#2a0606" stroke-width="0.6"/><circle cx="509.5" cy="623.1" r="1.5" fill="#a02326" stroke="#2a0606" stroke-width="0.6"/><circle cx="508.7" cy="632.6" r="1.5" fill="#a02326" stroke="#2a0606" stroke-width="0.6"/><circle cx="510.0" cy="645.6" r="1.5" fill="#a02326" stroke="#2a0606" stroke-width="0.6"/><circle cx="507.9" cy="646.4" r="1.5" fill="#a02326" stroke="#2a0606" stroke-width="0.6"/><circle cx="522.8" cy="617.9" r="1.5" fill="#a02326" stroke="#2a0606" stroke-width="0.6"/><circle cx="522.9" cy="627.7" r="1.5" fill="#a02326" stroke="#2a0606" stroke-width="0.6"/><circle cx="520.7" cy="628.5" r="1.5" fill="#a02326" stroke="#2a0606" stroke-width="0.6"/><circle cx="521.8" cy="651.3" r="1.5" fill="#a02326" stroke="#2a0606" stroke-width="0.6"/>
<text x="476.3" y="709.5" font-size="8.9" text-anchor="middle" fill="#222">AD case ID</text>
<text x="410.3" y="650" font-size="7.9" text-anchor="end" fill="#222">Expected</text>
<text x="410.3" y="658.4" font-size="7.9" text-anchor="end" fill="#222">for age</text>
<text x="532.5" y="556.8" font-size="10.5" font-weight="bold" fill="#000" style="stroke:#000">k</text>
<line x1="580.5" y1="645" x2="683.8" y2="645" stroke="#3535f0" stroke-width="0.8" stroke-dasharray="2 2"/>
<path d="M580.5,559.5 V655 H683.8" fill="none" stroke="#3c3c3c" stroke-width="0.8"/>
<line x1="577.7" y1="645.00" x2="580.5" y2="645.00" stroke="#3c3c3c" stroke-width="0.8"/>
<text x="577" y="647.9" font-size="8.1" text-anchor="end" fill="#222">0</text>
<line x1="577.7" y1="624.04" x2="580.5" y2="624.04" stroke="#3c3c3c" stroke-width="0.8"/>
<text x="577" y="626.94" font-size="8.1" text-anchor="end" fill="#222">2,000</text>
<line x1="577.7" y1="603.08" x2="580.5" y2="603.08" stroke="#3c3c3c" stroke-width="0.8"/>
<text x="577" y="605.98" font-size="8.1" text-anchor="end" fill="#222">4,000</text>
<line x1="577.7" y1="582.12" x2="580.5" y2="582.12" stroke="#3c3c3c" stroke-width="0.8"/>
<text x="577" y="585.02" font-size="8.1" text-anchor="end" fill="#222">6,000</text>
<line x1="577.7" y1="561.16" x2="580.5" y2="561.16" stroke="#3c3c3c" stroke-width="0.8"/>
<text x="577" y="564.06" font-size="8.1" text-anchor="end" fill="#222">8,000</text>
<text x="539.8" y="603" font-size="9.1" text-anchor="middle" transform="rotate(-90 539.8 603)" fill="#222">Excess sSNVs</text>
<text x="551" y="603" font-size="9.1" text-anchor="middle" transform="rotate(-90 551 603)" fill="#222">per neuron in HC</text>
<line x1="588.3" y1="655" x2="588.3" y2="657.8" stroke="#3c3c3c" stroke-width="0.8"/>
<path d="M583.7,637.1H592.9M588.3,642.5V632.0M585.7,642.5H590.9M585.7,632.0H590.9" stroke="#2a2a2a" stroke-width="0.85" fill="none"/>
<text x="590.2" y="661.8" font-size="8.9" text-anchor="end" fill="#222" transform="rotate(-50 590.2 661.8)">(<tspan font-style="italic">n</tspan> = 4) 1353</text>
<line x1="600.8" y1="655" x2="600.8" y2="657.8" stroke="#3c3c3c" stroke-width="0.8"/>
<path d="M596.2,645.2H605.4M600.8,645.9V644.4M598.2,645.9H603.4M598.2,644.4H603.4" stroke="#2a2a2a" stroke-width="0.85" fill="none"/>
<text x="602.7" y="661.8" font-size="8.9" text-anchor="end" fill="#222" transform="rotate(-50 602.7 661.8)">(<tspan font-style="italic">n</tspan> = 4) 1647</text>
<line x1="613.3" y1="655" x2="613.3" y2="657.8" stroke="#3c3c3c" stroke-width="0.8"/>
<path d="M608.7,620.9H617.9M613.3,634.5V607.1M610.7,634.5H615.9M610.7,607.1H615.9" stroke="#2a2a2a" stroke-width="0.85" fill="none"/>
<text x="615.2" y="661.8" font-size="8.9" text-anchor="end" fill="#222" transform="rotate(-50 615.2 661.8)">(<tspan font-style="italic">n</tspan> = 5) 2208</text>
<line x1="625.8" y1="655" x2="625.8" y2="657.8" stroke="#3c3c3c" stroke-width="0.8"/>
<path d="M621.2,647.6H630.4M625.8,649.2V646.0M623.2,649.2H628.4M623.2,646.0H628.4" stroke="#2a2a2a" stroke-width="0.85" fill="none"/>
<text x="627.7" y="661.8" font-size="8.9" text-anchor="end" fill="#222" transform="rotate(-50 627.7 661.8)">(<tspan font-style="italic">n</tspan> = 5) 4556</text>
<line x1="638.3" y1="655" x2="638.3" y2="657.8" stroke="#3c3c3c" stroke-width="0.8"/>
<path d="M633.7,629.3H642.9M638.3,644.3V615.0M635.7,644.3H640.9M635.7,615.0H640.9" stroke="#2a2a2a" stroke-width="0.85" fill="none"/>
<text x="640.2" y="661.8" font-size="8.9" text-anchor="end" fill="#222" transform="rotate(-50 640.2 661.8)">(<tspan font-style="italic">n</tspan> = 5) 5222</text>
<line x1="650.8" y1="655" x2="650.8" y2="657.8" stroke="#3c3c3c" stroke-width="0.8"/>
<path d="M646.2,634.3H655.4M650.8,638.7V630.0M648.2,638.7H653.4M648.2,630.0H653.4" stroke="#2a2a2a" stroke-width="0.85" fill="none"/>
<text x="652.7" y="661.8" font-size="8.9" text-anchor="end" fill="#222" transform="rotate(-50 652.7 661.8)">(<tspan font-style="italic">n</tspan> = 4) 1456</text>
<line x1="663.3" y1="655" x2="663.3" y2="657.8" stroke="#3c3c3c" stroke-width="0.8"/>
<path d="M658.7,614.6H667.9M663.3,625.5V603.4M660.7,625.5H665.9M660.7,603.4H665.9" stroke="#2a2a2a" stroke-width="0.85" fill="none"/>
<text x="665.2" y="661.8" font-size="8.9" text-anchor="end" fill="#222" transform="rotate(-50 665.2 661.8)">(<tspan font-style="italic">n</tspan> = 3) 1995</text>
<line x1="675.8" y1="655" x2="675.8" y2="657.8" stroke="#3c3c3c" stroke-width="0.8"/>
<path d="M671.2,647.4H680.4M675.8,650.0V644.8M673.2,650.0H678.4M673.2,644.8H678.4" stroke="#2a2a2a" stroke-width="0.85" fill="none"/>
<text x="677.7" y="661.8" font-size="8.9" text-anchor="end" fill="#222" transform="rotate(-50 677.7 661.8)">(<tspan font-style="italic">n</tspan> = 5) 1828</text>
<path d="M587.3,620.9L589.4,624.6H585.2Z" fill="#e8604e" stroke="#2a0606" stroke-width="0.6" stroke-linejoin="round"/><path d="M589.8,636.6L591.9,640.4H587.7Z" fill="#e8604e" stroke="#2a0606" stroke-width="0.6" stroke-linejoin="round"/><path d="M588.4,638.7L590.5,642.4H586.3Z" fill="#e8604e" stroke="#2a0606" stroke-width="0.6" stroke-linejoin="round"/><path d="M586.9,640.8L589.0,644.5H584.8Z" fill="#e8604e" stroke="#2a0606" stroke-width="0.6" stroke-linejoin="round"/><path d="M600.0,641.9L602.1,645.6H597.9Z" fill="#e8604e" stroke="#2a0606" stroke-width="0.6" stroke-linejoin="round"/><path d="M601.9,642.9L604.0,646.6H599.8Z" fill="#e8604e" stroke="#2a0606" stroke-width="0.6" stroke-linejoin="round"/><path d="M600.7,643.4L602.8,647.2H598.6Z" fill="#e8604e" stroke="#2a0606" stroke-width="0.6" stroke-linejoin="round"/><path d="M601.8,643.9L603.9,647.7H599.7Z" fill="#e8604e" stroke="#2a0606" stroke-width="0.6" stroke-linejoin="round"/><path d="M613.8,565.3L615.9,569.1H611.7Z" fill="#e8604e" stroke="#2a0606" stroke-width="0.6" stroke-linejoin="round"/><path d="M614.9,629.3L617.0,633.0H612.8Z" fill="#e8604e" stroke="#2a0606" stroke-width="0.6" stroke-linejoin="round"/><path d="M613.6,632.4L615.7,636.2H611.5Z" fill="#e8604e" stroke="#2a0606" stroke-width="0.6" stroke-linejoin="round"/><path d="M614.7,635.6L616.8,639.3H612.6Z" fill="#e8604e" stroke="#2a0606" stroke-width="0.6" stroke-linejoin="round"/><path d="M614.6,631.9L616.7,635.6H612.5Z" fill="#e8604e" stroke="#2a0606" stroke-width="0.6" stroke-linejoin="round"/><path d="M626.2,642.9L628.3,646.6H624.1Z" fill="#e8604e" stroke="#2a0606" stroke-width="0.6" stroke-linejoin="round"/><path d="M626.5,643.9L628.6,647.7H624.4Z" fill="#e8604e" stroke="#2a0606" stroke-width="0.6" stroke-linejoin="round"/><path d="M625.8,645.0L627.9,648.7H623.7Z" fill="#e8604e" stroke="#2a0606" stroke-width="0.6" stroke-linejoin="round"/><path d="M626.9,646.0L629.0,649.8H624.8Z" fill="#e8604e" stroke="#2a0606" stroke-width="0.6" stroke-linejoin="round"/><path d="M626.0,651.3L628.1,655.0H623.9Z" fill="#e8604e" stroke="#2a0606" stroke-width="0.6" stroke-linejoin="round"/><path d="M639.6,572.2L641.7,575.9H637.5Z" fill="#e8604e" stroke="#2a0606" stroke-width="0.6" stroke-linejoin="round"/><path d="M639.1,632.4L641.2,636.2H637.0Z" fill="#e8604e" stroke="#2a0606" stroke-width="0.6" stroke-linejoin="round"/><path d="M638.2,640.3L640.3,644.0H636.1Z" fill="#e8604e" stroke="#2a0606" stroke-width="0.6" stroke-linejoin="round"/><path d="M637.5,641.9L639.6,645.6H635.4Z" fill="#e8604e" stroke="#2a0606" stroke-width="0.6" stroke-linejoin="round"/><path d="M637.5,647.6L639.6,651.4H635.4Z" fill="#e8604e" stroke="#2a0606" stroke-width="0.6" stroke-linejoin="round"/><path d="M651.2,622.5L653.3,626.2H649.1Z" fill="#e8604e" stroke="#2a0606" stroke-width="0.6" stroke-linejoin="round"/><path d="M651.7,630.3L653.8,634.1H649.6Z" fill="#e8604e" stroke="#2a0606" stroke-width="0.6" stroke-linejoin="round"/><path d="M650.9,634.5L653.0,638.3H648.8Z" fill="#e8604e" stroke="#2a0606" stroke-width="0.6" stroke-linejoin="round"/><path d="M651.2,641.3L653.3,645.1H649.1Z" fill="#e8604e" stroke="#2a0606" stroke-width="0.6" stroke-linejoin="round"/><path d="M662.6,592.1L664.7,595.8H660.5Z" fill="#e8604e" stroke="#2a0606" stroke-width="0.6" stroke-linejoin="round"/><path d="M661.9,616.2L664.0,619.9H659.8Z" fill="#e8604e" stroke="#2a0606" stroke-width="0.6" stroke-linejoin="round"/><path d="M662.6,628.8L664.7,632.5H660.5Z" fill="#e8604e" stroke="#2a0606" stroke-width="0.6" stroke-linejoin="round"/><path d="M675.1,639.2L677.2,643.0H673.0Z" fill="#e8604e" stroke="#2a0606" stroke-width="0.6" stroke-linejoin="round"/><path d="M675.2,643.9L677.3,647.7H673.1Z" fill="#e8604e" stroke="#2a0606" stroke-width="0.6" stroke-linejoin="round"/><path d="M675.9,646.0L678.0,649.8H673.8Z" fill="#e8604e" stroke="#2a0606" stroke-width="0.6" stroke-linejoin="round"/><path d="M674.6,647.6L676.7,651.4H672.5Z" fill="#e8604e" stroke="#2a0606" stroke-width="0.6" stroke-linejoin="round"/><path d="M674.9,649.7L677.0,653.5H672.8Z" fill="#e8604e" stroke="#2a0606" stroke-width="0.6" stroke-linejoin="round"/>
<text x="632.5" y="709.5" font-size="8.9" text-anchor="middle" fill="#222">AD case ID</text>
</g>
<g id="panel-l">
<text x="454" y="728.3" font-size="10.5" font-weight="bold" fill="#000" style="stroke:#000">l</text>
<circle cx="520.5" cy="783.1" r="58.2" fill="none" stroke="#ececec" stroke-width="3" pathLength="3600" stroke-dasharray="0 4 295 9 287 9 234 9 226 9 213 9 202 9 188 9 173 9 167 9 160 9 160 9 158 9 136 9 126 9 122 9 106 9 96 9 92 9 70 9 75 9 56 9 60 6" transform="rotate(-91.5 520.5 783.1)"/>
<circle cx="520.5" cy="783.1" r="58.2" fill="none" stroke="#c4c4c4" stroke-width="3" pathLength="3600" stroke-dasharray="0 83 12 23 13 33 10 114 7 24 14 69 16 42 11 43 5 38 8 52 9 234 6 7 10 215 11 29 7 179 5 30 11 77 10 4 12 3 7 47 7 6 13 15 14 41 10 21 6 51 11 200 14 4 6 7 10 43 7 19 5 51 15 1 7 36 15 52 8 39 13 44 17 101 13 125 14 218 7 57 5 43 17 19 12 42 7 24 9 4 12 52 16 16 10 66 13 81 9 58 11 2 15 91 13 55 8 6 6 6" transform="rotate(-91.5 520.5 783.1)"/>
<circle cx="520.5" cy="783.1" r="58.2" fill="none" stroke="#858585" stroke-width="3" pathLength="3600" stroke-dasharray="0 46 14 72 14 4 10 218 10 36 14 59 14 95 10 16 11 42 13 151 5 35 13 182 11 19 5 78 13 17 13 17 7 71 10 27 16 28 12 61 15 13 11 146 17 52 17 11 16 85 13 83 6 2 16 27 14 11 6 69 14 53 16 3 9 27 9 92 7 40 9 12 5 55 13 1 10 2 7 7 13 13 7 53 15 4 7 4 8 6 8 33 12 50 11 1 15 6 8 2 8 39 6 103 14 32 17 18 14 100 8 20 12 132 8 14 15 255" transform="rotate(-91.5 520.5 783.1)"/>
<circle cx="520.5" cy="783.1" r="58.2" fill="none" stroke="#303030" stroke-width="3" pathLength="3600" stroke-dasharray="0 6 10 5 8 72 15 95 9 25 17 105 7 16 9 41 15 20 6 55 16 16 14 65 8 18 9 23 7 20 15 20 11 1 9 4 14 156 17 71 16 82 6 14 14 6 6 20 8 23 7 27 15 12 15 114 7 117 8 43 14 14 13 16 6 147 16 1 14 2 14 44 11 71 11 68 15 166 8 95 10 54 15 18 15 81 9 95 10 2 11 20 10 90 12 49 13 14 11 289 9 15 16 20 12 2 11 84 11 72 14 22 10 55 13 51" transform="rotate(-91.5 520.5 783.1)"/>
<circle cx="520.5" cy="783.1" r="58.2" fill="none" stroke="#e03030" stroke-width="3" pathLength="3600" stroke-dasharray="0 147 9 256 9 286 9 185 9 225 9 229 9 200 9 170 9 178 9 156 9 177 9 138 9 136 9 136 9 128 9 143 9 92 9 87 9 103 9 71 9 57 9 59 9 44" transform="rotate(-91.5 520.5 783.1)"/>
<circle cx="520.5" cy="783.1" r="59.7" fill="none" stroke="#555" stroke-width="0.6"/>
<circle cx="520.5" cy="783.1" r="56.7" fill="none" stroke="#555" stroke-width="0.4"/>
<circle cx="520.5" cy="783.1" r="54.375" fill="none" stroke="#ff8585" stroke-width="2.85" pathLength="3600" stroke-dasharray="0 4 43 2 53 2 37 21 40 2 24 3 48 2 18 9 42 2 22 2 28 2 8 6 27 3 32 2 34 2 31 3 21 2 18 9 39 2 45 2 17 5 40 2 43 3 36 9 51 2 3 5 33 3 47 2 57 3 20 9 55 4 57 2 24 2 23 2 35 3 6 9 22 1 42 3 3 4 33 3 27 3 39 2 20 9 59 2 9 4 43 2 38 2 25 1 3 9 29 2 20 5 57 3 48 2 7 9 41 4 3 20 21 2 49 1 26 9 21 3 21 5 29 1 57 3 20 9 28 2 32 4 56 2 32 13 25 2 14 3 54 3 36 3 18 21 34 3 38 3 46 22 39 2 31 2 34 3 2 23 56 2 50 9 28 2 9 9 57 10 28 3 30 2 33 9 19 3 24 2 24 2 18 9 30 4 36 9 26 2 3 3 41 17 33 2 13 21 28 2 18 6" transform="rotate(-91.5 520.5 783.1)"/>
<circle cx="520.5" cy="783.1" r="50.125" fill="none" stroke="#dba51c" stroke-width="2.85" pathLength="3600" stroke-dasharray="0 4 49 2 35 2 28 2 19 21 32 4 24 2 60 3 12 9 22 3 30 2 37 4 8 6 31 4 55 2 39 4 30 3 7 9 24 2 36 2 41 5 50 2 24 2 46 9 25 2 29 5 25 1 57 2 58 2 20 9 46 2 7 4 36 1 30 2 55 3 27 9 25 2 44 4 41 2 45 3 27 2 7 9 30 2 38 4 46 3 33 3 29 9 51 5 48 2 41 2 24 9 40 3 5 20 36 4 41 2 16 9 45 5 59 1 47 12 44 2 16 4 55 2 30 2 5 9 41 3 52 3 59 21 42 3 41 2 36 22 49 2 47 3 12 23 45 3 48 2 10 9 39 9 23 3 23 2 7 9 28 3 45 1 19 9 19 3 30 3 37 9 27 7 34 11 31 3 41 17 48 21 41 3 4 6" transform="rotate(-91.5 520.5 783.1)"/>
<circle cx="520.5" cy="783.1" r="45.875" fill="none" stroke="#86bc14" stroke-width="2.85" pathLength="3600" stroke-dasharray="0 4 38 4 25 3 59 3 5 21 33 2 45 1 34 3 19 9 61 1 33 2 9 6 53 2 49 4 59 1 7 9 45 2 46 2 10 5 44 4 58 2 16 9 38 2 16 5 41 3 62 3 40 3 13 9 53 6 54 2 27 2 28 3 38 9 33 1 37 4 30 2 41 3 51 9 27 4 39 4 32 3 63 4 12 9 48 8 40 2 37 3 35 9 48 20 67 2 30 9 25 4 16 5 37 1 59 2 11 9 62 4 26 3 49 3 13 9 32 4 5 3 31 3 39 2 29 4 6 21 51 2 57 2 12 22 62 4 47 23 36 3 32 3 34 9 39 9 58 9 28 3 59 2 4 9 19 3 46 4 20 9 30 4 34 11 31 3 41 17 29 1 18 21 48 6" transform="rotate(-91.5 520.5 783.1)"/>
<circle cx="520.5" cy="783.1" r="41.625" fill="none" stroke="#14c586" stroke-width="2.85" pathLength="3600" stroke-dasharray="0 4 38 4 37 2 31 2 23 21 40 2 67 2 26 9 43 2 61 6 65 2 67 4 37 9 42 3 54 4 2 5 31 2 54 3 34 9 50 4 2 5 59 2 49 3 52 9 31 4 20 4 68 2 60 4 20 9 63 4 4 4 37 3 34 1 29 3 20 9 47 4 19 4 45 4 53 4 8 9 42 2 7 5 58 2 57 9 36 3 9 20 68 2 29 9 37 3 5 5 64 2 44 9 55 2 5 4 33 2 59 9 41 3 46 3 65 21 38 3 40 2 41 22 61 4 48 23 44 4 54 2 4 9 39 9 36 2 20 9 28 3 38 4 23 9 19 3 67 12 30 4 33 12 31 3 41 17 35 3 10 21 39 2 7 6" transform="rotate(-91.5 520.5 783.1)"/>
<circle cx="520.5" cy="783.1" r="37.375" fill="none" stroke="#14cadb" stroke-width="2.85" pathLength="3600" stroke-dasharray="0 4 49 5 72 3 8 21 55 4 60 3 15 9 72 5 29 6 50 3 48 4 47 3 20 9 38 3 34 2 28 5 71 3 50 9 48 2 6 5 78 3 31 3 44 3 3 9 35 4 16 4 35 2 53 5 30 2 27 9 58 3 10 4 46 4 42 4 31 9 32 4 34 4 63 2 49 9 38 2 11 5 37 2 68 4 6 9 48 20 30 3 57 3 6 9 45 5 64 4 42 9 58 8 36 3 37 3 15 9 41 3 38 4 72 21 65 5 34 3 17 22 48 4 36 4 21 23 43 3 55 4 3 9 29 2 8 9 58 9 28 3 65 9 19 3 39 4 27 9 30 4 36 9 31 3 39 19 48 21 48 6" transform="rotate(-91.5 520.5 783.1)"/>
<circle cx="520.5" cy="783.1" r="33.125" fill="none" stroke="#14a8fc" stroke-width="2.85" pathLength="3600" stroke-dasharray="0 4 42 3 67 3 22 21 69 5 63 9 32 3 68 9 80 3 63 5 24 9 61 5 39 5 72 2 50 9 39 3 14 5 83 2 52 4 24 9 55 4 33 3 50 4 54 3 7 9 71 4 35 5 64 3 20 9 67 7 81 3 30 9 32 3 16 5 40 5 57 4 11 9 48 20 34 3 62 9 45 5 76 4 30 9 62 4 77 3 14 9 41 3 56 4 49 3 2 21 81 4 39 22 57 3 53 23 55 3 50 9 39 9 33 4 21 9 28 3 65 9 19 3 45 3 22 9 30 4 36 9 31 3 32 2 7 17 48 21 37 3 8 6" transform="rotate(-91.5 520.5 783.1)"/>
<circle cx="520.5" cy="783.1" r="28.875" fill="none" stroke="#d99cfa" stroke-width="2.85" pathLength="3600" stroke-dasharray="0 4 77 3 57 21 40 4 85 5 3 9 52 3 51 6 62 4 79 3 27 9 86 6 13 5 37 3 60 5 19 9 56 5 84 5 76 9 48 5 2 4 68 3 66 6 11 9 64 11 72 5 50 9 70 4 55 4 55 9 51 5 80 3 34 9 48 20 79 4 16 9 45 5 89 3 18 9 62 4 69 5 20 9 41 3 52 5 52 26 60 4 55 27 70 6 37 23 79 3 26 9 39 9 58 9 28 3 65 9 19 3 70 9 30 4 36 9 31 3 41 17 48 21 44 10" transform="rotate(-91.5 520.5 783.1)"/>
<circle cx="520.5" cy="783.1" r="24.625" fill="none" stroke="#fc62c8" stroke-width="2.85" pathLength="3600" stroke-dasharray="0 4 94 5 38 21 66 7 64 9 89 6 11 6 71 7 50 3 44 9 101 9 54 7 63 9 56 5 98 6 61 9 55 4 74 6 43 6 25 9 48 4 19 4 52 4 71 9 51 3 16 4 46 4 44 6 14 9 51 5 75 6 36 9 48 20 67 4 28 9 45 5 94 4 12 9 62 4 84 5 5 9 41 3 101 3 10 21 90 7 27 22 64 4 45 23 98 6 4 9 39 9 58 9 28 3 56 5 4 9 19 3 69 10 30 4 36 9 31 3 41 17 48 21 46 8" transform="rotate(-91.5 520.5 783.1)"/>
<path d="M530.9,764.3L549.5,730.4M538.8,771.8L571.8,751.6M541.8,780.4L580.2,775.5M541.1,789.1L578.3,799.9M537.3,796.5L567.6,820.6M531.4,801.6L551.0,835.0M524.5,804.2L531.7,842.3M517.7,804.4L512.7,842.8M511.4,802.6L495.1,837.7M506.1,799.1L480.2,827.9M502.1,794.2L469.0,814.3M499.7,788.5L462.2,798.1M499.0,783.1L460.3,783.1M499.6,778.0L462.0,769.0M501.3,773.5L466.7,756.1M503.6,769.8L473.2,745.9M506.3,767.0L480.7,737.9M509.4,764.7L489.3,731.6M512.0,763.4L496.6,727.8M514.9,762.3L504.9,725.0M517.3,761.8L511.7,723.5M519.9,761.6L518.9,722.9" stroke="#fff" stroke-width="0.7" fill="none"/>
<text x="536.8" y="724.4" font-size="6.7" text-anchor="middle" fill="#222" style="stroke-width:.08px">1</text>
<text x="565.8" y="741.9" font-size="6.7" text-anchor="middle" fill="#222" style="stroke-width:.08px">2</text>
<text x="580.8" y="766.2" font-size="6.7" text-anchor="middle" fill="#222" style="stroke-width:.08px">3</text>
<text x="583.2" y="792.4" font-size="6.7" text-anchor="middle" fill="#222" style="stroke-width:.08px">4</text>
<text x="576.2" y="814.9" font-size="6.7" text-anchor="middle" fill="#222" style="stroke-width:.08px">5</text>
<text x="561.8" y="834.4" font-size="6.7" text-anchor="middle" fill="#222" style="stroke-width:.08px">6</text>
<text x="541.8" y="846.9" font-size="6.7" text-anchor="middle" fill="#222" style="stroke-width:.08px">7</text>
<text x="520.5" y="850.7" font-size="6.7" text-anchor="middle" fill="#222" style="stroke-width:.08px">8</text>
<text x="500.8" y="848.2" font-size="6.7" text-anchor="middle" fill="#222" style="stroke-width:.08px">9</text>
<text x="482.5" y="839.9" font-size="6.7" text-anchor="middle" fill="#222" style="stroke-width:.08px">10</text>
<text x="468.2" y="826.7" font-size="6.7" text-anchor="middle" fill="#222" style="stroke-width:.08px">11</text>
<text x="459.5" y="809.9" font-size="6.7" text-anchor="middle" fill="#222" style="stroke-width:.08px">12</text>
<text x="455.5" y="793.7" font-size="6.7" text-anchor="middle" fill="#222" style="stroke-width:.08px">13</text>
<text x="455.0" y="778.7" font-size="6.7" text-anchor="middle" fill="#222" style="stroke-width:.08px">14</text>
<text x="458.0" y="764.4" font-size="6.7" text-anchor="middle" fill="#222" style="stroke-width:.08px">15</text>
<text x="464.2" y="751.9" font-size="6.7" text-anchor="middle" fill="#222" style="stroke-width:.08px">16</text>
<text x="471.2" y="741.7" font-size="6.7" text-anchor="middle" fill="#222" style="stroke-width:.08px">17</text>
<text x="480.0" y="733.7" font-size="6.7" text-anchor="middle" fill="#222" style="stroke-width:.08px">18</text>
<text x="491.8" y="727.4" font-size="6.7" text-anchor="middle" fill="#222" style="stroke-width:.08px">19</text>
<text x="500.0" y="724.9" font-size="6.7" text-anchor="middle" fill="#222" style="stroke-width:.08px">20</text>
<text x="508.0" y="722.9" font-size="6.7" text-anchor="middle" fill="#222" style="stroke-width:.08px">21</text>
<text x="515.8" y="722.4" font-size="6.7" text-anchor="middle" fill="#222" style="stroke-width:.08px">22</text>
<text x="603.6" y="743" font-size="8.9" fill="#222">AD case ID</text>
<line x1="605" y1="751.80" x2="618" y2="751.80" stroke="#ff9c9c" stroke-width="1"/>
<text x="622.6" y="755.0" font-size="9.0" fill="#222">1353</text>
<line x1="605" y1="761.63" x2="618" y2="761.63" stroke="#e2b548" stroke-width="1"/>
<text x="622.6" y="764.83" font-size="9.0" fill="#222">1647</text>
<line x1="605" y1="771.46" x2="618" y2="771.46" stroke="#a4cc38" stroke-width="1"/>
<text x="622.6" y="774.66" font-size="9.0" fill="#222">2208</text>
<line x1="605" y1="781.29" x2="618" y2="781.29" stroke="#38d498" stroke-width="1"/>
<text x="622.6" y="784.49" font-size="9.0" fill="#222">4556</text>
<line x1="605" y1="791.12" x2="618" y2="791.12" stroke="#38dae4" stroke-width="1"/>
<text x="622.6" y="794.32" font-size="9.0" fill="#222">5222</text>
<line x1="605" y1="800.95" x2="618" y2="800.95" stroke="#38bcf8" stroke-width="1"/>
<text x="622.6" y="804.15" font-size="9.0" fill="#222">1456</text>
<line x1="605" y1="810.78" x2="618" y2="810.78" stroke="#e2b4f8" stroke-width="1"/>
<text x="622.6" y="813.98" font-size="9.0" fill="#222">1995</text>
<line x1="605" y1="820.61" x2="618" y2="820.61" stroke="#ff84d2" stroke-width="1"/>
<text x="622.6" y="823.81" font-size="9.0" fill="#222">1828</text>
</g>
</svg>
</body></html>
